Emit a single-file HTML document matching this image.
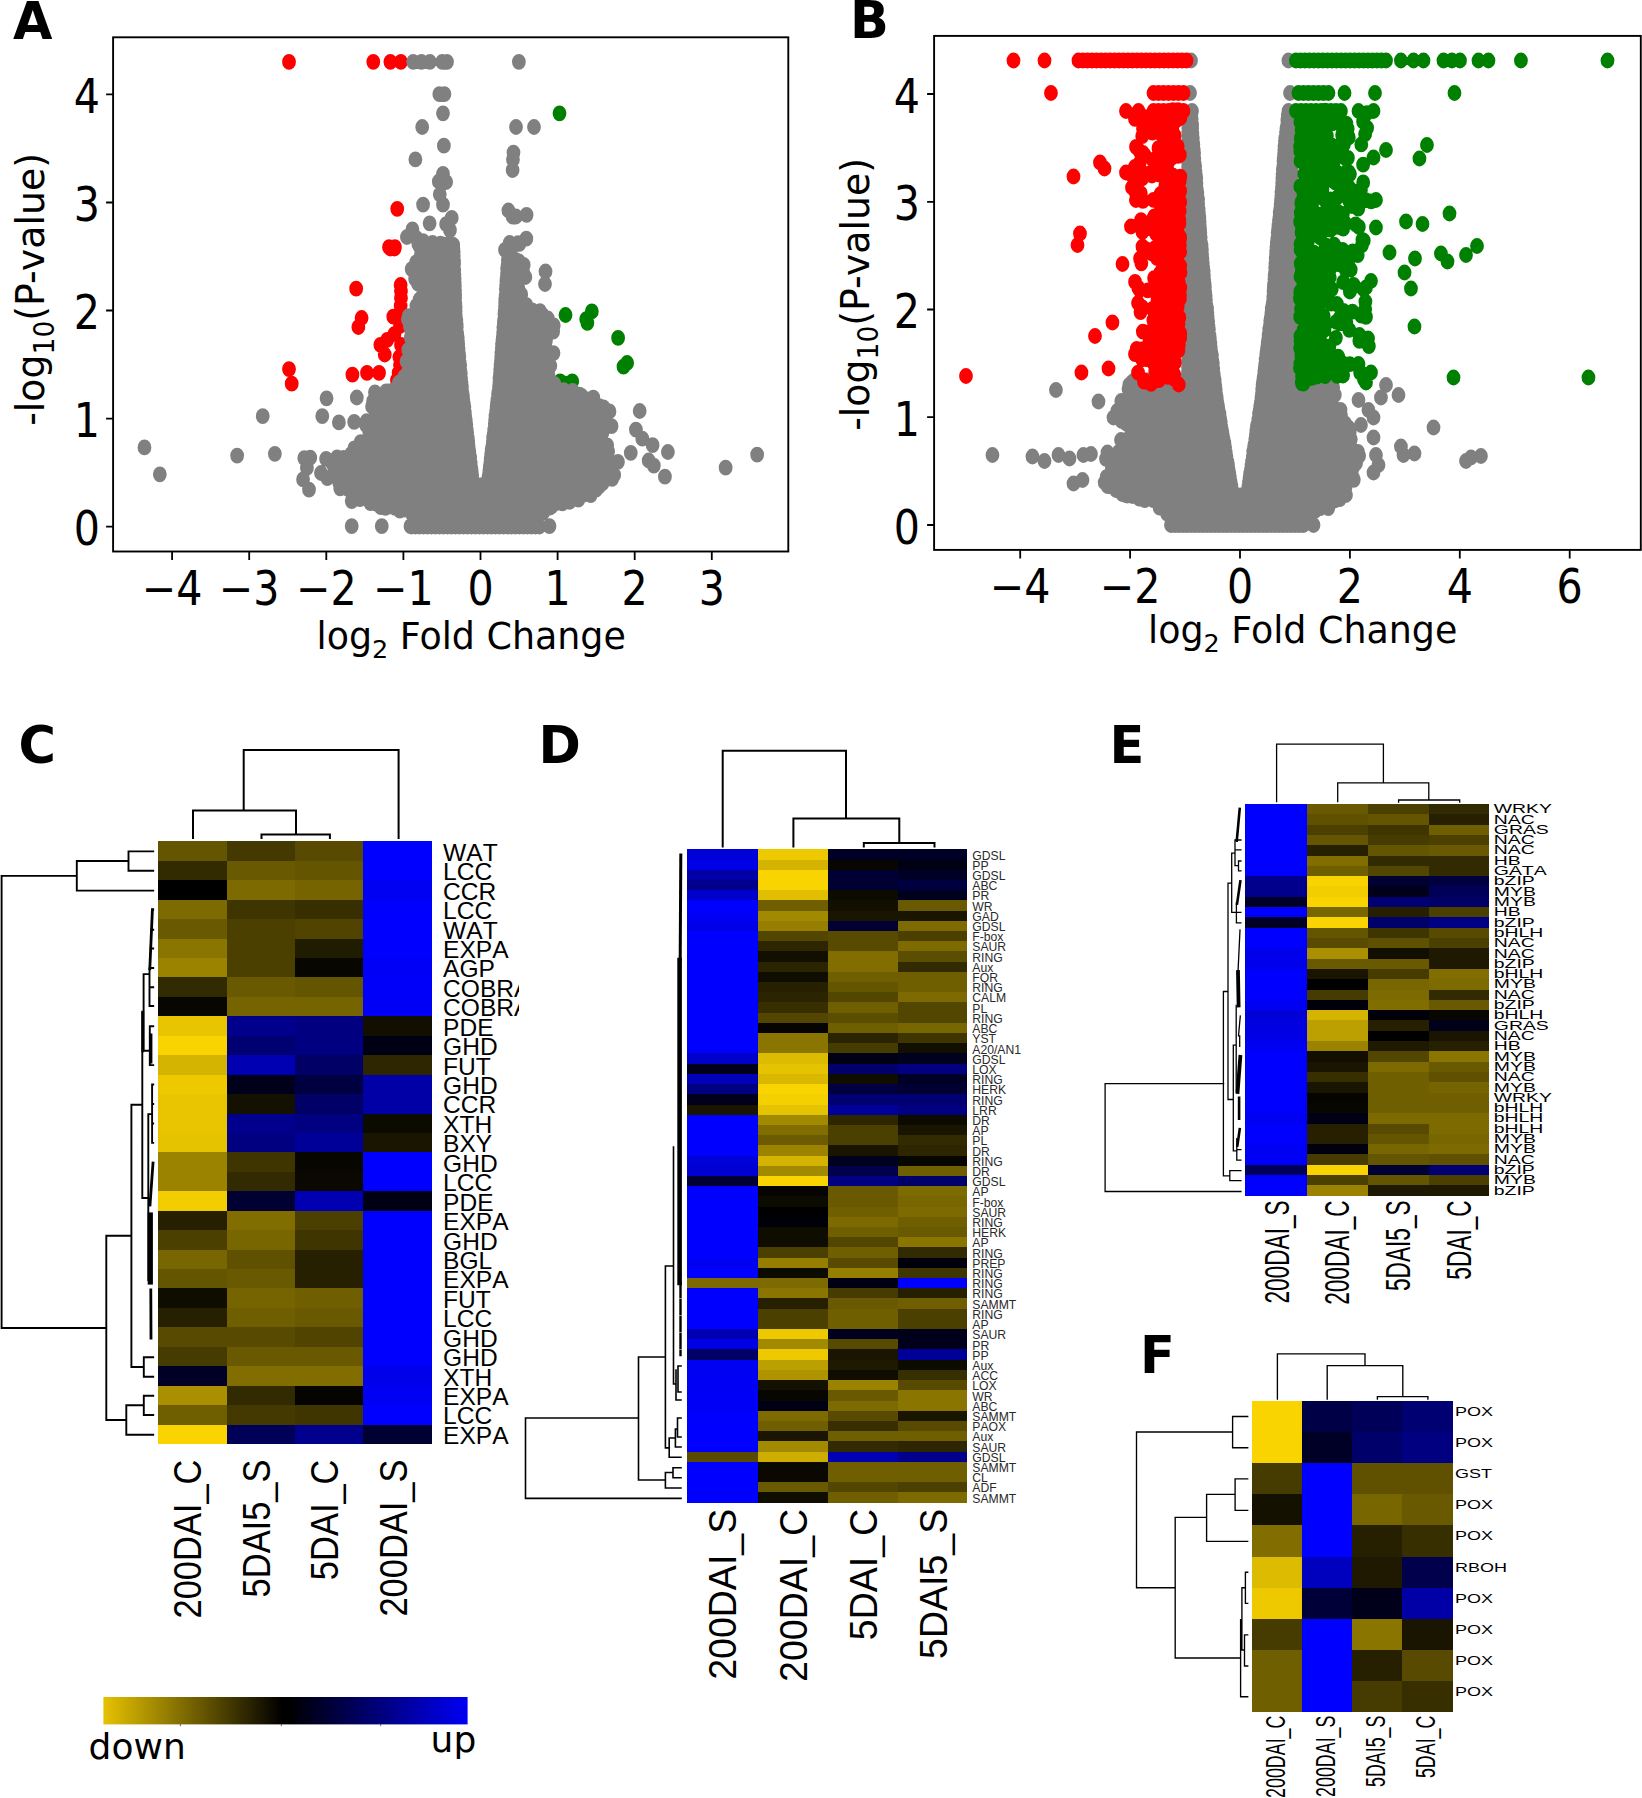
<!DOCTYPE html>
<html><head><meta charset="utf-8"><title>Figure</title>
<style>html,body{margin:0;padding:0;background:#fff}svg{display:block}</style></head><body>
<svg width="1642" height="1798" viewBox="0 0 1642 1798">
<rect width="1642" height="1798" fill="#fff"/>
<text x="13.1" y="38.7" font-family="'DejaVu Sans', 'Liberation Sans', sans-serif" font-weight="bold" font-size="51">A</text>
<text x="849.9" y="37.6" font-family="'DejaVu Sans', 'Liberation Sans', sans-serif" font-weight="bold" font-size="51">B</text>
<text x="18.5" y="762.7" font-family="'DejaVu Sans', 'Liberation Sans', sans-serif" font-weight="bold" font-size="51">C</text>
<text x="538.4" y="762.7" font-family="'DejaVu Sans', 'Liberation Sans', sans-serif" font-weight="bold" font-size="51">D</text>
<text x="1109.5" y="762.7" font-family="'DejaVu Sans', 'Liberation Sans', sans-serif" font-weight="bold" font-size="51">E</text>
<text x="1139.9" y="1372.9" font-family="'DejaVu Sans', 'Liberation Sans', sans-serif" font-weight="bold" font-size="51">F</text>
<clipPath id="clipA"><rect x="113.1" y="37.3" width="675.1999999999999" height="514.2"/></clipPath>
<g clip-path="url(#clipA)">
<path d="M330.9 61.9h0M427.4 61.8h0M447.0 61.8h0M459.0 61.8h0M454.8 208.8h0M445.4 247.2h0M452.2 247.2h0M447.0 248.5h0M451.7 248.5h0M407.8 288.7h0M458.7 285.0h0M459.1 291.0h0M458.7 305.8h0M450.3 316.7h0M457.3 318.0h0M414.0 318.0h0M410.3 327.0h0M451.7 333.8h0M443.3 339.9h0M435.5 344.8h0M440.5 354.5h0M457.3 357.0h0M456.4 372.8h0M454.5 380.0h0M403.5 374.7h0M420.2 372.8h0M434.0 372.8h0M330.9 369.1h0M334.0 383.7h0M459.1 298.0h0M458.0 326.0h0M459.1 345.0h0M458.0 365.0h0" transform="scale(0.8734 1)" stroke="#ff0000" stroke-width="15.8" stroke-linecap="round" fill="none"/>
<path d="M640.6 113.3h0M647.5 315.0h0M677.6 311.4h0M672.5 322.8h0M671.2 319.2h0M707.7 337.9h0M718.0 363.0h0M713.9 366.7h0M641.3 381.3h0M647.5 383.7h0M655.2 381.3h0" transform="scale(0.8734 1)" stroke="#008000" stroke-width="15.8" stroke-linecap="round" fill="none"/>
<path d="M481.8 244.1h0M487.5 243.9h0M491.3 244.2h0M495.2 244.0h0M500.9 244.6h0M504.3 243.6h0M509.0 244.6h0M515.0 243.1h0M518.9 244.9h0M479.0 244.1h0M486.9 247.6h0M491.8 247.3h0M496.8 248.1h0M502.2 248.2h0M506.2 248.2h0M510.8 248.1h0M514.4 249.2h0M519.1 248.9h0M481.2 247.4h0M488.4 247.8h0M493.9 252.2h0M498.6 253.1h0M500.8 251.8h0M507.3 252.3h0M511.9 252.2h0M514.2 252.7h0M519.4 251.9h0M482.0 254.3h0M491.3 250.8h0M489.7 257.2h0M494.1 256.7h0M498.9 256.0h0M503.7 255.9h0M507.6 255.8h0M511.3 256.0h0M515.1 257.5h0M519.5 256.2h0M484.7 258.0h0M488.2 258.6h0M487.7 260.3h0M493.4 260.5h0M496.9 259.9h0M500.9 261.0h0M505.8 261.0h0M510.6 260.7h0M516.4 260.8h0M519.9 261.5h0M476.4 262.4h0M486.2 261.8h0M486.4 264.4h0M490.8 265.8h0M494.3 264.8h0M497.5 264.1h0M503.8 264.5h0M507.5 264.5h0M512.1 265.2h0M515.3 264.4h0M519.9 264.1h0M475.4 266.4h0M486.7 263.8h0M479.9 268.7h0M485.3 268.3h0M489.0 268.9h0M494.3 268.5h0M498.1 270.0h0M503.9 269.5h0M507.6 269.4h0M510.7 268.3h0M514.8 270.0h0M520.1 270.1h0M471.3 269.1h0M482.6 267.5h0M476.7 273.9h0M481.9 273.9h0M485.8 274.0h0M490.7 273.1h0M494.5 274.2h0M499.3 273.2h0M503.5 274.1h0M507.4 273.6h0M511.4 273.6h0M516.3 272.6h0M520.3 274.4h0M477.0 273.7h0M476.1 278.3h0M479.8 278.1h0M484.1 277.8h0M489.5 277.1h0M494.4 277.6h0M498.7 278.4h0M502.3 276.6h0M506.8 278.0h0M511.0 276.9h0M517.0 277.9h0M520.5 278.4h0M475.3 278.8h0M483.5 282.6h0M487.1 282.0h0M491.7 281.1h0M496.9 282.5h0M502.4 282.2h0M507.4 281.4h0M510.4 281.7h0M515.4 281.2h0M520.6 282.1h0M478.6 283.7h0M479.9 279.9h0M489.7 285.1h0M493.9 286.1h0M497.6 286.6h0M501.5 285.3h0M507.0 285.0h0M512.5 285.5h0M515.5 285.1h0M520.8 285.9h0M494.1 290.6h0M497.0 290.2h0M501.6 289.2h0M506.9 290.6h0M510.9 289.7h0M516.0 290.6h0M521.0 290.4h0M488.8 291.8h0M494.3 291.1h0M491.0 294.3h0M496.3 295.2h0M499.9 294.5h0M505.3 295.0h0M509.6 294.3h0M513.1 293.8h0M517.5 295.0h0M521.1 294.8h0M483.3 296.3h0M492.4 293.7h0M491.5 299.3h0M494.6 297.8h0M499.2 298.7h0M504.4 298.6h0M507.1 299.2h0M511.5 299.2h0M516.2 298.3h0M521.1 297.9h0M480.4 299.5h0M492.0 298.6h0M488.9 302.0h0M492.0 302.9h0M497.0 303.3h0M502.6 302.8h0M507.9 302.9h0M511.4 302.6h0M517.5 303.6h0M521.3 303.5h0M485.8 302.9h0M483.1 307.2h0M486.3 307.9h0M491.7 306.8h0M496.6 307.1h0M500.2 307.4h0M503.5 307.1h0M508.6 307.9h0M514.0 306.5h0M517.3 306.3h0M521.6 307.6h0M476.7 305.8h0M484.3 305.5h0M478.9 310.2h0M481.9 310.7h0M487.4 310.8h0M491.0 311.4h0M494.8 311.7h0M499.1 311.2h0M503.8 310.6h0M508.8 311.1h0M512.8 311.0h0M517.5 310.5h0M521.6 311.5h0M475.1 316.1h0M478.9 315.9h0M485.0 316.2h0M488.6 315.0h0M494.7 314.8h0M499.6 316.2h0M502.3 314.9h0M508.4 314.9h0M511.7 316.1h0M517.2 316.0h0M521.8 315.2h0M467.9 316.1h0M473.5 318.8h0M477.0 320.1h0M481.5 320.0h0M485.3 318.7h0M489.7 318.7h0M495.3 319.6h0M499.9 318.9h0M503.6 319.0h0M509.6 320.6h0M514.4 318.8h0M516.9 320.5h0M522.5 320.1h0M467.0 319.3h0M469.5 320.4h0M470.8 323.2h0M474.3 324.3h0M478.6 323.2h0M482.5 323.8h0M486.5 324.6h0M492.7 324.2h0M497.3 324.1h0M500.6 324.0h0M505.3 324.8h0M510.4 323.3h0M515.0 324.3h0M519.1 324.4h0M522.8 324.6h0M471.1 327.8h0M475.8 327.1h0M479.7 327.9h0M483.7 327.7h0M490.0 328.2h0M493.9 328.9h0M499.7 327.7h0M504.4 328.1h0M509.0 327.8h0M514.8 328.3h0M519.0 328.5h0M523.0 327.0h0M469.3 326.2h0M471.4 332.0h0M475.8 331.7h0M482.4 332.3h0M486.2 333.1h0M491.0 333.2h0M495.8 332.8h0M499.3 332.4h0M505.5 331.3h0M510.6 331.5h0M514.2 331.5h0M519.0 332.4h0M523.4 333.1h0M470.8 331.3h0M474.0 336.5h0M477.7 336.8h0M482.4 335.4h0M486.8 335.5h0M491.2 336.9h0M496.3 337.2h0M501.7 335.5h0M506.9 337.3h0M509.4 337.2h0M514.8 336.4h0M520.6 335.9h0M524.1 337.3h0M470.4 337.7h0M471.2 336.9h0M473.8 340.0h0M477.5 340.7h0M482.2 340.5h0M488.1 340.5h0M491.7 340.8h0M496.7 341.2h0M501.6 341.6h0M507.1 341.1h0M510.1 339.8h0M516.2 341.2h0M520.2 340.3h0M524.3 341.0h0M474.4 339.4h0M473.3 345.8h0M479.5 345.6h0M482.1 343.9h0M487.3 344.7h0M492.7 344.0h0M497.2 343.9h0M500.8 345.2h0M506.5 345.1h0M510.7 344.8h0M515.0 344.5h0M520.8 345.5h0M524.6 344.0h0M473.2 348.8h0M478.0 349.6h0M482.9 349.3h0M489.0 348.7h0M492.7 349.5h0M498.2 348.9h0M501.6 348.2h0M507.5 348.2h0M510.3 349.1h0M515.9 349.4h0M520.2 349.6h0M525.0 348.4h0M467.5 349.9h0M472.2 347.6h0M473.1 353.7h0M477.9 352.4h0M483.4 353.3h0M488.7 354.1h0M493.4 353.1h0M497.9 352.8h0M501.5 353.0h0M507.7 354.0h0M510.9 352.9h0M515.9 352.9h0M520.7 353.0h0M525.5 353.3h0M473.0 356.8h0M477.9 358.2h0M481.3 356.4h0M486.2 357.5h0M490.8 358.3h0M495.4 358.0h0M498.5 357.5h0M504.6 356.6h0M507.4 357.9h0M513.7 356.6h0M517.5 356.7h0M522.2 357.7h0M525.9 356.8h0M472.1 361.3h0M477.9 361.9h0M481.4 361.7h0M486.4 362.0h0M491.3 361.4h0M495.7 361.9h0M500.2 362.2h0M504.7 362.4h0M509.5 361.9h0M513.0 362.0h0M518.2 361.4h0M521.8 360.9h0M526.3 362.6h0M465.5 361.3h0M473.8 359.8h0M471.4 365.0h0M476.8 366.4h0M480.3 364.9h0M485.5 366.0h0M491.1 364.9h0M493.9 365.2h0M498.7 365.3h0M504.5 366.0h0M507.9 365.2h0M512.6 365.1h0M518.3 365.4h0M522.4 366.4h0M526.9 365.3h0M471.4 367.6h0M471.3 369.4h0M475.0 370.9h0M481.4 369.8h0M485.4 370.0h0M489.5 371.0h0M495.0 369.5h0M498.2 369.9h0M503.7 370.6h0M509.2 370.2h0M512.5 369.3h0M517.6 369.5h0M523.5 370.0h0M527.2 371.0h0M471.9 368.0h0M471.5 374.9h0M476.2 373.4h0M479.7 374.6h0M484.0 374.2h0M489.6 375.1h0M494.7 374.9h0M498.8 374.8h0M503.8 375.0h0M507.8 374.9h0M512.8 374.3h0M518.3 373.5h0M523.7 373.8h0M527.6 373.4h0M466.2 373.6h0M468.2 373.8h0M466.7 379.3h0M472.3 378.7h0M475.1 378.2h0M481.4 377.9h0M485.8 378.3h0M489.3 379.4h0M495.8 377.8h0M500.1 378.0h0M504.2 378.5h0M508.8 378.1h0M513.7 378.7h0M518.1 377.8h0M523.9 378.1h0M527.8 378.5h0M462.8 376.8h0M464.3 379.1h0M463.3 382.0h0M467.3 383.3h0M472.5 381.8h0M476.3 381.9h0M480.8 382.4h0M485.3 383.4h0M490.8 382.6h0M496.0 383.1h0M501.1 382.4h0M504.7 382.4h0M508.7 382.4h0M514.9 383.6h0M519.8 382.9h0M524.1 381.6h0M528.4 382.3h0M456.8 382.6h0M458.9 387.0h0M462.1 387.3h0M468.5 386.9h0M472.0 386.8h0M476.2 387.2h0M482.9 386.8h0M487.0 387.5h0M490.5 387.7h0M496.2 386.2h0M499.7 386.3h0M505.5 387.2h0M509.7 387.7h0M514.5 386.7h0M518.7 387.7h0M523.4 387.6h0M528.9 386.9h0M454.6 388.8h0M450.6 390.2h0M455.7 390.6h0M460.6 390.5h0M464.5 391.7h0M468.2 391.1h0M472.7 390.1h0M477.5 392.0h0M483.9 391.3h0M487.2 391.3h0M492.8 390.8h0M497.1 391.6h0M500.5 390.4h0M506.1 390.3h0M510.6 391.1h0M514.8 391.0h0M519.7 391.1h0M524.5 391.3h0M529.2 391.3h0M442.1 391.4h0M444.4 391.5h0M450.8 392.0h0M442.5 396.2h0M447.9 395.9h0M451.5 395.1h0M456.5 396.0h0M461.0 395.3h0M465.4 396.0h0M469.7 394.3h0M475.3 396.0h0M479.9 395.4h0M484.5 394.8h0M488.8 394.3h0M492.3 395.1h0M497.8 395.0h0M501.4 395.6h0M507.1 394.7h0M511.2 395.0h0M515.6 394.3h0M521.8 396.1h0M525.8 395.9h0M530.0 395.8h0M433.3 395.5h0M443.1 393.7h0M436.7 400.3h0M440.1 398.9h0M445.5 399.0h0M449.7 400.2h0M456.1 399.2h0M459.8 399.6h0M463.8 398.5h0M470.4 399.0h0M474.2 400.3h0M480.0 399.3h0M482.9 399.0h0M489.3 400.2h0M492.3 400.1h0M497.4 399.3h0M501.7 400.2h0M508.2 398.8h0M512.1 398.8h0M517.4 398.5h0M520.3 399.9h0M525.5 400.2h0M530.4 399.8h0M427.2 401.2h0M429.2 398.3h0M436.9 398.2h0M433.8 403.1h0M439.6 404.2h0M443.5 403.9h0M449.3 403.8h0M452.4 403.2h0M458.6 403.9h0M461.7 403.9h0M465.8 404.6h0M471.2 403.7h0M476.0 402.7h0M480.8 403.2h0M484.6 404.2h0M488.8 403.2h0M495.0 403.1h0M498.5 403.7h0M502.9 404.4h0M509.3 402.7h0M512.7 404.1h0M517.1 404.5h0M522.0 403.0h0M526.7 403.9h0M531.1 403.9h0M435.5 404.3h0M432.6 408.7h0M436.5 408.4h0M441.3 408.0h0M446.1 407.7h0M452.1 408.4h0M456.9 407.3h0M460.9 407.2h0M465.8 407.8h0M469.3 408.0h0M475.6 407.9h0M480.6 407.2h0M483.7 406.8h0M489.2 407.7h0M493.8 407.3h0M499.4 406.9h0M504.3 407.9h0M508.2 408.4h0M512.3 407.1h0M517.1 406.9h0M521.9 408.0h0M527.1 407.3h0M531.7 407.0h0M426.0 406.4h0M433.4 408.9h0M430.2 411.8h0M435.5 411.4h0M441.4 411.1h0M444.9 412.5h0M450.7 411.3h0M454.1 412.5h0M457.7 411.5h0M464.2 411.3h0M467.7 411.6h0M472.4 411.2h0M476.1 413.0h0M482.3 412.5h0M485.7 411.5h0M491.0 411.5h0M495.4 412.9h0M499.8 411.7h0M505.8 412.2h0M508.3 411.8h0M514.3 411.1h0M518.2 412.4h0M523.9 412.2h0M528.6 411.9h0M532.2 412.7h0M429.8 410.7h0M430.5 415.5h0M434.4 415.6h0M439.7 415.8h0M444.3 417.2h0M449.5 416.9h0M453.0 416.0h0M457.4 416.6h0M462.7 415.7h0M466.6 415.6h0M471.8 416.0h0M478.0 416.6h0M481.1 415.9h0M485.5 417.1h0M490.6 416.7h0M496.1 417.0h0M499.2 415.8h0M504.7 415.4h0M510.5 415.9h0M514.9 416.2h0M517.9 416.0h0M522.9 415.3h0M527.4 416.4h0M532.5 415.8h0M430.7 415.2h0M430.2 420.7h0M433.6 419.8h0M438.6 420.8h0M443.6 420.2h0M449.4 419.9h0M452.8 420.1h0M457.3 419.5h0M461.6 420.7h0M467.6 421.0h0M473.2 420.0h0M477.2 421.2h0M480.9 420.8h0M486.7 421.3h0M491.8 419.9h0M496.0 419.6h0M500.2 420.2h0M504.1 420.2h0M509.4 420.4h0M514.1 419.7h0M519.0 420.4h0M523.2 420.7h0M528.1 419.6h0M533.3 420.2h0M419.8 421.2h0M426.8 420.0h0M429.2 423.7h0M434.1 423.7h0M439.0 424.8h0M443.7 424.3h0M448.0 423.6h0M452.9 425.4h0M458.2 424.1h0M463.2 424.0h0M467.4 424.8h0M473.3 424.3h0M477.2 425.5h0M482.4 424.9h0M486.8 424.4h0M491.1 424.2h0M496.8 425.4h0M500.5 425.4h0M504.4 423.9h0M510.3 424.2h0M514.7 425.6h0M518.9 424.0h0M523.9 425.0h0M528.6 423.6h0M533.9 424.4h0M419.2 425.2h0M429.1 425.9h0M431.4 428.5h0M434.7 429.6h0M439.4 429.2h0M445.0 429.2h0M450.3 429.4h0M453.2 429.0h0M458.7 428.9h0M463.2 428.4h0M468.8 428.9h0M472.4 428.3h0M477.3 428.2h0M482.5 428.1h0M486.2 427.9h0M491.0 429.2h0M495.8 428.7h0M502.0 428.8h0M505.3 429.5h0M511.7 427.9h0M515.0 428.8h0M521.0 428.6h0M525.6 428.3h0M530.3 428.5h0M534.4 429.3h0M429.3 429.6h0M431.4 433.7h0M436.6 432.3h0M440.3 433.3h0M444.7 432.4h0M448.9 433.2h0M455.8 433.9h0M458.7 433.4h0M464.0 433.3h0M468.7 433.9h0M474.8 432.1h0M478.9 432.2h0M482.1 432.6h0M488.4 434.0h0M491.7 432.7h0M496.2 433.1h0M502.0 432.7h0M506.3 433.6h0M512.2 432.6h0M515.9 433.2h0M521.5 434.0h0M525.4 433.4h0M530.5 433.6h0M534.9 432.4h0M422.8 432.0h0M429.6 431.1h0M429.2 436.5h0M433.9 436.7h0M437.7 437.2h0M442.6 436.7h0M446.5 436.3h0M453.1 436.8h0M455.9 436.6h0M461.4 438.2h0M465.4 437.9h0M470.7 437.0h0M476.1 437.0h0M479.0 437.3h0M485.0 437.4h0M488.8 438.1h0M494.8 438.2h0M498.4 437.9h0M503.7 436.6h0M506.7 436.5h0M511.6 436.3h0M516.8 437.7h0M521.3 437.2h0M525.3 436.6h0M532.1 436.2h0M535.6 437.8h0M429.7 438.5h0M424.8 442.4h0M427.9 442.3h0M433.3 441.8h0M437.6 442.2h0M441.8 441.6h0M446.9 441.2h0M451.9 441.7h0M457.6 441.1h0M461.8 441.1h0M465.7 442.2h0M470.5 440.6h0M475.2 441.9h0M479.5 441.9h0M485.0 441.8h0M488.8 440.6h0M493.4 441.1h0M498.7 440.4h0M503.5 441.2h0M507.8 441.5h0M513.9 440.8h0M518.4 441.0h0M522.8 440.6h0M528.0 441.3h0M532.6 440.8h0M536.1 441.8h0M412.9 442.1h0M422.1 440.8h0M420.5 444.9h0M424.4 445.4h0M429.1 445.0h0M433.7 446.4h0M439.0 445.9h0M442.9 445.7h0M446.7 446.3h0M452.7 445.5h0M457.3 445.4h0M461.4 445.1h0M466.6 445.7h0M471.1 444.7h0M476.0 445.5h0M480.6 445.8h0M486.1 444.9h0M489.7 446.6h0M495.1 445.2h0M499.7 446.6h0M503.7 446.3h0M507.7 446.6h0M513.3 445.1h0M518.8 445.9h0M523.7 446.3h0M528.1 445.6h0M533.2 444.7h0M536.5 446.0h0M418.9 447.1h0M410.9 449.4h0M416.6 448.9h0M421.1 450.4h0M425.6 449.3h0M430.9 450.5h0M435.5 449.9h0M440.5 450.4h0M443.4 449.5h0M448.0 448.9h0M453.2 450.5h0M459.0 449.0h0M462.1 449.6h0M468.3 450.0h0M473.1 448.9h0M477.9 449.2h0M481.8 450.6h0M486.6 449.2h0M491.2 449.7h0M494.3 449.5h0M499.7 450.1h0M504.2 450.0h0M509.8 449.2h0M513.2 450.2h0M518.6 449.1h0M522.5 450.7h0M528.3 449.5h0M532.0 450.8h0M537.2 450.3h0M405.7 448.4h0M410.6 451.1h0M402.2 453.9h0M407.1 454.9h0M411.4 454.4h0M415.8 454.2h0M420.6 454.7h0M425.3 454.7h0M430.9 453.9h0M436.1 453.8h0M440.3 454.2h0M444.3 453.1h0M448.9 453.6h0M453.7 454.9h0M458.0 454.4h0M463.5 453.5h0M467.6 453.3h0M473.4 453.5h0M477.0 453.7h0M482.6 454.7h0M486.7 454.1h0M490.3 454.8h0M494.9 453.7h0M500.2 454.4h0M505.6 453.7h0M510.8 454.9h0M513.4 454.3h0M519.1 453.7h0M523.8 453.6h0M528.9 454.2h0M534.3 455.0h0M537.5 453.8h0M404.0 452.3h0M393.1 458.0h0M398.2 457.6h0M403.7 457.6h0M407.0 457.5h0M411.7 458.7h0M415.7 457.5h0M421.7 458.4h0M426.6 457.7h0M431.4 458.7h0M436.0 457.4h0M440.0 457.2h0M445.6 459.1h0M450.3 457.2h0M453.8 458.3h0M458.9 457.4h0M464.1 457.8h0M468.2 457.4h0M473.0 457.5h0M476.6 458.2h0M481.8 458.8h0M486.3 458.0h0M490.6 457.6h0M496.2 458.3h0M500.9 458.9h0M504.7 458.9h0M509.5 459.1h0M515.1 458.0h0M520.0 458.9h0M525.5 458.0h0M528.0 457.5h0M534.5 458.7h0M538.3 457.5h0M385.9 457.4h0M389.2 463.1h0M392.5 462.2h0M397.3 461.9h0M402.0 463.2h0M407.2 462.4h0M412.7 463.2h0M418.0 462.5h0M421.7 463.2h0M426.2 462.0h0M431.6 461.9h0M435.5 462.3h0M440.4 462.1h0M445.0 462.3h0M448.8 463.1h0M453.5 462.5h0M459.3 462.2h0M463.3 461.6h0M468.3 462.0h0M473.3 461.9h0M478.6 462.4h0M481.6 462.2h0M488.5 461.4h0M492.3 463.3h0M496.5 462.6h0M501.2 462.0h0M506.4 462.6h0M510.4 462.4h0M515.6 462.9h0M519.2 461.6h0M524.4 461.9h0M530.3 462.3h0M535.1 462.2h0M538.9 462.8h0M380.8 463.7h0M382.5 463.7h0M386.0 465.7h0M390.9 465.7h0M395.3 466.7h0M400.6 466.9h0M403.2 467.5h0M409.5 466.8h0M412.5 467.1h0M418.1 467.0h0M424.1 467.4h0M426.7 467.2h0M432.2 467.1h0M436.7 466.5h0M441.5 465.8h0M445.9 467.1h0M450.0 465.8h0M456.4 466.9h0M460.4 465.8h0M464.1 466.2h0M470.6 466.7h0M475.2 466.0h0M478.7 466.7h0M484.4 465.8h0M489.1 466.5h0M491.8 466.5h0M497.3 466.9h0M503.2 466.6h0M507.3 466.4h0M512.2 465.8h0M516.8 465.9h0M521.1 466.0h0M525.2 465.9h0M529.9 466.8h0M534.9 466.4h0M539.5 467.3h0M387.2 465.9h0M382.9 470.3h0M386.7 471.3h0M392.2 470.3h0M395.8 471.4h0M401.3 471.2h0M406.2 471.0h0M411.2 471.8h0M416.8 470.7h0M420.6 470.3h0M426.0 470.0h0M429.8 471.5h0M433.9 471.2h0M439.9 470.9h0M444.2 470.1h0M450.4 471.3h0M454.8 470.0h0M459.5 470.2h0M463.0 470.9h0M468.7 470.0h0M473.8 471.0h0M478.9 471.6h0M483.2 470.5h0M488.6 471.2h0M491.9 471.5h0M497.6 470.3h0M501.3 469.8h0M506.8 470.3h0M511.0 470.3h0M515.4 470.8h0M520.5 470.4h0M525.3 470.8h0M531.4 470.1h0M536.2 471.5h0M540.0 470.9h0M383.7 471.9h0M386.7 474.1h0M393.0 474.7h0M397.5 474.5h0M401.5 474.7h0M406.9 475.9h0M411.2 475.1h0M415.6 474.5h0M421.8 474.2h0M426.6 475.3h0M429.4 475.8h0M434.3 475.1h0M439.1 476.0h0M444.3 475.7h0M448.6 475.3h0M453.4 474.1h0M459.3 476.0h0M464.4 475.7h0M469.4 475.0h0M472.6 475.1h0M477.6 475.1h0M482.8 475.0h0M487.2 475.4h0M492.5 475.0h0M496.6 475.0h0M502.4 475.9h0M507.3 474.3h0M511.4 474.7h0M517.2 475.9h0M522.6 475.9h0M527.3 475.7h0M532.1 474.0h0M535.9 475.2h0M540.6 475.2h0M386.6 476.8h0M391.3 478.4h0M398.0 480.1h0M400.9 478.3h0M407.6 479.6h0M411.7 479.4h0M417.0 479.8h0M420.1 478.3h0M426.7 480.2h0M431.6 479.0h0M435.2 478.9h0M439.3 479.7h0M444.7 479.4h0M450.1 478.9h0M455.2 479.1h0M459.0 480.0h0M463.7 478.5h0M468.7 479.2h0M474.7 478.9h0M478.2 479.5h0M483.1 479.2h0M487.9 480.0h0M492.5 478.7h0M497.6 478.9h0M503.3 479.5h0M508.3 479.3h0M511.5 479.7h0M516.6 478.6h0M521.8 480.2h0M526.5 478.9h0M532.6 480.2h0M536.2 478.5h0M541.0 479.8h0M390.7 479.6h0M398.1 483.4h0M403.1 482.4h0M407.2 483.2h0M411.0 484.2h0M416.0 482.8h0M422.5 484.3h0M427.4 483.1h0M432.2 482.7h0M436.5 484.3h0M440.1 482.7h0M446.1 484.2h0M451.0 484.3h0M455.2 483.1h0M459.2 482.9h0M465.9 482.5h0M469.0 483.1h0M473.5 483.0h0M478.6 482.6h0M484.2 483.5h0M489.1 483.9h0M493.8 484.3h0M497.6 482.8h0M502.4 483.0h0M508.7 484.2h0M513.0 482.7h0M517.4 483.5h0M522.1 484.0h0M528.5 483.3h0M532.4 484.1h0M536.9 482.8h0M541.5 484.4h0M388.5 483.0h0M390.5 482.1h0M583.5 243.0h0M585.9 244.6h0M589.8 244.3h0M593.0 243.2h0M589.3 244.5h0M582.9 248.1h0M585.2 247.8h0M585.3 248.4h0M581.9 257.4h0M585.2 257.5h0M586.6 258.5h0M581.5 260.1h0M586.5 260.3h0M590.9 260.1h0M594.3 261.5h0M591.6 260.8h0M581.2 265.0h0M585.0 264.0h0M589.7 264.5h0M594.3 265.3h0M599.6 264.9h0M596.9 264.1h0M580.6 268.4h0M585.4 268.7h0M589.7 269.8h0M592.5 270.0h0M598.8 271.0h0M593.7 268.4h0M580.5 273.4h0M583.9 272.8h0M587.5 274.1h0M592.8 274.4h0M580.1 278.2h0M584.4 277.0h0M588.1 277.2h0M590.5 278.4h0M601.5 277.0h0M593.7 279.3h0M579.8 280.9h0M583.6 281.0h0M587.8 282.5h0M589.8 281.2h0M579.5 285.3h0M583.2 285.1h0M586.8 286.5h0M589.9 286.7h0M589.9 285.5h0M579.2 289.2h0M581.7 290.8h0M585.2 290.5h0M589.8 290.6h0M593.6 288.9h0M590.7 292.0h0M578.9 295.3h0M583.9 294.0h0M588.1 294.6h0M592.2 294.9h0M596.8 294.4h0M593.5 294.5h0M578.5 299.1h0M581.6 298.0h0M586.0 298.1h0M589.1 297.7h0M592.2 298.3h0M593.5 298.2h0M578.4 302.7h0M583.9 302.0h0M587.4 303.2h0M592.8 302.9h0M597.1 303.7h0M602.5 304.8h0M596.1 303.9h0M578.2 306.3h0M582.2 306.5h0M586.7 307.5h0M589.9 307.5h0M594.7 307.4h0M598.4 306.9h0M601.7 306.9h0M601.4 306.1h0M577.8 311.1h0M581.2 311.1h0M586.6 311.7h0M590.6 311.5h0M595.7 311.4h0M598.6 311.6h0M603.2 310.3h0M608.4 310.2h0M618.2 311.1h0M616.0 312.6h0M609.5 310.5h0M577.6 314.6h0M581.5 314.8h0M587.5 315.4h0M591.1 315.2h0M596.9 314.9h0M601.3 315.8h0M605.2 315.1h0M609.9 315.3h0M614.3 315.6h0M621.5 315.2h0M617.1 315.2h0M577.0 320.4h0M582.5 320.2h0M585.6 319.9h0M590.8 319.2h0M595.2 320.5h0M599.5 319.9h0M603.4 319.9h0M607.4 320.1h0M612.5 320.6h0M616.5 320.0h0M620.2 319.4h0M627.3 318.5h0M624.3 318.4h0M576.9 322.9h0M581.4 324.4h0M586.7 323.6h0M590.8 324.2h0M595.8 324.3h0M600.1 323.3h0M605.1 323.9h0M609.4 324.8h0M613.1 324.4h0M618.2 324.3h0M624.3 323.3h0M628.1 323.9h0M634.0 325.4h0M627.7 325.0h0M576.3 327.3h0M581.2 327.9h0M585.7 329.0h0M590.5 328.9h0M594.7 328.5h0M598.8 327.6h0M605.0 328.4h0M610.0 327.8h0M613.4 327.7h0M618.8 327.0h0M623.1 328.3h0M627.3 327.6h0M627.3 326.5h0M576.1 332.8h0M580.9 331.7h0M584.9 332.6h0M588.4 332.8h0M594.8 331.6h0M599.0 332.6h0M602.7 333.0h0M606.9 332.1h0M611.7 332.1h0M617.4 332.3h0M621.4 333.2h0M625.1 331.6h0M633.3 331.6h0M626.1 333.5h0M575.8 336.8h0M579.5 336.1h0M585.5 335.8h0M590.7 337.1h0M594.0 336.1h0M598.8 336.8h0M603.1 336.8h0M608.0 337.1h0M613.8 336.6h0M617.6 335.5h0M623.0 337.4h0M622.2 334.5h0M575.3 340.0h0M579.0 340.9h0M584.4 340.2h0M588.2 340.2h0M592.9 340.3h0M596.8 340.1h0M601.0 340.1h0M604.8 340.2h0M610.5 340.1h0M613.8 341.3h0M619.0 340.6h0M623.1 341.4h0M625.1 340.6h0M574.8 344.6h0M579.3 344.7h0M583.8 344.9h0M588.9 345.6h0M592.1 343.8h0M596.7 343.9h0M602.4 345.0h0M605.7 344.2h0M611.5 345.5h0M615.6 345.2h0M620.2 344.7h0M623.9 344.9h0M574.6 348.1h0M578.4 349.9h0M583.7 349.0h0M587.7 349.7h0M592.7 350.0h0M596.3 350.0h0M600.7 348.3h0M606.2 349.3h0M610.1 349.1h0M616.6 348.9h0M620.8 349.2h0M624.9 348.3h0M624.1 348.8h0M574.1 352.9h0M578.8 353.5h0M582.2 352.6h0M588.3 352.6h0M591.6 353.7h0M596.8 354.1h0M601.9 352.4h0M606.7 352.7h0M611.7 353.6h0M616.2 352.3h0M619.2 353.8h0M624.1 352.6h0M633.7 353.1h0M624.5 354.5h0M573.9 357.7h0M578.6 358.3h0M581.9 357.5h0M587.4 358.0h0M591.7 357.8h0M596.2 357.4h0M602.7 356.9h0M605.8 358.2h0M611.3 356.5h0M614.9 356.9h0M619.8 358.1h0M625.4 358.4h0M626.6 357.4h0M573.6 361.6h0M577.7 361.7h0M581.7 360.7h0M588.5 361.3h0M591.7 360.9h0M597.0 362.4h0M600.7 361.6h0M606.1 362.1h0M611.0 361.1h0M614.8 362.0h0M619.2 362.3h0M623.8 361.0h0M626.7 362.6h0M573.1 364.9h0M578.4 365.1h0M581.5 364.9h0M585.9 366.6h0M591.3 365.0h0M595.2 366.5h0M601.2 366.6h0M604.6 365.0h0M609.8 365.2h0M614.1 365.2h0M619.9 365.1h0M623.5 365.9h0M630.1 365.8h0M624.9 364.0h0M572.7 369.4h0M576.8 369.0h0M582.7 370.2h0M586.3 370.1h0M592.1 369.3h0M595.5 370.4h0M600.1 370.4h0M606.0 369.1h0M609.2 369.6h0M614.9 370.6h0M619.4 370.8h0M622.9 369.8h0M626.5 371.0h0M572.5 373.9h0M577.1 375.1h0M582.4 374.4h0M587.0 375.2h0M591.5 374.5h0M596.3 373.5h0M599.7 374.3h0M603.7 374.8h0M608.1 374.5h0M613.2 373.8h0M618.6 373.6h0M622.9 374.9h0M627.9 375.0h0M625.3 373.0h0M571.9 378.1h0M575.4 377.4h0M580.1 378.1h0M585.4 379.4h0M590.9 377.5h0M595.8 377.9h0M599.9 378.8h0M605.5 379.3h0M609.1 378.0h0M613.8 378.0h0M619.2 378.3h0M623.8 377.7h0M624.6 377.0h0M571.8 382.4h0M575.5 383.1h0M581.2 382.9h0M586.8 381.7h0M589.6 381.7h0M595.2 383.2h0M600.4 382.7h0M605.6 382.3h0M608.6 382.9h0M613.2 382.1h0M617.9 381.9h0M622.8 382.7h0M634.6 383.9h0M627.5 383.3h0M571.4 386.9h0M576.0 387.5h0M580.9 387.7h0M584.7 387.3h0M590.2 386.7h0M593.4 386.8h0M598.7 387.0h0M604.0 386.8h0M607.6 386.1h0M613.6 387.2h0M619.1 387.4h0M622.2 386.7h0M627.4 387.4h0M627.6 386.7h0M570.6 392.0h0M574.1 390.8h0M578.9 391.4h0M583.7 390.3h0M588.9 391.2h0M594.3 390.9h0M597.9 390.7h0M603.9 390.4h0M606.5 391.8h0M612.2 390.3h0M616.1 391.8h0M622.1 390.1h0M626.6 390.4h0M630.7 391.2h0M634.4 391.9h0M639.7 390.3h0M645.4 390.2h0M655.7 390.9h0M570.2 394.3h0M574.9 395.1h0M578.9 396.0h0M583.4 395.5h0M587.8 396.0h0M594.5 395.4h0M597.8 395.6h0M603.8 395.8h0M606.5 395.2h0M611.5 395.3h0M618.0 395.9h0M621.1 395.3h0M625.9 394.5h0M631.6 395.7h0M635.4 395.0h0M640.9 395.7h0M645.1 394.4h0M648.9 394.5h0M655.3 395.2h0M659.6 394.9h0M663.6 394.6h0M665.6 395.6h0M569.5 399.9h0M574.3 400.2h0M579.7 399.2h0M583.6 399.1h0M587.7 399.1h0M592.8 399.1h0M596.7 400.1h0M602.4 399.8h0M607.1 399.2h0M611.2 398.9h0M615.1 398.6h0M620.8 400.2h0M624.3 399.2h0M628.4 398.7h0M634.2 400.2h0M637.6 398.9h0M643.7 398.9h0M648.6 399.1h0M652.3 398.8h0M656.5 399.2h0M661.0 399.9h0M665.1 399.7h0M671.4 399.1h0M679.3 397.7h0M669.2 399.2h0M569.0 403.2h0M572.5 403.4h0M577.9 404.5h0M582.7 404.4h0M588.5 403.7h0M591.5 404.2h0M596.1 403.7h0M600.8 402.8h0M606.2 402.9h0M612.2 403.8h0M616.7 404.5h0M621.1 403.9h0M625.1 404.2h0M630.3 402.9h0M634.6 403.4h0M639.3 404.0h0M644.4 403.7h0M649.3 404.3h0M652.4 402.9h0M657.0 402.9h0M663.7 403.2h0M667.2 403.5h0M672.2 403.2h0M677.4 403.3h0M677.7 402.0h0M568.6 406.9h0M572.6 408.3h0M578.1 408.1h0M582.5 407.8h0M586.7 407.7h0M591.6 408.2h0M596.1 407.1h0M601.0 407.9h0M606.7 406.8h0M612.4 408.5h0M615.8 407.1h0M621.5 408.8h0M624.8 408.3h0M631.1 408.7h0M634.4 407.0h0M639.1 407.3h0M645.6 408.6h0M649.3 407.1h0M653.8 407.3h0M659.3 408.2h0M664.3 407.7h0M668.4 407.7h0M672.9 407.7h0M678.4 408.2h0M682.4 407.9h0M691.0 407.3h0M686.1 406.1h0M685.5 409.2h0M568.1 411.6h0M572.2 411.6h0M576.5 412.2h0M582.8 411.8h0M586.0 411.2h0M590.4 412.5h0M595.7 412.4h0M601.7 411.2h0M605.0 411.6h0M611.1 412.5h0M614.8 411.9h0M619.7 411.9h0M625.4 411.5h0M630.2 412.8h0M634.5 412.9h0M640.0 411.3h0M644.8 411.4h0M649.1 411.2h0M652.7 411.9h0M658.7 412.4h0M662.0 412.8h0M668.3 412.0h0M671.1 411.6h0M676.4 411.8h0M682.7 412.2h0M687.1 411.1h0M697.8 411.4h0M689.9 410.2h0M687.3 411.6h0M567.3 415.8h0M571.0 416.5h0M576.5 416.2h0M581.4 415.7h0M585.5 415.8h0M590.8 415.4h0M595.0 416.2h0M599.8 417.0h0M605.4 416.1h0M610.6 415.2h0M614.4 416.8h0M620.2 416.2h0M624.6 416.7h0M629.7 416.8h0M635.3 417.0h0M639.9 416.5h0M644.1 416.3h0M649.1 416.3h0M654.5 416.9h0M657.5 416.7h0M663.6 416.4h0M669.1 415.3h0M672.9 416.0h0M678.8 415.5h0M682.7 415.5h0M688.0 416.2h0M694.7 414.2h0M689.2 417.7h0M566.9 420.0h0M570.4 420.8h0M576.6 419.5h0M581.7 420.5h0M584.4 420.4h0M589.7 419.6h0M595.7 421.3h0M598.6 420.3h0M603.6 420.7h0M607.9 420.1h0M613.3 420.3h0M618.0 420.6h0M623.9 421.3h0M628.5 421.1h0M631.6 419.9h0M636.8 420.7h0M641.8 420.1h0M647.4 420.0h0M649.9 419.6h0M655.0 420.9h0M661.1 419.5h0M664.4 419.9h0M670.3 421.2h0M673.8 419.6h0M680.1 421.3h0M684.2 420.3h0M689.0 420.9h0M694.0 421.0h0M689.7 419.0h0M566.5 424.0h0M570.3 425.5h0M576.6 425.5h0M581.1 425.3h0M585.8 424.7h0M588.8 425.1h0M595.3 425.3h0M598.2 423.7h0M604.5 424.6h0M609.6 425.6h0M613.3 425.0h0M618.5 425.0h0M622.6 424.9h0M626.6 425.4h0M632.8 425.2h0M637.0 424.0h0M641.7 425.0h0M646.6 423.8h0M650.1 424.4h0M655.4 424.1h0M660.0 424.4h0M665.8 425.4h0M670.5 423.6h0M675.7 424.8h0M680.1 424.8h0M684.0 424.3h0M688.0 424.9h0M700.2 426.2h0M691.1 426.4h0M565.8 429.8h0M570.3 427.8h0M575.4 429.1h0M580.7 429.0h0M584.3 427.8h0M590.1 429.0h0M595.2 429.0h0M599.6 429.3h0M604.7 428.7h0M609.2 428.6h0M612.0 428.5h0M617.5 429.8h0M622.3 428.3h0M627.8 428.0h0M631.6 428.6h0M635.9 429.0h0M641.4 429.4h0M645.9 429.8h0M650.3 428.9h0M655.2 427.8h0M660.1 429.6h0M664.8 428.8h0M670.1 428.3h0M674.9 427.9h0M679.2 428.4h0M685.0 429.3h0M689.5 429.0h0M688.0 429.8h0M565.3 434.0h0M570.5 432.3h0M574.8 433.2h0M579.6 432.3h0M585.2 433.0h0M588.4 434.0h0M593.4 432.1h0M598.8 432.5h0M602.6 432.6h0M608.2 432.6h0M613.1 433.8h0M618.6 433.8h0M623.2 432.5h0M627.8 432.2h0M632.0 432.2h0M635.7 433.9h0M640.5 433.4h0M646.2 432.0h0M651.5 432.1h0M656.5 433.6h0M660.4 432.9h0M664.1 433.4h0M668.9 433.1h0M675.7 433.4h0M678.6 433.4h0M684.7 432.7h0M689.6 433.2h0M688.7 434.6h0M564.6 437.7h0M569.0 436.6h0M572.9 438.1h0M579.4 438.2h0M583.8 436.3h0M587.6 436.3h0M593.4 437.4h0M598.9 436.8h0M602.0 436.6h0M606.6 436.3h0M612.2 437.0h0M616.6 438.1h0M621.3 437.9h0M626.6 436.4h0M630.2 437.4h0M636.9 436.3h0M641.2 436.7h0M646.0 437.9h0M650.8 436.7h0M654.3 438.1h0M660.8 438.0h0M664.7 436.3h0M669.1 438.0h0M673.2 436.8h0M677.9 438.0h0M683.3 436.4h0M688.1 436.6h0M687.3 437.3h0M564.3 441.3h0M569.4 440.9h0M574.2 440.9h0M578.0 442.0h0M581.8 441.5h0M587.8 441.8h0M593.5 441.8h0M596.6 440.8h0M601.9 441.0h0M606.8 440.6h0M611.9 441.2h0M615.1 440.6h0M621.9 442.1h0M626.5 441.2h0M631.5 440.7h0M635.7 442.3h0M639.2 440.4h0M643.8 440.6h0M650.1 441.6h0M654.1 440.6h0M659.2 440.7h0M662.8 441.6h0M668.7 442.0h0M673.9 440.7h0M677.4 440.7h0M682.6 440.5h0M688.2 441.8h0M563.6 446.3h0M568.8 445.0h0M572.5 444.7h0M578.2 445.5h0M583.4 445.2h0M586.9 446.3h0M592.8 446.1h0M597.4 446.4h0M600.7 445.8h0M604.9 446.0h0M611.7 445.6h0M614.6 445.7h0M619.1 445.5h0M623.9 445.4h0M630.3 446.1h0M635.1 445.5h0M638.9 444.7h0M644.4 445.7h0M648.3 444.9h0M653.1 444.7h0M657.1 444.8h0M662.5 444.9h0M668.1 445.8h0M672.9 445.7h0M676.1 445.2h0M682.3 445.8h0M686.6 445.9h0M695.2 445.3h0M562.9 449.3h0M566.5 449.9h0M572.1 450.7h0M576.3 449.2h0M580.6 448.9h0M587.1 450.5h0M590.3 448.8h0M596.0 449.3h0M600.8 450.6h0M605.8 449.4h0M610.2 449.4h0M615.3 449.3h0M620.3 450.2h0M625.0 449.5h0M629.9 450.0h0M633.0 450.1h0M637.8 449.0h0M641.9 450.0h0M647.1 449.0h0M653.0 449.1h0M657.7 449.3h0M661.5 450.7h0M667.3 450.5h0M672.4 450.0h0M677.0 450.0h0M680.9 449.4h0M685.1 449.9h0M696.3 451.3h0M683.9 449.3h0M562.4 454.7h0M567.1 454.0h0M572.0 454.1h0M576.8 454.1h0M581.2 453.5h0M585.0 453.9h0M591.4 454.9h0M594.8 454.1h0M600.0 453.9h0M603.9 454.6h0M608.4 453.5h0M613.5 453.4h0M618.0 453.2h0M623.5 453.3h0M628.5 454.2h0M633.1 454.0h0M637.8 453.6h0M642.2 454.4h0M646.3 454.5h0M651.9 454.9h0M656.6 454.1h0M661.7 453.6h0M665.5 453.9h0M671.0 454.4h0M674.5 454.9h0M681.0 454.0h0M685.7 454.2h0M687.9 454.4h0M561.8 458.8h0M566.3 458.7h0M571.4 458.5h0M576.0 458.5h0M580.7 457.4h0M585.6 458.6h0M589.8 459.1h0M594.6 457.5h0M599.3 457.9h0M603.2 459.0h0M608.0 458.6h0M612.6 458.2h0M619.2 457.4h0M623.6 457.2h0M628.6 459.0h0M632.0 458.5h0M636.8 457.5h0M641.2 458.1h0M647.1 457.4h0M651.0 458.1h0M655.8 458.8h0M660.6 457.8h0M666.1 458.4h0M669.2 458.3h0M675.2 457.3h0M679.4 458.2h0M683.3 457.5h0M693.8 457.9h0M685.0 458.1h0M561.4 463.0h0M565.4 463.4h0M570.9 462.1h0M575.0 462.8h0M580.3 462.8h0M584.6 463.1h0M589.5 463.1h0M594.6 462.2h0M599.8 462.4h0M604.5 462.5h0M610.2 462.9h0M613.0 463.4h0M617.7 461.5h0M624.3 462.0h0M627.3 461.8h0M633.1 463.1h0M636.9 461.7h0M641.6 461.5h0M647.1 462.4h0M653.4 462.7h0M657.9 462.6h0M662.9 462.7h0M666.1 462.1h0M671.5 461.6h0M677.3 462.4h0M680.4 462.4h0M686.6 461.9h0M690.2 461.1h0M687.5 461.3h0M560.8 466.8h0M566.0 467.6h0M569.8 467.6h0M574.8 466.6h0M578.9 465.8h0M584.7 465.8h0M588.1 465.8h0M594.0 466.0h0M598.1 467.1h0M603.2 465.9h0M608.5 467.6h0M613.1 466.5h0M617.7 467.0h0M623.1 467.2h0M626.5 467.2h0M630.9 465.9h0M636.6 466.0h0M641.4 466.2h0M647.0 466.5h0M651.5 467.5h0M655.4 467.1h0M660.2 466.4h0M664.1 466.9h0M670.7 467.0h0M674.1 466.7h0M678.9 466.4h0M684.6 465.6h0M688.7 466.6h0M700.1 465.6h0M693.1 467.0h0M690.2 466.3h0M560.3 470.9h0M563.9 470.8h0M568.9 470.4h0M575.2 470.8h0M579.4 470.1h0M583.9 470.0h0M587.6 470.1h0M591.9 471.6h0M598.7 470.5h0M601.2 471.3h0M607.4 469.9h0M612.4 469.9h0M615.8 471.4h0M621.7 470.3h0M625.8 471.4h0M630.7 470.9h0M634.5 469.9h0M639.2 470.8h0M644.8 470.7h0M649.6 470.9h0M654.3 470.6h0M659.5 470.9h0M664.2 471.8h0M668.8 471.3h0M673.2 470.9h0M676.9 470.0h0M682.5 470.3h0M687.1 470.9h0M691.8 470.7h0M700.9 471.6h0M691.4 470.6h0M559.6 475.3h0M564.8 475.5h0M569.7 475.5h0M574.7 474.9h0M578.2 475.3h0M582.6 475.7h0M587.5 475.1h0M592.4 474.7h0M596.0 474.6h0M601.7 475.9h0M605.6 475.8h0M612.2 475.6h0M615.3 474.0h0M621.4 474.1h0M624.7 475.9h0M630.3 475.6h0M635.3 474.4h0M639.3 474.2h0M643.7 475.0h0M649.4 474.6h0M653.7 474.3h0M657.5 474.1h0M662.9 475.2h0M667.9 474.8h0M673.1 475.4h0M676.9 475.7h0M680.7 474.6h0M686.3 475.2h0M691.9 475.4h0M703.2 474.9h0M697.5 475.5h0M559.1 478.7h0M563.6 479.1h0M568.0 479.4h0M572.3 478.7h0M576.9 478.3h0M582.5 479.7h0M586.9 480.0h0M592.0 479.5h0M596.0 480.0h0M600.8 479.9h0M605.2 480.1h0M610.9 478.6h0M615.7 478.5h0M619.6 479.0h0M624.1 478.9h0M628.4 479.0h0M632.9 479.8h0M638.2 479.6h0M643.1 480.1h0M648.8 479.6h0M653.4 480.0h0M658.2 479.0h0M662.1 478.3h0M666.3 478.9h0M671.6 478.2h0M676.5 478.3h0M680.5 479.2h0M686.1 479.5h0M689.2 479.5h0M700.8 478.9h0M689.6 478.4h0M558.8 483.1h0M562.6 483.5h0M568.2 484.3h0M571.5 483.1h0M577.7 483.4h0M582.2 483.7h0M585.5 482.5h0M590.4 483.0h0M595.1 483.0h0M599.6 482.5h0M605.2 483.9h0M609.0 482.6h0M615.0 482.6h0M618.3 483.4h0M623.3 484.0h0M628.5 483.4h0M632.9 482.5h0M638.5 483.2h0M643.2 482.6h0M647.0 483.5h0M651.0 482.5h0M657.5 484.3h0M662.3 483.5h0M666.3 483.6h0M670.4 482.7h0M675.5 483.3h0M680.2 482.5h0M684.0 482.6h0M689.7 483.4h0M688.9 483.0h0M399.1 485.1h0M403.9 486.9h0M410.6 486.1h0M415.5 486.1h0M419.6 485.2h0M423.8 486.2h0M428.5 486.3h0M433.1 486.3h0M437.6 486.0h0M442.8 486.1h0M446.7 485.5h0M453.0 485.3h0M457.2 487.0h0M462.2 486.5h0M467.4 486.9h0M471.2 485.8h0M476.8 485.1h0M480.9 485.5h0M485.9 486.5h0M491.3 486.0h0M495.7 485.2h0M500.4 486.9h0M505.0 486.0h0M509.5 485.8h0M513.5 485.4h0M519.7 486.0h0M522.7 486.2h0M529.2 486.3h0M532.5 486.9h0M537.3 486.0h0M542.7 485.3h0M547.0 485.4h0M551.5 485.1h0M557.3 486.3h0M561.2 486.9h0M566.3 485.9h0M572.2 486.3h0M575.9 486.5h0M581.3 485.6h0M584.5 486.5h0M590.8 486.2h0M594.1 486.5h0M599.0 486.6h0M604.8 486.3h0M608.3 485.7h0M614.5 485.2h0M617.7 485.8h0M624.3 486.3h0M627.6 485.2h0M633.8 486.7h0M638.2 485.4h0M643.1 485.0h0M646.5 485.6h0M653.1 485.1h0M656.0 486.5h0M662.1 485.5h0M665.3 486.7h0M672.1 486.8h0M675.9 485.2h0M681.1 486.3h0M686.0 486.5h0M399.3 486.5h0M403.7 491.0h0M409.9 489.9h0M412.7 490.4h0M418.9 491.1h0M423.5 490.6h0M428.8 489.5h0M433.4 490.1h0M437.1 489.7h0M442.3 490.7h0M447.5 489.8h0M451.1 490.8h0M457.5 490.9h0M462.4 489.3h0M466.0 490.1h0M470.9 490.8h0M475.4 489.2h0M480.8 489.3h0M484.6 490.4h0M490.7 490.3h0M494.3 490.3h0M500.1 489.8h0M504.2 489.5h0M509.6 489.9h0M514.6 490.5h0M518.7 490.4h0M523.5 490.7h0M528.1 490.4h0M534.2 490.8h0M538.5 491.0h0M544.3 490.8h0M547.7 489.7h0M553.1 489.5h0M556.8 489.4h0M562.7 490.0h0M568.1 490.8h0M572.0 489.9h0M576.3 489.3h0M580.6 490.9h0M585.9 489.2h0M592.2 490.0h0M596.5 490.1h0M601.8 489.4h0M605.4 490.5h0M609.2 491.0h0M614.7 490.6h0M618.9 489.4h0M623.7 490.8h0M630.5 491.0h0M634.3 489.4h0M639.7 490.2h0M644.5 490.5h0M648.8 489.5h0M652.6 489.4h0M658.0 489.8h0M664.0 489.3h0M668.4 489.4h0M671.7 491.0h0M676.7 490.4h0M398.1 488.8h0M403.0 490.6h0M682.5 489.6h0M408.5 493.8h0M412.9 493.4h0M417.8 493.5h0M421.7 494.4h0M427.3 493.8h0M432.2 494.0h0M437.2 493.5h0M442.3 494.3h0M445.5 494.0h0M451.3 493.6h0M456.7 493.8h0M460.3 493.5h0M465.1 495.3h0M469.3 493.8h0M474.8 494.7h0M478.7 493.8h0M484.5 493.9h0M487.9 494.8h0M494.6 495.0h0M499.3 493.8h0M502.8 494.6h0M508.2 494.7h0M512.9 493.9h0M516.9 493.6h0M521.2 494.6h0M526.0 495.2h0M532.8 493.7h0M537.5 494.6h0M540.1 494.2h0M545.7 494.0h0M549.7 493.9h0M554.4 494.3h0M560.2 493.9h0M566.0 495.2h0M569.7 495.0h0M574.1 494.9h0M579.9 494.1h0M584.5 494.1h0M588.0 494.2h0M592.6 494.8h0M597.7 494.4h0M603.7 494.6h0M608.7 494.9h0M612.9 494.9h0M617.7 495.2h0M622.2 494.7h0M626.8 494.5h0M632.5 494.0h0M635.5 494.4h0M640.5 494.8h0M646.0 493.4h0M649.8 494.6h0M655.0 494.8h0M659.9 493.6h0M665.2 495.3h0M668.5 494.6h0M407.6 496.4h0M676.4 495.1h0M418.6 497.7h0M421.5 498.1h0M427.6 499.4h0M431.0 498.6h0M437.2 499.0h0M441.2 499.4h0M446.7 497.8h0M451.5 498.2h0M455.5 499.1h0M459.4 498.2h0M465.6 499.2h0M470.4 497.8h0M474.4 499.1h0M479.8 499.1h0M483.0 497.8h0M487.5 498.1h0M493.1 498.2h0M496.8 497.8h0M502.8 499.2h0M506.2 498.6h0M512.9 498.3h0M516.6 499.2h0M520.1 499.3h0M526.6 499.1h0M530.3 498.6h0M536.4 497.7h0M539.1 498.9h0M545.9 497.9h0M548.8 498.5h0M554.9 498.7h0M559.3 497.7h0M563.0 498.8h0M568.9 497.8h0M572.2 498.2h0M577.6 498.3h0M581.8 497.7h0M587.6 499.5h0M592.3 499.4h0M595.9 498.8h0M601.1 499.3h0M606.4 498.8h0M611.8 499.5h0M614.7 498.5h0M619.3 498.7h0M624.4 499.0h0M629.4 497.6h0M635.3 497.9h0M638.6 498.6h0M642.9 499.1h0M649.1 497.8h0M653.6 497.9h0M658.1 497.8h0M412.2 499.2h0M662.2 499.6h0M657.4 497.4h0M429.7 503.5h0M434.5 503.4h0M439.4 503.0h0M443.6 502.6h0M449.5 502.0h0M453.6 502.3h0M458.0 502.5h0M462.6 503.0h0M467.0 502.3h0M472.2 502.2h0M478.3 503.2h0M483.2 502.1h0M486.4 502.4h0M491.9 503.5h0M497.4 503.5h0M500.3 501.9h0M505.8 502.7h0M509.8 502.5h0M514.8 503.5h0M519.8 502.4h0M524.5 503.5h0M529.1 502.7h0M534.1 502.3h0M540.7 503.2h0M544.8 502.5h0M550.2 503.7h0M554.1 502.3h0M557.6 502.9h0M563.3 503.5h0M569.3 503.4h0M572.3 503.8h0M577.9 501.9h0M581.8 503.7h0M587.9 503.3h0M592.3 501.8h0M597.7 502.4h0M602.1 502.9h0M606.2 502.9h0M612.0 503.5h0M615.6 503.5h0M619.8 502.5h0M624.9 501.9h0M629.9 501.8h0M635.9 503.4h0M639.6 501.9h0M643.9 503.3h0M424.1 503.1h0M428.6 503.0h0M652.1 501.8h0M441.3 507.8h0M447.1 506.3h0M452.4 507.8h0M455.6 507.8h0M462.2 506.7h0M466.5 507.4h0M470.7 506.8h0M474.9 507.6h0M480.6 507.9h0M483.7 507.1h0M489.9 506.4h0M493.0 507.8h0M499.5 507.4h0M503.2 506.9h0M509.0 506.2h0M513.5 507.4h0M517.6 507.9h0M522.7 507.8h0M526.4 506.8h0M531.4 507.0h0M537.1 508.0h0M542.2 507.7h0M547.1 507.5h0M551.2 506.2h0M555.2 507.0h0M559.2 507.8h0M564.5 506.5h0M568.6 507.1h0M573.9 507.9h0M579.3 506.9h0M582.9 506.1h0M588.8 507.2h0M593.1 507.0h0M597.6 507.8h0M601.5 506.5h0M607.9 506.6h0M611.5 506.9h0M616.2 507.5h0M620.4 507.1h0M626.6 506.7h0M631.3 506.7h0M436.0 507.2h0M441.5 505.1h0M630.1 507.5h0M469.2 510.4h0M473.7 511.4h0M480.3 511.7h0M484.4 511.9h0M489.7 510.7h0M493.4 512.1h0M499.5 511.5h0M503.5 510.9h0M507.0 510.9h0M512.1 511.5h0M517.9 511.5h0M523.2 510.2h0M526.4 510.4h0M531.5 512.0h0M536.5 511.8h0M540.6 510.9h0M546.8 510.8h0M551.4 511.4h0M556.0 510.3h0M560.1 512.2h0M564.9 510.8h0M571.1 511.4h0M575.2 511.2h0M579.7 511.0h0M583.7 510.8h0M588.4 511.6h0M592.8 510.4h0M598.5 512.2h0M603.9 511.5h0M608.6 510.6h0M612.8 510.2h0M617.6 510.3h0M457.8 510.6h0M463.1 509.5h0M471.2 513.1h0M621.7 512.7h0M616.7 511.8h0M500.1 516.3h0M504.5 515.0h0M508.9 516.3h0M513.9 516.3h0M518.2 516.0h0M522.7 515.2h0M527.1 516.3h0M531.7 514.5h0M536.1 516.1h0M541.3 515.4h0M546.5 515.9h0M549.5 515.8h0M555.6 514.4h0M560.4 515.3h0M564.8 514.4h0M568.3 515.0h0M572.7 515.7h0M578.6 515.7h0M583.5 514.6h0M586.7 515.2h0M592.5 515.9h0M597.6 516.1h0M601.2 515.9h0M606.5 515.4h0M613.9 516.2h0M608.1 516.4h0M498.3 518.9h0M504.1 519.8h0M507.6 520.4h0M512.3 520.3h0M518.7 518.8h0M522.7 519.7h0M527.9 519.5h0M531.3 519.1h0M537.0 519.2h0M541.8 518.7h0M546.4 518.6h0M550.6 520.5h0M554.3 519.8h0M559.2 518.7h0M564.8 519.6h0M569.4 518.7h0M572.5 519.1h0M578.7 518.6h0M581.5 519.4h0M587.0 520.3h0M592.7 519.1h0M597.1 519.3h0M601.8 519.9h0M604.8 519.5h0M493.8 520.4h0M498.5 520.9h0M609.6 518.7h0M471.1 526.5h0M475.7 526.5h0M480.3 526.5h0M484.9 526.5h0M489.5 526.5h0M494.0 526.5h0M498.6 526.5h0M503.2 526.5h0M507.8 526.5h0M512.4 526.5h0M516.9 526.5h0M521.5 526.5h0M526.1 526.5h0M530.7 526.5h0M535.3 526.5h0M539.8 526.5h0M544.4 526.5h0M549.0 526.5h0M553.6 526.5h0M558.2 526.5h0M562.7 526.5h0M567.3 526.5h0M571.9 526.5h0M576.5 526.5h0M581.1 526.5h0M585.6 526.5h0M590.2 526.5h0M594.8 526.5h0M599.4 526.5h0M603.9 526.5h0M608.5 526.5h0M613.1 526.5h0M617.7 526.5h0M473.1 61.8h0M482.5 61.8h0M492.2 61.8h0M506.3 61.8h0M511.8 61.8h0M594.1 61.8h0M503.0 94.2h0M508.8 94.2h0M507.2 113.3h0M483.4 127.0h0M590.8 127.0h0M611.4 127.0h0M508.2 145.7h0M475.6 159.4h0M587.9 152.6h0M587.3 159.4h0M586.9 170.0h0M507.2 173.9h0M502.4 181.5h0M510.8 182.0h0M503.5 194.3h0M507.2 204.6h0M484.4 204.6h0M582.1 210.5h0M586.9 216.5h0M590.8 216.5h0M602.9 214.8h0M491.9 223.3h0M517.2 217.9h0M510.8 224.2h0M515.2 230.1h0M472.2 229.3h0M465.9 237.0h0M476.6 237.8h0M484.4 241.2h0M495.2 242.9h0M518.5 244.6h0M602.6 238.7h0M594.7 243.8h0M578.2 249.8h0M165.4 447.4h0M183.0 474.3h0M271.5 455.6h0M314.7 453.8h0M300.8 416.2h0M373.9 398.3h0M369.0 416.2h0M388.0 422.4h0M408.5 397.5h0M405.5 421.8h0M429.3 392.3h0M348.4 458.2h0M355.2 457.6h0M351.4 467.9h0M347.0 479.4h0M353.8 489.6h0M367.5 473.0h0M373.4 458.9h0M374.8 478.1h0M389.5 488.3h0M402.7 501.1h0M402.7 526.2h0M437.1 526.2h0M470.0 526.2h0M732.4 411.0h0M728.1 429.7h0M735.4 438.7h0M747.2 445.1h0M764.7 452.0h0M761.3 476.7h0M742.7 460.5h0M748.6 465.6h0M722.2 452.8h0M707.5 461.8h0M830.8 467.7h0M866.9 454.6h0M624.6 271.5h0M624.0 284.0h0M629.1 526.2h0" transform="scale(0.8734 1)" stroke="#808080" stroke-width="15.8" stroke-linecap="round" fill="none"/>
</g>
<rect x="113.1" y="37.3" width="675.1999999999999" height="514.2" fill="none" stroke="#000" stroke-width="1.9"/>
<path d="M172.1 551.5v8.6M249.2 551.5v8.6M326.3 551.5v8.6M403.4 551.5v8.6M480.5 551.5v8.6M557.6 551.5v8.6M634.7 551.5v8.6M711.8 551.5v8.6M113.1 526.7h-7.0M113.1 418.6h-7.0M113.1 310.5h-7.0M113.1 202.5h-7.0M113.1 94.4h-7.0" stroke="#000" stroke-width="1.8" fill="none"/>
<g font-family="'DejaVu Sans', 'Liberation Sans', sans-serif" font-size="47.3">
<text transform="translate(172.1 604.9) scale(0.87 1)" text-anchor="middle">−4</text>
<text transform="translate(249.2 604.9) scale(0.87 1)" text-anchor="middle">−3</text>
<text transform="translate(326.3 604.9) scale(0.87 1)" text-anchor="middle">−2</text>
<text transform="translate(403.4 604.9) scale(0.87 1)" text-anchor="middle">−1</text>
<text transform="translate(480.5 604.9) scale(0.87 1)" text-anchor="middle">0</text>
<text transform="translate(557.6 604.9) scale(0.87 1)" text-anchor="middle">1</text>
<text transform="translate(634.7 604.9) scale(0.87 1)" text-anchor="middle">2</text>
<text transform="translate(711.8 604.9) scale(0.87 1)" text-anchor="middle">3</text>
<text transform="translate(99.9 545.2) scale(0.87 1)" text-anchor="end">0</text>
<text transform="translate(99.9 437.1) scale(0.87 1)" text-anchor="end">1</text>
<text transform="translate(99.9 329.0) scale(0.87 1)" text-anchor="end">2</text>
<text transform="translate(99.9 221.0) scale(0.87 1)" text-anchor="end">3</text>
<text transform="translate(99.9 112.9) scale(0.87 1)" text-anchor="end">4</text>
</g>
<text x="471.2" y="649" font-family="'DejaVu Sans', 'Liberation Sans', sans-serif" font-size="36.4" text-anchor="middle">log<tspan font-size="25.5" dy="9">2</tspan><tspan dy="-9"> Fold Change</tspan></text>
<text transform="translate(44.3 289.4) rotate(-90) scale(1 1.04)" font-family="'DejaVu Sans', 'Liberation Sans', sans-serif" font-size="37.9" text-anchor="middle">-log<tspan font-size="26.5" dy="9">10</tspan><tspan dy="-9">(P-value)</tspan></text>
<clipPath id="clipB"><rect x="934.1" y="35.9" width="706.6999999999999" height="514.0"/></clipPath>
<g clip-path="url(#clipB)">
<path d="M1360.3 112.5h0M1363.8 112.9h0M1360.4 117.0h0M1364.0 116.1h0M1360.5 120.7h0M1364.3 119.6h0M1360.3 124.1h0M1364.9 124.7h0M1360.6 128.2h0M1362.2 129.6h0M1365.0 128.1h0M1360.4 132.3h0M1363.1 132.3h0M1365.2 133.7h0M1360.4 136.6h0M1364.1 137.9h0M1365.7 138.1h0M1360.3 141.8h0M1362.5 142.3h0M1366.0 142.3h0M1360.5 145.2h0M1363.1 144.9h0M1366.3 144.7h0M1360.4 150.0h0M1362.5 150.2h0M1366.8 149.4h0M1360.4 154.0h0M1363.4 154.0h0M1367.2 153.1h0M1360.6 157.2h0M1364.6 158.9h0M1367.4 158.8h0M1360.3 162.6h0M1363.1 161.5h0M1367.9 163.3h0M1360.4 167.1h0M1365.4 167.5h0M1368.4 166.3h0M1360.2 171.4h0M1363.7 171.3h0M1368.7 171.5h0M1360.5 175.9h0M1363.9 174.7h0M1369.3 175.8h0M1360.3 180.0h0M1365.1 178.8h0M1369.6 178.6h0M1360.5 182.7h0M1364.0 184.4h0M1366.1 182.5h0M1369.8 183.5h0M1360.3 187.1h0M1363.9 188.3h0M1367.0 187.4h0M1370.2 188.4h0M1360.6 191.8h0M1364.6 191.1h0M1367.9 192.7h0M1370.9 192.4h0M1360.5 195.9h0M1363.1 196.7h0M1367.2 195.9h0M1371.0 196.7h0M1360.6 200.1h0M1364.0 200.7h0M1367.9 199.8h0M1371.7 199.5h0M1360.3 205.4h0M1365.2 204.7h0M1368.2 204.1h0M1371.8 203.9h0M1360.4 209.3h0M1364.0 209.2h0M1369.0 209.0h0M1372.4 209.1h0M1360.3 213.2h0M1363.9 212.8h0M1369.3 213.2h0M1372.7 213.7h0M1360.3 217.2h0M1363.4 217.1h0M1368.3 217.3h0M1373.2 217.6h0M1360.3 221.8h0M1364.3 221.5h0M1369.7 221.9h0M1373.5 221.9h0M1360.5 225.8h0M1365.9 226.3h0M1369.4 225.5h0M1373.7 226.1h0M1360.5 229.6h0M1365.4 230.0h0M1370.1 228.9h0M1374.1 229.8h0M1360.3 233.6h0M1365.3 234.3h0M1370.2 234.2h0M1374.3 233.1h0M1360.3 238.3h0M1363.3 238.4h0M1367.9 237.1h0M1371.2 237.5h0M1374.7 237.3h0M1360.4 241.6h0M1363.3 241.3h0M1367.7 242.0h0M1371.9 242.4h0M1375.2 243.0h0M1360.6 246.2h0M1363.6 246.2h0M1367.1 247.1h0M1371.6 245.5h0M1375.7 245.6h0M1360.3 250.3h0M1364.4 251.5h0M1368.9 250.4h0M1372.9 250.9h0M1376.1 249.9h0M1360.3 254.9h0M1365.4 255.7h0M1368.7 254.5h0M1373.4 253.8h0M1376.3 254.9h0M1360.3 258.3h0M1364.7 259.8h0M1368.3 258.9h0M1372.2 258.6h0M1376.7 258.8h0M1360.5 264.0h0M1364.7 262.7h0M1369.9 263.2h0M1372.9 262.8h0M1377.1 263.2h0M1360.4 267.4h0M1363.8 267.6h0M1368.9 267.0h0M1374.0 268.1h0M1377.5 267.5h0M1360.4 272.5h0M1365.4 271.1h0M1368.7 270.9h0M1374.8 271.2h0M1378.1 271.5h0M1360.3 276.0h0M1365.4 275.0h0M1370.0 275.4h0M1374.1 275.5h0M1378.4 275.9h0M1360.3 279.7h0M1365.5 280.2h0M1368.5 279.5h0M1374.2 280.8h0M1378.7 280.1h0M1360.6 284.8h0M1364.9 284.4h0M1370.3 284.5h0M1374.6 285.0h0M1379.3 284.0h0M1360.5 287.8h0M1363.7 289.1h0M1367.1 289.1h0M1372.4 288.3h0M1375.4 289.0h0M1379.5 287.7h0M1360.2 292.7h0M1364.2 292.3h0M1367.4 292.8h0M1372.9 291.7h0M1375.6 293.2h0M1380.0 292.9h0M1360.6 297.2h0M1365.4 297.8h0M1368.8 295.9h0M1373.2 296.2h0M1376.9 297.7h0M1380.4 296.1h0M1360.4 301.8h0M1363.6 301.2h0M1368.3 300.3h0M1373.0 300.1h0M1376.0 300.8h0M1380.7 300.1h0M1360.3 305.7h0M1365.4 304.5h0M1368.6 304.8h0M1373.2 305.2h0M1378.2 304.9h0M1381.2 305.6h0M1360.5 309.7h0M1364.6 310.2h0M1369.1 309.6h0M1372.7 309.5h0M1377.1 309.9h0M1382.0 308.7h0M1360.4 313.3h0M1365.2 313.0h0M1369.6 313.9h0M1372.6 313.9h0M1377.1 312.8h0M1382.4 313.1h0M1360.5 317.8h0M1364.4 318.4h0M1368.2 318.3h0M1372.8 317.1h0M1379.4 318.2h0M1382.7 317.0h0M1360.6 322.3h0M1365.6 321.3h0M1369.8 321.7h0M1373.5 321.7h0M1379.0 321.7h0M1383.3 321.3h0M1360.5 326.5h0M1365.7 326.1h0M1370.5 326.2h0M1374.6 326.3h0M1379.7 326.0h0M1383.6 325.3h0M1360.4 329.5h0M1365.1 330.4h0M1368.9 329.4h0M1372.2 331.2h0M1376.6 330.3h0M1380.3 329.6h0M1384.1 329.7h0M1360.3 334.4h0M1365.2 333.9h0M1367.9 334.2h0M1371.8 334.2h0M1376.0 334.6h0M1379.7 335.4h0M1384.8 335.5h0M1360.4 339.1h0M1364.4 339.7h0M1367.7 339.1h0M1372.3 339.1h0M1377.5 338.1h0M1380.5 337.8h0M1385.2 338.0h0M1360.3 343.9h0M1364.2 342.6h0M1368.7 342.6h0M1373.6 343.4h0M1376.6 342.5h0M1382.0 343.9h0M1385.8 342.9h0M1360.6 346.2h0M1363.6 347.8h0M1368.8 346.3h0M1373.4 348.2h0M1377.7 346.9h0M1381.1 346.3h0M1386.2 347.2h0M1360.5 350.5h0M1364.1 350.5h0M1368.9 350.5h0M1373.1 351.2h0M1377.6 350.5h0M1381.5 352.3h0M1386.8 351.4h0M1360.3 355.7h0M1363.8 355.2h0M1368.4 355.7h0M1374.9 355.8h0M1379.3 355.0h0M1381.9 355.7h0M1387.6 355.7h0M1360.3 360.1h0M1365.4 360.6h0M1369.1 359.7h0M1374.9 359.2h0M1377.9 359.4h0M1382.5 360.3h0M1387.9 359.4h0M1360.5 363.2h0M1364.4 363.2h0M1369.6 364.2h0M1373.9 363.1h0M1379.7 363.1h0M1383.3 363.6h0M1388.6 363.2h0M1360.3 367.8h0M1365.0 368.3h0M1369.4 368.5h0M1373.3 368.3h0M1376.7 368.8h0M1381.3 369.1h0M1385.6 368.6h0M1389.1 368.8h0M1360.3 371.7h0M1363.5 371.7h0M1368.1 372.8h0M1372.4 371.5h0M1377.7 372.5h0M1380.3 371.5h0M1384.7 372.1h0M1389.6 373.3h0M1360.3 376.1h0M1364.4 376.3h0M1368.5 375.6h0M1373.3 377.3h0M1378.0 375.8h0M1381.8 375.9h0M1386.5 376.5h0M1390.1 377.2h0M1360.5 380.4h0M1365.6 380.7h0M1368.9 380.7h0M1374.0 381.7h0M1377.8 381.7h0M1382.4 380.0h0M1387.3 380.6h0M1390.6 381.8h0M1475.3 112.2h0M1479.2 112.8h0M1474.5 115.6h0M1479.0 115.6h0M1473.9 120.1h0M1477.1 119.9h0M1479.1 119.9h0M1473.6 125.3h0M1477.0 124.8h0M1479.1 123.9h0M1472.9 128.8h0M1474.9 128.1h0M1478.9 129.2h0M1472.4 132.4h0M1476.3 132.6h0M1479.1 133.7h0M1471.6 137.8h0M1475.1 136.2h0M1479.2 137.4h0M1471.2 141.2h0M1474.7 140.5h0M1479.1 141.2h0M1470.7 146.0h0M1474.7 146.6h0M1479.0 146.4h0M1470.5 150.1h0M1474.9 150.4h0M1479.1 150.0h0M1470.2 154.0h0M1474.1 153.2h0M1478.9 153.7h0M1469.8 158.7h0M1474.9 157.8h0M1478.9 157.7h0M1469.6 161.5h0M1473.2 162.7h0M1477.0 163.2h0M1479.1 163.1h0M1469.3 166.8h0M1471.8 166.6h0M1476.7 166.1h0M1478.9 166.7h0M1468.8 169.8h0M1472.0 170.2h0M1476.1 171.6h0M1478.9 171.0h0M1468.5 174.2h0M1472.5 175.1h0M1476.1 174.7h0M1478.9 174.4h0M1468.3 178.7h0M1472.1 180.0h0M1474.7 179.5h0M1479.0 178.6h0M1468.1 183.5h0M1472.4 184.2h0M1475.9 183.2h0M1479.1 183.5h0M1467.8 187.2h0M1470.9 187.8h0M1476.4 187.0h0M1478.9 186.8h0M1467.2 192.0h0M1470.4 191.2h0M1475.4 192.1h0M1479.1 192.3h0M1467.1 196.0h0M1471.7 196.9h0M1474.7 196.7h0M1479.1 196.9h0M1466.7 200.6h0M1471.5 200.2h0M1474.1 199.6h0M1479.0 199.4h0M1466.3 204.6h0M1469.5 204.9h0M1475.3 205.0h0M1479.0 204.8h0M1465.8 209.5h0M1470.4 209.5h0M1473.7 207.8h0M1478.9 208.0h0M1465.2 212.7h0M1470.2 213.3h0M1473.5 212.6h0M1479.2 212.6h0M1464.9 217.2h0M1468.0 217.4h0M1471.9 217.9h0M1476.6 216.1h0M1479.0 217.4h0M1464.3 220.4h0M1467.8 220.9h0M1472.2 222.0h0M1475.1 220.8h0M1479.2 221.6h0M1463.8 225.6h0M1467.1 225.1h0M1472.2 225.4h0M1474.3 225.2h0M1479.0 225.7h0M1463.4 229.1h0M1466.2 229.6h0M1472.3 229.7h0M1474.9 230.5h0M1478.9 229.3h0M1462.9 232.8h0M1467.4 233.5h0M1469.8 233.3h0M1475.0 233.6h0M1479.2 232.9h0M1462.4 238.9h0M1466.3 237.9h0M1469.7 237.6h0M1476.0 238.4h0M1479.2 237.1h0M1461.9 242.8h0M1466.0 242.4h0M1471.4 242.5h0M1475.2 241.3h0M1478.9 242.7h0M1461.5 247.1h0M1466.6 247.2h0M1470.1 247.4h0M1475.3 247.2h0M1478.9 247.0h0M1461.2 251.5h0M1466.8 250.0h0M1470.0 250.1h0M1474.6 250.2h0M1479.1 249.8h0M1461.1 254.7h0M1464.4 254.6h0M1470.9 255.6h0M1473.9 253.8h0M1479.0 255.7h0M1460.6 258.3h0M1464.6 259.8h0M1470.9 258.1h0M1473.8 258.9h0M1479.0 259.5h0M1460.3 263.8h0M1464.1 263.2h0M1470.8 263.6h0M1473.5 262.4h0M1479.1 262.9h0M1460.0 267.4h0M1463.9 268.3h0M1467.0 267.5h0M1470.9 267.5h0M1475.9 266.7h0M1479.2 267.8h0M1459.9 272.1h0M1463.3 271.6h0M1467.7 272.2h0M1470.3 271.6h0M1474.2 271.4h0M1479.1 270.6h0M1459.4 275.7h0M1463.6 276.6h0M1466.9 275.9h0M1471.7 276.7h0M1476.2 276.8h0M1479.1 275.1h0M1459.2 279.2h0M1462.8 280.5h0M1467.1 279.8h0M1472.0 279.6h0M1475.3 280.7h0M1478.9 279.7h0M1458.6 284.3h0M1462.0 284.1h0M1465.8 283.4h0M1470.6 283.5h0M1476.1 283.7h0M1479.0 284.8h0M1458.4 287.9h0M1463.2 288.7h0M1466.4 288.7h0M1470.2 287.9h0M1475.9 288.3h0M1478.9 287.8h0M1458.2 291.7h0M1462.7 292.7h0M1465.3 291.7h0M1471.4 292.6h0M1475.8 291.7h0M1479.1 291.8h0M1457.8 297.0h0M1462.2 296.2h0M1467.3 296.0h0M1469.6 297.2h0M1473.9 295.9h0M1479.2 297.1h0M1457.5 301.4h0M1460.6 301.3h0M1466.8 300.2h0M1471.0 300.5h0M1474.3 300.0h0M1479.0 301.0h0M1456.9 305.1h0M1460.4 304.6h0M1465.1 306.1h0M1469.5 304.4h0M1474.3 304.4h0M1479.1 305.4h0M1456.1 308.7h0M1459.8 309.4h0M1465.7 309.3h0M1470.1 310.2h0M1473.7 308.9h0M1479.2 309.5h0M1455.7 313.7h0M1460.6 313.4h0M1465.6 314.3h0M1469.2 312.8h0M1473.9 313.3h0M1478.9 313.1h0M1454.9 318.1h0M1459.9 317.0h0M1463.6 317.5h0M1466.1 318.1h0M1471.9 318.0h0M1474.1 318.7h0M1479.1 318.1h0M1454.4 321.5h0M1458.2 321.7h0M1461.6 321.1h0M1467.2 321.8h0M1471.7 321.1h0M1474.6 321.4h0M1478.9 322.6h0M1453.9 326.2h0M1457.0 326.0h0M1461.5 325.3h0M1466.6 325.8h0M1469.8 326.2h0M1475.9 327.1h0M1479.2 325.4h0M1453.2 329.6h0M1457.5 329.6h0M1462.9 330.5h0M1466.0 329.9h0M1470.6 331.3h0M1474.7 329.8h0M1479.2 331.2h0M1452.5 334.9h0M1457.8 334.3h0M1462.1 334.7h0M1465.0 333.7h0M1471.3 334.5h0M1474.6 335.4h0M1479.1 334.6h0M1452.0 339.3h0M1455.8 338.7h0M1461.5 339.0h0M1464.7 338.2h0M1470.5 339.3h0M1473.7 339.8h0M1478.9 338.1h0M1451.5 342.9h0M1456.2 343.7h0M1459.8 343.4h0M1464.3 343.2h0M1469.3 342.7h0M1473.5 343.4h0M1478.9 343.5h0M1450.8 347.4h0M1455.8 347.2h0M1461.0 348.0h0M1464.4 346.9h0M1470.6 346.5h0M1474.3 347.0h0M1478.9 346.5h0M1450.2 351.9h0M1454.8 350.4h0M1459.4 351.0h0M1463.4 351.7h0M1466.6 352.1h0M1471.3 351.1h0M1475.6 351.4h0M1479.0 351.6h0M1449.8 354.9h0M1453.8 354.6h0M1458.7 356.1h0M1463.0 354.7h0M1466.6 355.6h0M1469.9 355.0h0M1476.0 356.3h0M1479.0 356.3h0M1449.1 359.6h0M1453.7 359.3h0M1457.1 358.8h0M1462.3 360.0h0M1466.8 359.8h0M1470.4 359.4h0M1475.4 359.5h0M1479.1 360.3h0M1448.5 364.4h0M1451.8 363.5h0M1458.0 363.3h0M1460.6 363.0h0M1466.6 363.2h0M1470.3 363.9h0M1475.5 364.0h0M1479.2 363.0h0M1448.1 368.7h0M1452.6 368.9h0M1457.1 368.6h0M1462.1 368.4h0M1464.7 369.0h0M1471.4 367.6h0M1473.7 367.9h0M1478.9 367.9h0M1447.6 371.8h0M1450.7 372.3h0M1456.0 372.9h0M1460.7 371.7h0M1466.6 373.2h0M1470.5 371.8h0M1474.4 372.3h0M1479.1 371.5h0M1446.8 377.1h0M1451.8 377.3h0M1456.4 377.1h0M1461.5 377.4h0M1466.0 376.4h0M1470.3 376.9h0M1475.4 377.0h0M1479.2 376.0h0M1446.3 380.3h0M1451.3 381.3h0M1454.9 380.9h0M1461.1 380.5h0M1464.1 381.0h0M1469.4 380.1h0M1474.0 379.8h0M1478.9 380.7h0M1299.5 379.9h0M1305.3 381.8h0M1310.7 380.6h0M1315.7 380.1h0M1318.7 379.9h0M1323.2 381.1h0M1329.6 380.9h0M1334.5 380.8h0M1339.5 381.1h0M1343.4 380.3h0M1347.9 380.8h0M1353.6 380.4h0M1357.1 381.6h0M1361.4 381.0h0M1366.5 381.3h0M1372.1 380.1h0M1377.2 380.7h0M1381.0 381.6h0M1386.8 380.5h0M1390.8 380.2h0M1295.6 382.6h0M1297.6 381.0h0M1300.1 385.0h0M1304.2 384.7h0M1309.7 384.3h0M1315.0 384.6h0M1318.9 384.3h0M1323.8 386.0h0M1328.5 384.3h0M1333.5 386.0h0M1337.7 384.8h0M1342.8 385.5h0M1348.2 384.3h0M1353.9 384.8h0M1358.3 385.0h0M1363.5 384.2h0M1366.9 384.7h0M1371.7 385.8h0M1377.1 384.8h0M1381.9 385.8h0M1386.9 385.0h0M1391.4 385.4h0M1293.0 384.9h0M1298.7 389.1h0M1304.0 389.5h0M1307.7 389.2h0M1313.6 388.4h0M1316.8 389.8h0M1323.3 388.5h0M1326.0 389.6h0M1331.1 389.6h0M1335.2 389.2h0M1340.2 389.0h0M1346.0 389.3h0M1351.0 390.0h0M1355.2 390.0h0M1358.8 389.3h0M1363.8 389.6h0M1367.9 390.1h0M1373.2 389.9h0M1379.1 390.2h0M1382.5 390.0h0M1388.6 388.6h0M1391.9 389.8h0M1292.1 389.0h0M1296.9 393.0h0M1302.2 393.4h0M1306.9 393.4h0M1311.0 392.6h0M1316.9 393.8h0M1320.4 393.5h0M1326.0 393.5h0M1331.5 394.1h0M1334.9 393.2h0M1340.4 392.8h0M1345.9 392.6h0M1349.6 393.1h0M1354.5 392.6h0M1358.6 394.5h0M1364.6 393.0h0M1368.6 392.6h0M1372.7 392.9h0M1379.4 393.1h0M1382.5 392.7h0M1387.0 394.5h0M1392.5 394.4h0M1294.9 392.6h0M1294.8 397.1h0M1300.9 397.7h0M1303.9 397.3h0M1310.5 398.4h0M1314.8 398.2h0M1319.9 397.8h0M1323.3 397.9h0M1327.7 396.8h0M1332.3 397.6h0M1336.6 396.9h0M1341.6 397.5h0M1347.8 397.7h0M1352.2 398.2h0M1356.3 397.4h0M1360.5 397.4h0M1365.7 398.4h0M1370.7 397.3h0M1373.8 396.7h0M1379.5 397.2h0M1382.8 397.3h0M1387.9 397.1h0M1393.1 397.9h0M1297.0 396.2h0M1295.5 402.3h0M1300.6 401.9h0M1305.6 402.2h0M1309.8 401.1h0M1313.4 401.9h0M1318.9 401.1h0M1324.0 401.6h0M1328.1 402.0h0M1333.6 401.5h0M1337.7 402.1h0M1342.6 401.5h0M1346.4 401.9h0M1351.9 402.2h0M1355.5 401.8h0M1361.2 401.3h0M1364.8 402.8h0M1369.3 401.9h0M1374.6 401.0h0M1379.3 401.2h0M1384.2 402.7h0M1388.2 401.6h0M1393.7 402.2h0M1283.8 401.0h0M1293.5 401.8h0M1294.9 405.4h0M1300.0 406.6h0M1304.3 406.2h0M1309.8 407.0h0M1314.2 405.2h0M1318.7 406.4h0M1323.0 406.5h0M1327.8 406.4h0M1333.2 406.5h0M1338.6 406.5h0M1342.9 406.5h0M1346.5 406.4h0M1352.2 405.2h0M1357.2 405.6h0M1361.4 406.2h0M1366.7 406.7h0M1370.8 407.0h0M1375.5 406.3h0M1381.5 405.8h0M1385.7 407.0h0M1389.0 406.7h0M1394.6 406.2h0M1294.1 406.6h0M1291.0 411.2h0M1296.0 411.0h0M1299.1 410.2h0M1305.8 411.2h0M1310.2 410.0h0M1315.0 410.4h0M1319.6 410.6h0M1324.8 410.8h0M1329.8 410.3h0M1333.5 410.6h0M1338.4 409.4h0M1344.1 410.0h0M1347.8 409.4h0M1351.9 411.2h0M1356.8 409.9h0M1362.8 409.8h0M1367.3 410.5h0M1372.5 410.3h0M1376.0 409.8h0M1380.9 409.3h0M1385.1 409.6h0M1390.3 410.9h0M1395.2 410.0h0M1279.3 410.8h0M1283.3 410.4h0M1288.3 411.5h0M1284.3 414.4h0M1290.5 414.6h0M1295.3 414.2h0M1300.1 413.6h0M1304.6 414.4h0M1307.2 414.0h0M1314.1 415.0h0M1318.2 415.1h0M1321.1 414.1h0M1326.8 415.3h0M1332.4 413.8h0M1337.2 414.6h0M1340.3 413.7h0M1345.2 414.6h0M1349.9 414.1h0M1355.7 414.5h0M1358.8 415.1h0M1363.3 414.4h0M1367.6 414.0h0M1374.3 414.8h0M1377.8 414.9h0M1382.8 414.6h0M1386.7 413.8h0M1390.6 413.8h0M1396.2 413.5h0M1278.5 413.8h0M1283.2 415.9h0M1286.2 417.9h0M1290.0 419.5h0M1295.7 418.3h0M1300.6 417.8h0M1305.6 419.6h0M1309.7 417.8h0M1313.8 419.4h0M1318.8 418.1h0M1322.6 417.9h0M1327.9 418.1h0M1332.3 419.5h0M1338.0 418.7h0M1342.3 418.0h0M1347.3 419.5h0M1350.9 419.5h0M1355.1 419.7h0M1359.8 419.6h0M1365.6 419.6h0M1369.9 417.9h0M1373.5 419.0h0M1379.6 419.1h0M1382.2 418.4h0M1387.5 418.1h0M1391.9 418.8h0M1397.0 418.3h0M1286.8 420.5h0M1289.7 423.7h0M1294.5 422.3h0M1300.7 423.4h0M1305.0 422.9h0M1309.9 422.8h0M1313.4 422.4h0M1317.9 422.0h0M1324.4 423.8h0M1327.7 422.7h0M1332.2 423.5h0M1337.4 422.3h0M1342.9 423.8h0M1345.7 422.8h0M1350.7 423.2h0M1355.7 422.5h0M1360.2 423.1h0M1365.3 422.9h0M1370.4 422.9h0M1375.7 422.8h0M1380.0 423.8h0M1384.2 423.1h0M1389.3 423.3h0M1392.6 422.8h0M1397.7 422.0h0M1284.2 421.0h0M1290.9 422.4h0M1298.4 427.5h0M1304.2 427.5h0M1307.4 428.1h0M1312.1 427.3h0M1317.9 426.7h0M1323.3 427.3h0M1327.6 426.4h0M1332.7 426.7h0M1337.0 427.6h0M1341.1 426.7h0M1345.8 428.1h0M1351.4 427.1h0M1355.9 427.4h0M1360.0 426.3h0M1364.4 427.3h0M1370.3 428.1h0M1375.1 427.8h0M1380.8 427.1h0M1384.2 427.1h0M1388.9 427.6h0M1394.1 426.4h0M1398.4 427.2h0M1298.2 425.6h0M1306.5 431.8h0M1311.7 430.6h0M1317.3 431.8h0M1321.8 431.1h0M1325.0 431.8h0M1329.8 431.7h0M1335.5 430.9h0M1338.5 431.5h0M1344.9 431.5h0M1350.0 430.8h0M1354.0 431.2h0M1358.3 430.9h0M1362.1 431.4h0M1367.5 432.1h0M1372.1 431.3h0M1376.8 431.6h0M1380.9 430.9h0M1386.1 431.1h0M1389.3 430.7h0M1394.6 431.7h0M1399.4 431.3h0M1301.2 432.3h0M1306.4 432.9h0M1306.3 435.6h0M1312.9 436.3h0M1316.0 436.1h0M1321.4 436.4h0M1325.6 435.9h0M1331.0 436.5h0M1334.9 435.3h0M1339.1 435.9h0M1343.6 436.2h0M1348.4 434.9h0M1354.9 435.5h0M1359.1 435.2h0M1362.6 435.3h0M1368.9 434.9h0M1373.4 436.3h0M1377.5 435.1h0M1382.3 436.3h0M1386.6 435.0h0M1391.3 436.4h0M1395.9 434.8h0M1400.1 435.8h0M1294.8 435.0h0M1301.9 433.8h0M1307.5 434.8h0M1307.6 439.8h0M1312.7 439.9h0M1317.1 439.9h0M1322.2 438.9h0M1325.3 440.5h0M1331.6 438.7h0M1336.4 439.9h0M1341.0 440.1h0M1344.6 439.0h0M1350.2 440.1h0M1354.2 439.3h0M1358.6 440.6h0M1363.6 439.1h0M1369.4 440.7h0M1372.3 439.1h0M1378.2 439.5h0M1382.3 440.1h0M1386.6 439.9h0M1391.1 439.2h0M1396.6 439.6h0M1400.9 439.0h0M1301.2 438.2h0M1308.9 439.2h0M1308.2 444.9h0M1312.6 443.3h0M1316.7 443.3h0M1321.0 443.6h0M1325.5 444.3h0M1331.1 443.5h0M1335.2 443.2h0M1339.6 443.8h0M1344.2 444.0h0M1349.4 444.5h0M1354.1 444.6h0M1360.4 444.8h0M1363.5 444.8h0M1368.8 444.7h0M1373.5 444.0h0M1377.8 444.4h0M1382.7 444.7h0M1388.3 443.8h0M1391.4 443.5h0M1397.0 443.7h0M1401.9 442.9h0M1300.4 448.5h0M1304.9 449.1h0M1310.0 448.0h0M1314.0 449.0h0M1318.8 448.3h0M1322.9 448.5h0M1328.0 449.0h0M1333.8 449.1h0M1338.4 447.2h0M1341.0 447.8h0M1347.4 448.2h0M1350.8 447.3h0M1355.5 447.4h0M1359.9 448.6h0M1364.7 447.5h0M1370.3 447.4h0M1375.5 448.4h0M1380.3 448.6h0M1384.6 447.7h0M1388.6 447.9h0M1393.2 448.9h0M1398.0 448.7h0M1402.7 447.3h0M1290.0 449.3h0M1293.3 447.6h0M1298.9 449.8h0M1281.0 451.9h0M1285.1 452.3h0M1289.4 452.1h0M1293.9 452.6h0M1300.5 453.1h0M1304.6 452.1h0M1309.2 452.4h0M1313.1 452.4h0M1318.5 451.7h0M1323.1 453.0h0M1328.3 452.0h0M1332.1 452.6h0M1337.5 451.9h0M1342.1 452.1h0M1347.2 453.1h0M1351.3 452.4h0M1356.5 452.7h0M1360.5 451.8h0M1366.7 451.6h0M1370.9 451.8h0M1375.2 452.2h0M1379.4 451.7h0M1385.7 451.4h0M1388.6 452.8h0M1393.8 451.7h0M1399.5 453.3h0M1403.4 452.7h0M1281.8 453.0h0M1277.1 456.4h0M1283.1 455.8h0M1286.4 457.5h0M1293.0 456.8h0M1295.7 456.9h0M1302.5 457.1h0M1306.6 456.4h0M1311.1 457.4h0M1315.4 455.7h0M1319.3 457.4h0M1325.3 457.4h0M1328.7 455.7h0M1334.6 456.4h0M1338.8 456.0h0M1344.1 457.1h0M1348.7 456.4h0M1352.9 456.3h0M1357.5 456.2h0M1362.2 457.4h0M1367.6 455.8h0M1372.0 457.2h0M1375.9 457.3h0M1382.0 455.7h0M1386.0 456.3h0M1390.3 456.6h0M1395.9 456.8h0M1400.6 456.0h0M1404.2 456.3h0M1269.1 456.8h0M1274.3 456.5h0M1279.5 455.8h0M1278.5 460.8h0M1282.6 460.8h0M1288.9 461.1h0M1292.0 461.1h0M1297.5 460.5h0M1302.3 460.5h0M1307.2 460.5h0M1312.0 460.3h0M1315.2 460.4h0M1319.8 461.5h0M1326.5 460.6h0M1329.5 461.5h0M1335.6 460.2h0M1339.0 460.7h0M1343.3 460.1h0M1348.6 460.0h0M1352.7 460.9h0M1357.8 461.6h0M1364.0 461.1h0M1367.1 461.2h0M1372.0 461.5h0M1376.9 461.1h0M1382.3 461.1h0M1387.0 460.4h0M1390.3 460.5h0M1396.9 459.8h0M1400.0 460.3h0M1405.2 461.5h0M1266.3 458.8h0M1274.0 460.5h0M1277.8 460.2h0M1278.7 464.0h0M1284.6 465.4h0M1287.4 464.3h0M1293.7 464.9h0M1298.3 465.4h0M1301.6 465.6h0M1306.5 464.2h0M1312.4 465.6h0M1316.1 464.7h0M1321.8 464.5h0M1325.8 465.9h0M1329.8 465.8h0M1336.3 465.9h0M1339.5 464.3h0M1344.7 464.3h0M1350.5 465.1h0M1355.0 464.9h0M1358.9 465.8h0M1362.8 464.4h0M1369.2 465.1h0M1373.7 465.9h0M1378.4 465.1h0M1383.0 465.0h0M1386.5 464.6h0M1392.9 465.0h0M1395.5 465.2h0M1402.4 465.2h0M1406.0 464.8h0M1280.0 466.5h0M1280.1 469.6h0M1284.6 468.5h0M1288.8 468.7h0M1292.9 470.0h0M1297.7 469.8h0M1303.8 468.9h0M1306.6 468.5h0M1312.8 469.5h0M1316.8 469.3h0M1321.1 469.4h0M1327.3 469.7h0M1331.5 469.3h0M1334.9 468.7h0M1340.5 468.3h0M1344.5 470.0h0M1350.6 469.2h0M1355.4 469.9h0M1359.9 469.0h0M1364.1 470.1h0M1370.1 468.4h0M1374.5 469.4h0M1378.2 469.5h0M1382.7 469.6h0M1388.1 469.3h0M1391.6 469.9h0M1398.4 469.6h0M1401.6 469.6h0M1406.6 469.2h0M1273.0 467.4h0M1277.5 467.8h0M1279.4 472.6h0M1283.4 474.3h0M1288.2 474.1h0M1293.8 472.6h0M1298.5 473.3h0M1302.4 473.4h0M1307.0 472.9h0M1313.4 474.0h0M1316.9 473.1h0M1323.4 473.0h0M1326.2 472.8h0M1332.7 473.0h0M1337.0 474.2h0M1341.6 472.7h0M1346.0 473.0h0M1350.8 473.6h0M1356.6 473.7h0M1360.3 473.9h0M1365.0 472.7h0M1370.1 472.9h0M1373.8 473.1h0M1379.2 472.4h0M1383.6 474.2h0M1388.7 473.1h0M1393.3 473.7h0M1398.2 473.1h0M1403.1 472.9h0M1407.5 473.2h0M1274.9 472.1h0M1279.0 471.4h0M1276.9 477.4h0M1283.0 478.1h0M1287.8 478.1h0M1292.8 476.9h0M1295.6 476.8h0M1301.7 476.9h0M1305.3 476.8h0M1311.3 476.9h0M1314.5 477.7h0M1320.2 476.6h0M1324.6 477.6h0M1329.2 477.6h0M1334.4 478.2h0M1339.2 477.2h0M1342.0 477.5h0M1346.7 477.8h0M1352.4 478.0h0M1357.9 478.0h0M1362.2 477.2h0M1366.9 477.8h0M1370.4 478.3h0M1375.7 477.6h0M1379.7 478.2h0M1385.0 478.0h0M1390.5 477.6h0M1394.6 477.5h0M1398.5 478.1h0M1404.7 476.6h0M1408.1 477.5h0M1267.1 476.9h0M1273.5 477.9h0M1275.0 481.5h0M1280.7 482.3h0M1285.1 481.1h0M1289.7 481.9h0M1295.8 482.0h0M1300.3 482.4h0M1304.1 481.7h0M1309.8 482.2h0M1313.6 481.1h0M1319.1 481.3h0M1322.9 481.2h0M1328.6 482.0h0M1333.9 481.9h0M1337.7 482.5h0M1341.6 481.9h0M1348.4 481.4h0M1351.2 481.0h0M1355.7 482.2h0M1361.3 482.4h0M1367.1 480.8h0M1370.6 481.3h0M1375.3 480.8h0M1380.1 481.4h0M1385.3 481.8h0M1391.3 480.9h0M1394.1 482.5h0M1399.2 481.8h0M1404.0 482.5h0M1409.0 481.9h0M1264.8 482.5h0M1274.5 480.0h0M1273.4 486.6h0M1278.1 485.9h0M1282.3 486.4h0M1287.6 485.7h0M1293.1 485.5h0M1296.2 486.2h0M1302.4 485.0h0M1306.2 486.7h0M1311.3 485.7h0M1315.1 485.5h0M1320.9 486.8h0M1325.8 486.9h0M1329.9 485.1h0M1334.4 485.7h0M1338.5 485.1h0M1345.1 486.7h0M1348.1 485.1h0M1354.7 485.3h0M1357.9 485.4h0M1362.4 485.0h0M1367.6 486.5h0M1371.4 485.9h0M1376.3 486.5h0M1382.8 486.7h0M1386.6 485.2h0M1391.7 485.1h0M1396.6 485.5h0M1401.6 485.5h0M1405.9 485.9h0M1409.9 485.9h0M1268.4 486.1h0M1272.2 486.4h0M1281.6 490.2h0M1286.4 490.7h0M1291.1 489.7h0M1295.6 489.7h0M1301.4 489.6h0M1305.2 490.9h0M1310.4 489.6h0M1315.4 490.8h0M1320.9 490.9h0M1325.2 489.8h0M1329.9 489.2h0M1335.1 490.8h0M1340.4 490.8h0M1344.5 490.7h0M1348.5 490.2h0M1352.9 491.0h0M1358.5 489.5h0M1364.4 490.4h0M1367.3 490.8h0M1373.1 490.4h0M1378.4 489.8h0M1381.8 490.3h0M1386.4 490.5h0M1391.8 489.5h0M1395.7 489.4h0M1401.5 491.0h0M1406.8 490.8h0M1410.8 490.7h0M1278.6 489.2h0M1281.9 488.3h0M1291.2 494.9h0M1296.6 494.2h0M1301.3 493.4h0M1305.9 494.7h0M1310.4 494.2h0M1314.5 495.0h0M1318.3 493.7h0M1324.1 495.1h0M1327.6 494.4h0M1332.9 493.9h0M1338.3 493.9h0M1342.7 494.1h0M1345.9 495.2h0M1350.6 493.5h0M1354.9 494.0h0M1359.6 493.6h0M1366.3 493.8h0M1370.4 493.8h0M1373.5 493.3h0M1378.3 495.2h0M1383.8 493.8h0M1387.5 494.6h0M1392.7 493.7h0M1397.6 494.7h0M1402.0 494.4h0M1406.3 494.4h0M1411.4 495.2h0M1289.9 495.3h0M1446.2 381.3h0M1450.6 380.7h0M1455.7 380.3h0M1459.4 380.4h0M1463.6 381.7h0M1468.3 381.4h0M1472.2 381.8h0M1477.7 381.4h0M1481.4 381.1h0M1487.5 380.5h0M1490.4 380.7h0M1496.4 381.4h0M1499.3 380.6h0M1505.8 380.5h0M1508.4 381.7h0M1514.6 380.8h0M1518.8 381.4h0M1524.9 382.6h0M1445.6 384.9h0M1451.3 386.1h0M1455.4 385.1h0M1460.2 385.9h0M1463.9 384.4h0M1468.7 384.4h0M1472.6 385.3h0M1477.6 385.4h0M1482.9 386.0h0M1486.3 386.0h0M1490.8 384.8h0M1496.4 386.1h0M1500.4 385.7h0M1505.7 384.8h0M1509.8 386.0h0M1513.0 384.4h0M1519.5 385.3h0M1517.7 384.5h0M1445.2 389.6h0M1449.6 388.3h0M1455.3 388.5h0M1458.2 389.9h0M1464.3 389.7h0M1467.6 389.8h0M1472.8 389.5h0M1477.6 389.4h0M1481.6 388.8h0M1486.7 388.5h0M1489.7 389.6h0M1494.1 390.1h0M1499.0 389.3h0M1503.7 389.3h0M1509.0 388.7h0M1513.4 390.3h0M1517.1 388.8h0M1526.4 387.4h0M1444.8 394.2h0M1449.5 392.9h0M1454.9 392.8h0M1459.1 393.9h0M1464.1 393.0h0M1467.6 393.8h0M1472.7 393.7h0M1478.5 392.6h0M1483.2 394.5h0M1487.2 393.7h0M1491.8 394.3h0M1496.4 392.7h0M1501.8 393.4h0M1506.7 392.9h0M1512.3 393.6h0M1515.8 394.0h0M1528.3 394.9h0M1521.4 391.7h0M1444.3 397.9h0M1449.7 397.7h0M1454.2 398.4h0M1459.0 397.6h0M1462.7 396.8h0M1468.4 396.9h0M1472.3 397.9h0M1476.0 397.4h0M1481.0 396.7h0M1485.9 397.5h0M1491.4 398.1h0M1496.6 398.5h0M1499.7 397.9h0M1505.4 398.3h0M1508.8 397.4h0M1514.6 397.4h0M1520.8 396.0h0M1443.6 402.9h0M1447.6 402.6h0M1453.6 401.1h0M1456.2 402.3h0M1462.9 401.0h0M1467.2 402.2h0M1470.9 401.2h0M1475.6 401.9h0M1479.5 402.7h0M1485.4 401.3h0M1489.7 402.1h0M1495.1 402.9h0M1499.6 401.0h0M1503.1 401.2h0M1508.5 401.1h0M1513.3 402.2h0M1442.8 406.4h0M1447.5 406.2h0M1451.0 405.5h0M1457.3 406.0h0M1461.5 406.8h0M1466.1 406.6h0M1471.8 406.8h0M1475.3 406.3h0M1480.6 406.3h0M1484.5 405.5h0M1489.6 406.7h0M1495.6 405.9h0M1499.9 406.0h0M1504.5 405.7h0M1508.8 407.0h0M1514.8 405.4h0M1525.9 405.9h0M1515.1 407.7h0M1442.1 411.0h0M1446.1 409.5h0M1450.9 410.4h0M1456.8 410.5h0M1461.9 409.7h0M1465.3 410.5h0M1470.5 410.7h0M1475.0 409.5h0M1480.4 410.9h0M1483.5 411.0h0M1488.1 410.7h0M1494.2 409.9h0M1497.7 409.8h0M1503.7 410.4h0M1508.8 409.7h0M1513.1 409.9h0M1516.5 409.7h0M1521.4 409.6h0M1534.8 409.8h0M1523.0 409.3h0M1441.5 413.9h0M1446.9 415.1h0M1451.3 413.7h0M1456.2 414.8h0M1459.9 414.7h0M1464.3 415.4h0M1470.1 415.4h0M1472.8 414.6h0M1478.8 413.9h0M1483.8 415.0h0M1486.7 414.1h0M1492.6 415.3h0M1498.0 414.1h0M1502.3 414.7h0M1505.8 414.0h0M1509.9 413.6h0M1515.3 413.8h0M1519.4 414.2h0M1523.9 413.9h0M1528.8 415.5h0M1532.1 415.8h0M1440.8 419.5h0M1445.8 419.5h0M1449.7 418.9h0M1454.5 419.6h0M1459.2 419.7h0M1463.9 418.4h0M1469.9 418.9h0M1473.5 418.0h0M1479.8 418.1h0M1483.7 419.4h0M1488.5 418.7h0M1492.6 419.6h0M1498.4 419.1h0M1502.7 419.1h0M1507.5 418.1h0M1512.2 419.2h0M1518.2 418.8h0M1522.5 419.6h0M1527.3 419.7h0M1531.2 419.5h0M1530.9 416.8h0M1440.1 423.7h0M1444.2 423.1h0M1449.1 423.7h0M1454.4 422.7h0M1458.9 422.4h0M1464.3 422.2h0M1469.0 423.0h0M1471.9 423.9h0M1476.8 423.3h0M1481.6 422.2h0M1487.5 423.7h0M1492.5 423.3h0M1496.6 422.2h0M1502.1 422.6h0M1506.0 422.0h0M1510.0 423.0h0M1515.1 422.8h0M1519.6 422.0h0M1524.9 422.6h0M1528.4 422.7h0M1534.3 423.4h0M1540.0 423.3h0M1536.8 422.4h0M1439.1 426.2h0M1443.0 426.5h0M1447.9 426.5h0M1452.5 428.0h0M1458.4 427.1h0M1463.1 426.7h0M1468.6 427.6h0M1472.3 426.2h0M1476.1 426.2h0M1482.6 426.2h0M1486.7 427.2h0M1491.3 426.7h0M1497.4 428.0h0M1501.8 427.2h0M1507.0 427.5h0M1510.1 426.4h0M1514.7 426.3h0M1520.0 427.3h0M1524.4 426.3h0M1529.5 427.0h0M1535.5 427.9h0M1541.6 426.2h0M1535.5 426.1h0M1438.4 430.9h0M1443.7 430.8h0M1448.2 430.7h0M1451.1 431.2h0M1457.7 431.6h0M1460.9 431.3h0M1465.7 431.6h0M1470.2 430.7h0M1476.4 430.4h0M1479.1 431.0h0M1484.1 431.4h0M1489.1 430.6h0M1494.5 431.7h0M1497.7 430.7h0M1502.1 431.3h0M1507.9 431.8h0M1511.6 432.1h0M1517.8 431.3h0M1520.6 430.7h0M1526.6 430.5h0M1531.0 431.8h0M1534.2 430.6h0M1545.3 432.7h0M1533.8 431.5h0M1437.9 435.1h0M1443.3 435.1h0M1446.8 435.9h0M1452.7 434.6h0M1456.6 435.8h0M1460.2 434.7h0M1465.4 435.2h0M1470.9 436.5h0M1475.5 435.4h0M1480.9 436.4h0M1484.4 435.5h0M1489.2 434.7h0M1494.2 435.9h0M1498.5 435.7h0M1504.2 435.8h0M1508.3 436.3h0M1513.1 435.4h0M1518.3 436.4h0M1521.0 436.5h0M1525.9 436.3h0M1531.7 436.1h0M1535.7 435.1h0M1544.6 434.0h0M1543.0 435.7h0M1437.3 439.6h0M1440.8 440.5h0M1445.2 439.8h0M1451.5 439.0h0M1454.8 440.0h0M1459.0 440.5h0M1465.1 439.8h0M1469.7 439.0h0M1474.5 439.8h0M1478.0 440.4h0M1482.8 438.8h0M1487.9 438.8h0M1492.2 439.2h0M1496.5 439.6h0M1501.7 440.0h0M1505.5 439.2h0M1511.1 438.9h0M1515.3 440.2h0M1520.0 438.8h0M1523.3 440.0h0M1529.5 440.0h0M1534.6 440.1h0M1537.9 440.6h0M1546.6 439.3h0M1543.9 439.9h0M1539.2 439.6h0M1436.4 444.5h0M1441.7 444.3h0M1444.9 444.1h0M1451.0 443.3h0M1455.1 444.0h0M1459.6 443.1h0M1464.4 443.8h0M1470.4 444.9h0M1475.3 444.7h0M1480.4 443.9h0M1484.4 443.0h0M1489.4 444.6h0M1493.3 444.1h0M1497.5 444.8h0M1503.1 443.8h0M1507.4 444.7h0M1513.8 443.7h0M1517.6 443.5h0M1522.8 444.2h0M1527.9 443.0h0M1531.9 444.9h0M1535.6 444.2h0M1541.2 443.2h0M1542.1 445.4h0M1435.8 447.2h0M1440.5 448.4h0M1444.0 448.8h0M1450.4 448.3h0M1454.0 449.0h0M1458.7 449.1h0M1464.2 448.9h0M1468.9 448.3h0M1474.6 448.0h0M1477.9 449.1h0M1484.2 447.4h0M1488.7 448.6h0M1492.0 447.6h0M1496.4 448.8h0M1501.2 448.8h0M1507.6 449.1h0M1510.8 448.7h0M1515.5 447.3h0M1522.0 447.4h0M1526.5 449.1h0M1530.6 448.0h0M1536.3 448.4h0M1541.3 448.5h0M1544.8 447.2h0M1546.5 447.2h0M1434.9 451.6h0M1438.6 452.3h0M1444.8 452.7h0M1449.8 453.1h0M1454.3 451.8h0M1459.1 452.8h0M1462.3 451.4h0M1468.9 451.7h0M1473.5 453.2h0M1477.2 452.4h0M1481.2 451.5h0M1487.7 452.6h0M1491.1 451.7h0M1495.4 452.9h0M1500.6 451.4h0M1506.6 452.0h0M1509.8 452.5h0M1515.0 452.4h0M1519.9 452.4h0M1524.2 452.3h0M1530.5 451.7h0M1534.0 452.2h0M1538.8 452.0h0M1544.0 453.2h0M1547.6 452.2h0M1554.8 451.8h0M1550.1 451.3h0M1434.4 456.8h0M1440.0 456.4h0M1444.7 456.6h0M1448.9 456.8h0M1453.9 456.8h0M1458.5 456.9h0M1462.4 457.3h0M1468.0 456.5h0M1472.8 456.2h0M1476.7 457.4h0M1481.5 456.2h0M1487.1 456.5h0M1490.8 456.1h0M1497.2 455.8h0M1501.3 455.7h0M1505.2 457.5h0M1510.8 456.5h0M1514.8 455.8h0M1520.6 457.4h0M1526.4 456.3h0M1530.2 456.0h0M1535.7 455.8h0M1539.3 455.9h0M1545.1 457.3h0M1549.2 456.2h0M1556.1 455.8h0M1433.6 461.5h0M1438.9 460.4h0M1442.0 461.0h0M1446.4 460.9h0M1451.6 461.1h0M1455.8 461.1h0M1460.8 460.9h0M1466.5 460.1h0M1470.3 461.2h0M1475.8 461.5h0M1478.9 460.5h0M1484.3 461.5h0M1489.3 460.4h0M1493.2 460.6h0M1498.2 459.8h0M1503.6 461.5h0M1507.7 460.6h0M1513.5 461.6h0M1518.3 461.2h0M1521.2 460.4h0M1526.2 461.3h0M1531.9 461.4h0M1535.1 460.2h0M1541.7 460.4h0M1545.4 460.6h0M1550.4 459.7h0M1549.9 461.5h0M1432.9 465.5h0M1438.1 465.1h0M1442.6 465.3h0M1447.4 465.7h0M1452.0 465.7h0M1456.6 464.1h0M1460.1 465.7h0M1464.6 465.7h0M1470.7 464.2h0M1475.8 465.4h0M1478.9 464.6h0M1484.7 465.2h0M1489.1 465.6h0M1493.2 465.6h0M1499.4 465.6h0M1502.9 464.4h0M1507.7 464.7h0M1512.8 464.1h0M1516.6 464.1h0M1520.9 464.5h0M1526.6 465.5h0M1530.9 465.7h0M1535.8 465.8h0M1540.2 464.6h0M1544.4 465.5h0M1550.1 465.8h0M1552.6 463.2h0M1432.2 470.1h0M1435.7 470.0h0M1442.4 468.3h0M1445.8 469.7h0M1451.7 469.2h0M1456.2 469.0h0M1460.5 468.3h0M1465.0 468.5h0M1469.8 468.7h0M1472.8 469.0h0M1478.0 469.1h0M1482.1 469.0h0M1487.3 468.8h0M1492.8 469.6h0M1497.2 469.0h0M1501.4 469.3h0M1507.1 468.6h0M1510.3 469.5h0M1515.3 469.6h0M1520.6 468.3h0M1524.8 470.0h0M1530.6 469.4h0M1535.6 470.1h0M1539.8 469.9h0M1543.8 469.9h0M1548.0 470.0h0M1431.4 473.7h0M1435.0 473.8h0M1439.6 474.1h0M1445.9 474.1h0M1450.3 472.9h0M1454.7 473.3h0M1459.9 473.5h0M1463.5 473.8h0M1469.0 473.6h0M1472.6 473.7h0M1477.7 472.5h0M1481.7 472.6h0M1486.9 472.5h0M1492.1 473.5h0M1495.3 473.7h0M1501.4 472.4h0M1505.9 473.3h0M1510.9 474.2h0M1514.9 473.9h0M1518.5 473.8h0M1524.3 473.8h0M1528.4 472.8h0M1532.9 472.7h0M1538.1 473.7h0M1542.7 473.9h0M1546.5 473.5h0M1546.7 472.6h0M1430.7 477.9h0M1435.0 476.9h0M1441.1 477.7h0M1445.7 477.4h0M1448.6 476.7h0M1455.2 476.6h0M1458.0 477.7h0M1463.5 476.6h0M1468.1 477.7h0M1472.4 477.3h0M1477.3 477.5h0M1483.5 477.7h0M1487.9 478.2h0M1491.0 476.7h0M1497.5 477.5h0M1501.4 478.3h0M1505.7 477.5h0M1511.7 477.9h0M1514.8 477.0h0M1521.3 477.8h0M1525.0 478.3h0M1530.0 478.3h0M1534.2 477.8h0M1539.1 476.5h0M1544.5 477.6h0M1549.3 478.1h0M1430.0 482.6h0M1434.2 480.8h0M1438.7 482.4h0M1443.3 482.2h0M1450.2 482.3h0M1453.8 481.1h0M1459.4 481.1h0M1462.3 481.7h0M1469.2 482.7h0M1473.1 480.8h0M1477.8 481.6h0M1483.0 481.5h0M1487.3 482.4h0M1493.0 481.2h0M1497.2 480.8h0M1501.9 480.8h0M1507.0 481.5h0M1512.5 481.7h0M1515.5 482.2h0M1520.8 481.8h0M1526.4 481.5h0M1530.8 480.8h0M1535.1 480.9h0M1540.3 481.7h0M1550.0 479.8h0M1429.3 486.9h0M1434.3 485.9h0M1438.0 486.3h0M1443.9 486.5h0M1447.7 486.7h0M1451.8 486.5h0M1458.2 485.0h0M1461.0 486.3h0M1466.9 485.2h0M1470.0 486.8h0M1476.9 486.7h0M1479.5 486.4h0M1485.0 485.7h0M1489.3 486.3h0M1494.2 485.3h0M1498.1 485.0h0M1503.6 486.4h0M1508.6 486.9h0M1514.0 486.7h0M1517.9 486.0h0M1522.9 486.2h0M1526.4 486.0h0M1531.7 485.9h0M1536.4 485.9h0M1540.4 487.9h0M1428.6 490.8h0M1433.9 489.8h0M1437.5 489.5h0M1441.7 489.6h0M1448.6 491.1h0M1452.7 491.1h0M1456.2 490.2h0M1463.1 489.7h0M1465.7 491.0h0M1471.9 491.0h0M1475.5 490.8h0M1481.4 490.9h0M1485.6 489.2h0M1491.1 489.8h0M1494.8 489.4h0M1499.5 490.3h0M1505.8 489.3h0M1509.3 490.8h0M1514.2 490.3h0M1518.9 490.8h0M1524.6 489.3h0M1528.8 490.5h0M1533.4 489.4h0M1537.5 488.6h0M1536.1 491.7h0M1427.8 494.8h0M1433.2 495.3h0M1436.5 494.7h0M1442.8 494.8h0M1445.6 495.0h0M1451.9 494.5h0M1455.0 493.5h0M1459.6 494.4h0M1465.7 493.5h0M1471.0 494.1h0M1474.1 494.5h0M1479.1 493.8h0M1483.7 494.9h0M1488.2 493.8h0M1493.0 494.7h0M1498.9 494.2h0M1502.4 493.4h0M1508.9 494.5h0M1511.7 494.6h0M1518.1 493.7h0M1523.1 493.7h0M1526.7 494.2h0M1532.6 494.3h0M1532.0 494.2h0M1292.1 494.4h0M1296.5 496.0h0M1303.0 494.3h0M1308.0 494.7h0M1312.2 494.9h0M1316.3 494.9h0M1320.1 495.0h0M1325.4 495.8h0M1331.0 494.6h0M1336.2 495.2h0M1340.5 495.5h0M1345.5 494.4h0M1350.6 495.5h0M1355.1 495.5h0M1358.7 496.0h0M1364.6 495.8h0M1368.4 494.6h0M1374.5 496.0h0M1378.9 494.3h0M1382.7 495.1h0M1386.8 494.7h0M1392.9 495.9h0M1397.9 495.8h0M1401.6 495.7h0M1406.4 494.5h0M1412.2 494.5h0M1415.5 495.4h0M1420.4 495.3h0M1425.2 495.0h0M1431.8 494.8h0M1435.0 495.8h0M1441.4 494.9h0M1445.8 494.5h0M1448.9 494.4h0M1455.0 495.6h0M1458.7 494.3h0M1463.9 494.5h0M1468.8 495.5h0M1473.6 495.5h0M1479.0 495.8h0M1483.6 495.9h0M1487.9 495.1h0M1492.3 494.4h0M1497.4 495.7h0M1503.4 494.9h0M1506.9 494.7h0M1512.2 494.9h0M1518.0 495.4h0M1521.3 495.1h0M1526.3 495.9h0M1530.4 495.6h0M1284.9 494.0h0M1290.7 495.5h0M1540.6 495.2h0M1530.3 494.0h0M1310.7 500.2h0M1314.0 498.4h0M1320.4 500.2h0M1324.1 500.1h0M1329.3 500.0h0M1332.7 498.2h0M1339.3 499.1h0M1342.4 499.7h0M1346.9 498.6h0M1353.3 499.7h0M1357.6 499.4h0M1362.5 498.7h0M1366.7 499.4h0M1371.2 499.8h0M1377.5 499.5h0M1380.5 498.8h0M1386.2 499.1h0M1390.5 498.2h0M1395.2 498.9h0M1399.4 500.2h0M1405.6 500.1h0M1409.2 499.6h0M1415.0 498.7h0M1419.5 499.6h0M1424.2 499.3h0M1428.2 498.7h0M1433.1 499.2h0M1438.0 498.6h0M1442.0 500.2h0M1447.4 500.0h0M1453.4 498.5h0M1456.5 498.7h0M1460.8 498.6h0M1467.0 499.6h0M1470.7 499.3h0M1476.5 499.6h0M1481.4 499.7h0M1484.8 498.5h0M1491.0 499.1h0M1495.7 499.7h0M1500.6 499.6h0M1504.5 500.0h0M1509.8 499.2h0M1514.9 498.9h0M1518.6 499.4h0M1524.8 498.6h0M1527.9 498.4h0M1304.4 498.6h0M1309.7 497.8h0M1534.0 499.2h0M1528.3 500.4h0M1327.0 503.5h0M1333.3 503.1h0M1336.8 503.8h0M1341.7 504.0h0M1347.3 502.9h0M1351.1 503.3h0M1355.7 503.7h0M1359.8 503.0h0M1364.6 503.3h0M1369.4 503.0h0M1375.6 503.6h0M1378.8 502.6h0M1384.3 503.6h0M1388.8 502.5h0M1393.6 504.0h0M1398.2 503.7h0M1402.4 503.2h0M1406.9 503.9h0M1412.7 503.5h0M1416.9 503.0h0M1422.6 502.5h0M1426.4 503.0h0M1431.6 504.3h0M1435.8 503.8h0M1439.6 504.4h0M1444.9 504.1h0M1448.6 503.1h0M1454.9 502.7h0M1458.0 503.1h0M1464.2 504.1h0M1467.8 503.6h0M1474.0 503.9h0M1478.2 503.4h0M1482.0 503.0h0M1487.4 503.0h0M1492.4 502.9h0M1497.0 502.8h0M1501.8 504.2h0M1507.0 503.2h0M1511.7 502.7h0M1515.2 503.0h0M1519.9 502.5h0M1522.0 504.8h0M1337.0 508.1h0M1342.0 507.2h0M1347.1 508.0h0M1350.4 508.0h0M1357.2 506.7h0M1361.9 507.5h0M1366.6 507.4h0M1370.2 507.9h0M1374.6 507.1h0M1380.1 507.3h0M1383.4 507.2h0M1390.1 508.1h0M1393.1 507.6h0M1398.9 506.9h0M1404.1 508.5h0M1408.4 508.2h0M1412.6 507.1h0M1417.9 508.3h0M1422.8 506.9h0M1428.1 508.4h0M1432.1 507.0h0M1435.6 506.8h0M1441.8 507.7h0M1447.0 506.9h0M1450.2 507.2h0M1456.1 508.1h0M1460.5 507.6h0M1464.2 507.4h0M1468.5 508.0h0M1474.4 507.7h0M1479.7 506.9h0M1483.9 506.8h0M1487.7 507.9h0M1493.0 508.3h0M1497.1 507.3h0M1502.2 507.2h0M1507.6 507.3h0M1511.7 508.2h0M1327.7 507.6h0M1331.5 506.3h0M1337.6 506.9h0M1520.8 508.1h0M1510.4 507.4h0M1346.6 511.2h0M1352.1 511.6h0M1357.1 511.8h0M1360.4 512.5h0M1364.7 511.5h0M1370.1 511.0h0M1375.5 511.4h0M1380.9 512.6h0M1383.5 511.2h0M1389.7 512.2h0M1393.4 511.5h0M1399.8 512.7h0M1403.1 512.2h0M1409.2 512.1h0M1412.7 512.7h0M1417.8 512.2h0M1423.2 510.9h0M1426.1 510.9h0M1431.2 512.7h0M1437.0 511.5h0M1441.4 511.7h0M1445.9 511.5h0M1451.6 512.3h0M1454.3 512.0h0M1461.1 511.6h0M1463.9 510.9h0M1469.6 511.5h0M1474.3 512.2h0M1478.8 512.0h0M1483.9 511.9h0M1488.4 511.2h0M1492.6 512.1h0M1498.8 511.0h0M1336.3 513.6h0M1346.7 510.1h0M1505.3 511.2h0M1497.8 510.3h0M1352.5 515.4h0M1356.4 515.9h0M1362.9 516.5h0M1366.9 515.2h0M1371.4 515.5h0M1376.0 516.8h0M1380.1 516.1h0M1385.4 515.9h0M1389.1 516.8h0M1395.7 515.4h0M1400.3 515.9h0M1404.9 515.6h0M1407.7 517.0h0M1413.1 515.1h0M1417.4 515.7h0M1423.5 516.9h0M1426.9 515.2h0M1431.2 517.0h0M1436.6 515.3h0M1440.9 516.0h0M1446.3 516.1h0M1451.3 515.9h0M1456.1 516.4h0M1460.2 515.2h0M1464.2 515.6h0M1470.2 516.7h0M1474.4 516.4h0M1477.8 515.0h0M1482.3 515.9h0M1352.7 515.2h0M1495.0 517.3h0M1488.7 514.5h0M1485.1 517.5h0M1340.7 525.0h0M1345.3 525.0h0M1349.9 525.0h0M1354.4 525.0h0M1359.0 525.0h0M1363.6 525.0h0M1368.2 525.0h0M1372.8 525.0h0M1377.3 525.0h0M1381.9 525.0h0M1386.5 525.0h0M1391.1 525.0h0M1395.7 525.0h0M1400.2 525.0h0M1404.8 525.0h0M1409.4 525.0h0M1414.0 525.0h0M1418.6 525.0h0M1423.1 525.0h0M1427.7 525.0h0M1432.3 525.0h0M1436.9 525.0h0M1441.5 525.0h0M1446.0 525.0h0M1450.6 525.0h0M1455.2 525.0h0M1459.8 525.0h0M1464.4 525.0h0M1468.9 525.0h0M1473.5 525.0h0M1478.1 525.0h0M1482.7 525.0h0M1487.3 525.0h0M1363.6 60.5h0M1475.2 60.5h0M1362.5 93.0h0M1477.0 93.0h0M1364.8 111.0h0M1475.2 111.0h0M1641.3 427.5h0M1601.2 395.0h0M1586.9 385.0h0M1581.1 397.5h0M1555.4 400.0h0M1566.8 410.0h0M1572.6 417.5h0M1543.9 427.5h0M1558.2 425.0h0M1572.6 437.5h0M1604.0 446.5h0M1606.9 455.0h0M1619.5 453.5h0M1575.4 455.0h0M1578.3 465.0h0M1572.6 472.5h0M1678.5 461.0h0M1684.2 457.5h0M1695.6 456.0h0M1503.9 525.0h0M1492.4 525.0h0M1523.9 395.0h0M1535.3 415.0h0M1541.1 495.0h0M1209.0 390.0h0M1257.7 401.5h0M1136.3 455.0h0M1182.1 456.5h0M1195.9 461.0h0M1211.9 455.0h0M1224.5 458.5h0M1240.5 455.0h0M1249.1 454.0h0M1268.0 452.5h0M1283.5 440.0h0M1229.1 483.5h0M1239.4 480.0h0M1268.0 486.0h0M1277.7 490.0h0M1274.9 417.5h0M1283.5 412.5h0M1294.9 492.5h0M1289.2 480.0h0" transform="scale(0.8734 1)" stroke="#808080" stroke-width="15.8" stroke-linecap="round" fill="none"/>
<path d="M1160.4 60.5h0M1195.9 60.5h0M1234.8 60.5h0M1240.0 60.5h0M1245.1 60.5h0M1250.3 60.5h0M1255.4 60.5h0M1260.6 60.5h0M1265.7 60.5h0M1270.9 60.5h0M1276.0 60.5h0M1281.2 60.5h0M1286.3 60.5h0M1291.5 60.5h0M1296.6 60.5h0M1301.8 60.5h0M1306.9 60.5h0M1312.1 60.5h0M1317.2 60.5h0M1322.4 60.5h0M1327.5 60.5h0M1332.7 60.5h0M1337.8 60.5h0M1343.0 60.5h0M1348.2 60.5h0M1353.3 60.5h0M1358.5 60.5h0M1203.3 93.0h0M1320.7 93.0h0M1326.4 93.0h0M1332.1 93.0h0M1337.8 93.0h0M1343.6 93.0h0M1349.3 93.0h0M1355.0 93.0h0M1289.2 111.0h0M1303.5 111.0h0M1320.7 111.0h0M1326.4 111.0h0M1332.1 111.0h0M1337.8 111.0h0M1343.6 111.0h0M1349.3 111.0h0M1355.0 111.0h0M1229.1 176.5h0M1259.4 162.5h0M1264.6 168.5h0M1289.2 172.5h0M1296.1 187.5h0M1300.6 200.0h0M1236.5 233.5h0M1233.7 245.0h0M1294.9 226.5h0M1285.2 264.0h0M1273.7 322.5h0M1253.7 336.0h0M1269.2 368.5h0M1238.2 372.5h0M1106.0 376.0h0M1308.5 331.6h0M1346.9 319.8h0M1329.9 209.2h0M1329.7 274.5h0M1345.8 225.9h0M1342.6 233.7h0M1318.7 253.4h0M1349.7 282.4h0M1324.5 258.0h0M1347.1 262.9h0M1338.6 245.3h0M1326.8 285.3h0M1321.4 278.2h0M1351.4 287.5h0M1346.1 349.4h0M1349.2 324.6h0M1329.3 291.7h0M1344.9 346.8h0M1333.4 204.5h0M1339.1 366.7h0M1338.0 204.4h0M1328.6 133.5h0M1314.0 250.3h0M1351.2 238.3h0M1324.4 131.6h0M1350.8 180.4h0M1301.3 147.5h0M1331.6 131.6h0M1334.8 222.0h0M1307.6 359.3h0M1327.6 174.7h0M1316.1 331.8h0M1350.9 154.9h0M1335.2 252.3h0M1346.1 351.5h0M1327.9 289.5h0M1350.8 180.2h0M1344.8 312.1h0M1328.7 201.6h0M1326.4 148.2h0M1338.2 161.1h0M1340.5 287.7h0M1309.8 381.6h0M1344.8 135.4h0M1351.4 176.7h0M1321.3 348.2h0M1349.2 350.5h0M1335.2 186.5h0M1337.2 151.1h0M1306.2 193.4h0M1324.4 254.7h0M1321.7 333.8h0M1320.5 320.0h0M1323.7 115.7h0M1350.9 245.1h0M1333.2 216.3h0M1349.7 286.0h0M1333.4 204.2h0M1332.2 354.7h0M1347.7 266.9h0M1312.8 359.2h0M1327.9 367.7h0M1346.4 277.4h0M1336.1 178.8h0M1337.8 260.7h0M1348.0 231.2h0M1339.8 340.7h0M1342.7 110.2h0M1349.5 118.6h0M1341.3 221.1h0M1305.0 290.0h0M1319.9 159.9h0M1334.3 185.8h0M1306.4 220.1h0M1329.3 350.7h0M1300.7 146.9h0M1335.6 210.5h0M1317.1 349.8h0M1351.6 114.7h0M1335.8 146.1h0M1344.7 206.0h0M1328.0 273.4h0M1337.7 280.8h0M1307.6 307.2h0M1335.4 321.1h0M1342.1 223.3h0M1322.2 248.1h0M1350.9 298.8h0M1333.6 361.9h0M1304.7 150.9h0M1344.7 312.6h0M1342.2 370.3h0M1331.3 152.5h0M1348.3 318.4h0M1326.2 304.4h0M1328.7 226.6h0M1323.7 233.7h0M1342.0 146.6h0M1321.6 216.3h0M1345.4 289.4h0M1336.2 171.3h0M1337.2 171.2h0M1332.4 173.9h0M1327.0 380.2h0M1328.9 193.9h0M1338.9 210.3h0M1299.5 354.1h0M1332.4 373.4h0M1350.7 211.1h0M1349.7 345.0h0M1345.2 250.3h0M1344.7 379.1h0M1317.9 332.6h0M1328.9 338.2h0M1350.3 317.4h0M1343.6 362.4h0M1346.6 120.7h0M1348.4 306.8h0M1304.8 163.0h0M1342.7 236.7h0M1304.3 171.8h0M1349.0 111.1h0M1307.7 178.4h0M1302.7 178.6h0M1338.0 217.1h0M1334.9 357.8h0M1345.9 308.1h0M1348.7 332.3h0M1303.0 116.7h0M1351.3 337.5h0M1333.4 154.8h0M1341.9 156.7h0M1321.5 225.9h0M1351.2 252.0h0M1340.2 179.6h0M1331.7 279.2h0M1350.3 223.4h0M1337.5 292.4h0M1348.3 146.2h0M1335.4 338.2h0M1350.4 113.0h0M1341.8 340.9h0M1351.6 272.4h0M1344.4 374.3h0M1341.7 138.2h0M1319.0 175.5h0M1350.3 220.0h0M1324.8 224.0h0M1323.2 158.5h0M1346.6 302.7h0M1338.6 345.0h0M1344.0 225.1h0M1349.6 384.5h0M1331.2 208.6h0M1350.4 238.0h0M1305.8 312.1h0M1299.6 281.9h0M1350.0 201.0h0M1320.6 218.0h0M1349.0 267.8h0M1351.0 295.2h0M1319.5 132.7h0M1339.2 318.5h0M1296.4 175.5h0M1320.6 199.8h0M1308.7 349.2h0M1317.9 383.9h0M1339.3 262.8h0M1349.9 239.8h0M1309.7 380.2h0M1344.1 139.7h0M1330.9 312.0h0M1341.8 338.6h0M1339.2 245.9h0M1349.2 332.6h0M1349.5 294.9h0M1339.1 270.4h0M1350.6 272.6h0M1351.3 202.2h0M1299.5 118.9h0M1345.3 362.4h0M1332.5 252.4h0M1329.0 153.0h0M1342.7 292.6h0M1346.5 113.5h0M1342.7 149.0h0M1348.1 282.4h0M1322.2 168.5h0M1335.2 208.6h0M1308.6 200.9h0M1351.3 265.9h0M1327.4 348.0h0M1338.3 214.4h0M1340.6 120.7h0M1317.1 225.4h0M1310.3 154.9h0M1329.5 330.2h0M1340.0 236.2h0M1303.0 372.6h0M1346.8 283.7h0M1351.4 333.4h0M1337.7 302.4h0M1351.2 190.9h0M1324.0 323.1h0M1341.0 343.1h0M1315.2 173.6h0M1307.8 136.2h0M1308.7 128.8h0M1320.7 342.0h0M1346.1 276.8h0M1349.3 239.9h0M1332.6 335.1h0M1337.7 356.7h0M1330.6 121.2h0M1336.7 190.3h0M1348.8 110.2h0M1342.8 138.3h0M1330.6 269.9h0M1299.6 191.3h0M1347.4 180.0h0M1305.3 258.6h0M1333.5 370.6h0M1342.2 128.5h0M1349.4 235.4h0M1346.7 224.7h0M1328.6 222.6h0M1303.0 303.0h0M1332.8 197.5h0M1345.0 273.0h0M1319.5 309.0h0M1329.9 303.1h0M1306.8 263.3h0M1351.2 237.2h0M1350.0 268.1h0M1340.4 221.7h0M1330.9 322.8h0M1340.2 223.8h0M1311.1 117.2h0M1330.0 238.3h0M1347.0 263.7h0M1342.5 133.4h0M1341.3 372.5h0M1346.6 277.5h0M1345.6 291.9h0M1340.6 209.5h0M1340.4 269.1h0M1333.2 287.0h0M1308.5 152.8h0M1347.3 215.0h0M1327.6 161.5h0M1351.6 117.6h0M1331.4 161.6h0M1333.6 208.9h0M1318.2 349.9h0M1336.9 185.2h0M1331.9 323.6h0M1339.5 183.2h0M1325.3 300.7h0M1332.7 339.2h0M1302.2 194.7h0M1349.7 195.6h0M1349.1 284.5h0M1318.7 120.2h0M1348.3 244.1h0M1348.9 155.9h0M1349.2 254.3h0M1327.9 236.2h0M1337.9 302.4h0M1329.3 206.3h0M1308.1 246.7h0M1314.1 290.3h0M1337.5 230.7h0M1342.3 157.4h0M1342.6 175.4h0M1343.7 176.4h0M1318.0 228.1h0M1304.2 289.2h0M1312.0 249.2h0M1322.7 370.8h0M1344.1 192.2h0M1315.8 343.0h0M1299.3 167.0h0M1324.8 351.5h0M1329.8 237.0h0M1337.4 216.0h0M1345.7 332.3h0M1301.5 348.8h0M1337.6 159.3h0M1342.5 338.1h0M1347.0 318.8h0M1342.6 293.4h0M1337.9 324.5h0M1303.2 287.6h0M1334.9 172.8h0M1349.1 195.3h0M1321.1 363.5h0M1339.5 159.1h0M1343.0 343.1h0M1345.3 298.3h0M1346.6 340.2h0M1347.5 154.9h0M1308.0 232.0h0M1337.0 192.9h0M1346.4 209.2h0M1339.4 265.6h0M1344.1 355.0h0M1324.6 294.2h0M1335.9 315.3h0M1337.0 376.9h0M1349.6 288.9h0" transform="scale(0.8734 1)" stroke="#ff0000" stroke-width="15.8" stroke-linecap="round" fill="none"/>
<path d="M1483.8 60.5h0M1489.0 60.5h0M1494.1 60.5h0M1499.3 60.5h0M1504.4 60.5h0M1509.6 60.5h0M1514.7 60.5h0M1519.9 60.5h0M1525.0 60.5h0M1530.2 60.5h0M1535.3 60.5h0M1540.5 60.5h0M1545.7 60.5h0M1550.8 60.5h0M1556.0 60.5h0M1561.1 60.5h0M1566.3 60.5h0M1571.4 60.5h0M1576.6 60.5h0M1581.7 60.5h0M1586.9 60.5h0M1604.0 60.5h0M1618.4 60.5h0M1629.8 60.5h0M1652.7 60.5h0M1662.4 60.5h0M1671.6 60.5h0M1692.8 60.5h0M1704.2 60.5h0M1741.4 60.5h0M1840.5 60.5h0M1486.7 93.0h0M1492.4 93.0h0M1498.1 93.0h0M1503.9 93.0h0M1509.6 93.0h0M1515.3 93.0h0M1521.0 93.0h0M1539.4 93.0h0M1574.3 93.0h0M1665.3 93.0h0M1483.8 111.0h0M1489.6 111.0h0M1495.3 111.0h0M1501.0 111.0h0M1506.7 111.0h0M1512.4 111.0h0M1518.2 111.0h0M1523.9 111.0h0M1529.6 111.0h0M1535.3 111.0h0M1555.4 111.0h0M1572.6 111.0h0M1633.8 145.0h0M1625.2 158.5h0M1586.9 150.0h0M1572.6 157.5h0M1558.2 190.0h0M1575.4 200.0h0M1575.4 227.5h0M1609.8 221.5h0M1628.7 224.0h0M1659.6 213.5h0M1590.9 252.5h0M1620.1 258.5h0M1649.8 253.5h0M1657.3 261.5h0M1678.5 255.0h0M1691.1 246.0h0M1608.1 272.5h0M1615.5 288.5h0M1569.7 281.0h0M1564.0 287.5h0M1619.5 326.5h0M1556.5 335.0h0M1555.4 364.0h0M1569.7 372.5h0M1564.0 382.5h0M1664.2 377.5h0M1818.7 377.5h0M1519.7 208.7h0M1495.2 342.1h0M1524.1 303.6h0M1506.0 139.4h0M1495.3 362.9h0M1552.0 191.7h0M1537.2 249.8h0M1489.1 244.3h0M1525.4 166.0h0M1494.8 147.8h0M1561.4 240.7h0M1489.3 139.0h0M1493.3 267.2h0M1495.2 330.9h0M1533.5 264.3h0M1512.2 133.6h0M1492.0 365.8h0M1497.1 371.9h0M1509.2 133.8h0M1498.0 133.3h0M1492.0 282.3h0M1516.2 199.3h0M1489.4 245.1h0M1504.5 323.7h0M1537.5 213.9h0M1537.7 375.5h0M1507.7 376.7h0M1490.4 274.7h0M1504.3 252.7h0M1525.5 123.3h0M1500.4 149.8h0M1493.4 135.9h0M1502.3 202.7h0M1531.9 121.4h0M1510.7 214.7h0M1535.6 323.1h0M1545.7 289.4h0M1523.2 199.5h0M1502.8 338.7h0M1504.4 177.1h0M1490.9 251.8h0M1527.0 112.7h0M1495.6 331.0h0M1488.9 336.1h0M1499.8 157.3h0M1555.1 208.6h0M1563.0 309.5h0M1515.6 316.0h0M1494.1 116.8h0M1523.1 216.9h0M1534.2 317.6h0M1494.3 173.8h0M1512.9 166.5h0M1512.3 160.5h0M1537.6 369.3h0M1539.3 193.2h0M1521.0 179.7h0M1491.8 228.9h0M1488.8 151.2h0M1564.0 316.9h0M1494.2 174.9h0M1504.3 115.8h0M1498.2 180.9h0M1505.5 369.2h0M1492.3 383.6h0M1515.3 180.5h0M1496.3 244.4h0M1505.7 341.4h0M1492.6 124.8h0M1490.5 201.7h0M1491.1 154.6h0M1488.6 316.9h0M1501.4 111.3h0M1526.8 163.2h0M1514.0 344.5h0M1494.7 286.5h0M1548.5 311.6h0M1540.3 365.0h0M1497.2 135.9h0M1505.2 324.0h0M1492.0 336.6h0M1533.3 264.3h0M1489.9 218.5h0M1533.1 319.8h0M1561.6 379.1h0M1501.7 207.6h0M1491.1 143.4h0M1498.7 195.7h0M1490.8 376.3h0M1516.1 264.2h0M1505.0 343.3h0M1501.9 377.9h0M1502.2 205.6h0M1530.0 321.9h0M1565.3 127.8h0M1516.5 329.9h0M1531.0 304.3h0M1567.3 346.1h0M1538.8 144.3h0M1519.2 135.9h0M1497.6 139.1h0M1492.1 273.2h0M1524.8 145.4h0M1544.4 187.0h0M1501.2 348.4h0M1493.4 203.1h0M1558.5 315.6h0M1569.9 201.4h0M1534.3 260.7h0M1496.9 187.0h0M1555.8 226.9h0M1492.3 230.3h0M1533.8 323.2h0M1499.3 145.6h0M1491.3 380.5h0M1507.4 217.0h0M1512.7 302.0h0M1563.0 134.2h0M1509.5 116.8h0M1488.4 368.2h0M1532.5 254.0h0M1494.8 347.8h0M1531.8 196.9h0M1488.9 291.5h0M1559.9 239.8h0M1529.5 337.8h0M1547.9 206.0h0M1511.1 129.8h0M1504.9 291.1h0M1523.9 267.3h0M1561.8 116.9h0M1500.3 332.2h0M1492.1 213.3h0M1541.5 322.3h0M1560.7 164.7h0M1495.2 253.8h0M1522.4 158.5h0M1544.8 329.8h0M1489.2 341.2h0M1493.0 276.9h0M1498.4 263.0h0M1493.0 114.8h0M1507.1 155.5h0M1541.5 259.8h0M1496.3 165.4h0M1532.3 146.3h0M1537.6 180.6h0M1535.1 123.4h0M1565.0 113.2h0M1511.3 150.0h0M1490.9 154.5h0M1516.4 299.1h0M1511.0 357.5h0M1498.2 346.8h0M1563.9 200.2h0M1537.9 282.1h0M1493.0 379.0h0M1532.9 227.0h0M1520.4 168.2h0M1519.9 167.2h0M1559.4 245.1h0M1521.2 279.1h0M1490.3 130.5h0M1547.9 255.5h0M1518.0 249.8h0M1494.8 213.1h0M1503.1 353.5h0M1488.8 186.4h0M1489.1 249.4h0M1525.3 365.8h0M1517.3 110.7h0M1506.9 361.8h0M1531.4 211.5h0M1499.7 190.5h0M1506.5 129.4h0M1497.3 309.1h0M1546.5 269.7h0M1545.6 174.1h0M1544.3 137.4h0M1531.0 375.9h0M1506.4 345.6h0M1511.9 152.3h0M1539.6 316.3h0M1496.2 323.3h0M1543.3 157.8h0M1490.1 220.5h0M1516.7 374.8h0M1507.0 223.0h0M1560.8 182.4h0M1518.6 257.2h0M1510.0 226.9h0M1491.7 271.0h0M1522.4 371.7h0M1491.7 296.0h0M1496.4 328.4h0M1511.0 281.0h0M1504.6 279.7h0M1497.5 376.7h0M1489.0 161.0h0M1509.6 291.6h0M1508.1 310.9h0M1490.5 270.8h0M1509.2 345.5h0M1490.3 232.7h0M1522.5 229.5h0M1495.3 260.0h0M1494.6 262.8h0M1497.9 195.2h0M1530.0 171.9h0M1553.9 200.4h0M1521.2 358.4h0M1494.4 348.8h0M1490.7 227.2h0M1521.2 146.0h0M1497.9 272.3h0M1500.3 134.2h0M1497.3 142.0h0M1504.4 333.9h0M1503.5 149.9h0M1488.6 348.0h0M1497.8 313.7h0M1556.4 340.9h0M1494.6 322.6h0M1489.7 138.1h0M1510.5 141.8h0M1547.0 255.0h0M1493.1 290.9h0M1492.2 119.6h0M1520.3 283.2h0M1518.5 229.0h0M1504.4 341.6h0M1509.0 373.7h0M1539.4 222.4h0M1489.6 309.0h0M1505.4 147.0h0M1492.5 242.8h0M1488.6 146.5h0M1489.0 340.8h0M1522.4 165.8h0M1499.0 276.3h0M1496.4 235.4h0M1521.0 363.8h0M1527.5 244.7h0M1493.4 342.7h0M1494.7 359.1h0M1517.2 376.1h0M1497.3 114.8h0M1498.3 377.4h0M1511.4 237.3h0M1513.9 353.2h0M1488.4 298.7h0M1499.0 373.6h0M1541.0 172.5h0M1492.7 127.9h0M1541.0 270.3h0M1561.5 289.5h0M1543.8 265.9h0M1516.2 165.6h0M1492.0 264.3h0M1537.9 228.6h0M1508.5 173.2h0M1489.4 366.3h0M1516.0 218.1h0M1563.3 301.6h0M1540.7 158.4h0M1505.0 153.4h0M1500.1 126.2h0M1490.7 383.3h0M1521.6 276.3h0M1490.7 208.2h0M1507.2 228.0h0M1496.2 337.6h0M1504.7 351.1h0M1536.7 362.8h0M1490.8 206.0h0M1500.5 290.3h0M1532.1 356.6h0M1509.0 131.2h0M1506.1 188.7h0M1520.7 220.1h0M1538.3 310.9h0M1491.6 268.1h0M1489.3 212.8h0M1511.8 335.0h0M1511.2 223.6h0M1489.2 263.6h0M1514.6 132.8h0M1492.4 330.0h0M1524.4 178.5h0M1536.7 135.2h0M1510.0 347.8h0M1497.0 341.3h0M1494.7 222.8h0M1494.6 300.0h0M1537.1 127.6h0M1554.5 255.2h0M1493.6 124.4h0M1506.2 170.1h0M1489.3 346.3h0M1500.6 349.1h0M1500.4 177.3h0M1496.8 136.3h0M1489.0 276.4h0M1495.2 183.6h0M1537.7 140.1h0M1513.6 195.2h0M1492.2 148.7h0M1497.4 113.5h0M1489.9 340.3h0M1545.5 291.5h0M1500.9 302.4h0M1493.0 349.6h0M1517.5 245.1h0M1499.4 324.3h0M1519.1 286.8h0M1505.3 197.8h0M1529.1 119.7h0M1514.1 189.7h0M1518.5 271.6h0M1511.3 166.0h0M1502.5 128.8h0M1501.8 282.1h0M1489.9 365.3h0M1501.9 181.4h0M1507.5 303.1h0M1548.7 251.3h0M1508.8 298.1h0M1505.6 264.8h0M1513.4 363.6h0M1501.6 162.4h0M1552.1 224.4h0M1518.2 266.9h0M1491.7 272.5h0M1550.5 286.1h0M1549.9 284.8h0M1545.5 364.1h0M1490.4 151.4h0M1524.2 150.5h0M1524.0 229.5h0M1522.5 277.3h0M1498.0 229.3h0M1537.2 375.5h0M1505.3 234.0h0M1491.0 365.1h0M1494.3 192.0h0M1491.0 299.1h0M1511.5 268.7h0M1488.9 363.6h0M1528.5 182.4h0M1522.0 346.4h0M1489.7 220.0h0M1499.9 189.7h0M1508.1 223.1h0M1490.5 382.5h0M1496.0 332.8h0M1490.0 355.7h0M1544.9 201.1h0M1489.0 244.2h0M1557.3 372.6h0M1495.1 334.4h0M1494.4 352.0h0M1558.6 144.4h0M1535.6 316.9h0M1495.6 295.6h0M1516.3 278.8h0M1504.7 284.4h0M1492.5 344.9h0M1566.3 338.5h0M1497.4 338.3h0M1496.2 210.9h0M1507.8 269.4h0M1559.0 373.4h0M1500.1 129.3h0M1497.4 361.5h0M1510.6 113.1h0M1560.7 121.7h0M1489.9 203.0h0M1504.5 159.8h0M1494.1 321.3h0M1509.5 309.4h0M1527.6 263.2h0M1502.0 290.2h0M1533.7 152.4h0M1493.4 174.1h0M1543.0 128.8h0M1497.5 241.5h0M1530.6 304.0h0M1498.4 170.8h0M1499.4 378.2h0M1501.1 119.4h0M1488.7 293.2h0M1541.5 123.6h0M1501.0 316.5h0M1493.6 310.1h0M1526.8 121.7h0M1518.1 324.0h0M1503.6 320.9h0M1488.6 221.9h0M1500.7 204.4h0M1495.1 209.3h0M1494.3 160.3h0M1494.8 311.0h0M1498.3 254.6h0M1499.8 200.6h0M1489.6 137.6h0M1521.0 119.1h0M1528.9 116.7h0M1529.1 182.4h0M1513.7 187.7h0M1528.2 359.5h0M1544.2 172.2h0M1502.4 148.4h0M1492.3 351.7h0M1488.9 122.1h0M1492.2 192.5h0M1513.5 264.7h0M1524.8 289.1h0M1504.1 145.1h0M1504.7 119.4h0M1504.3 328.1h0" transform="scale(0.8734 1)" stroke="#008000" stroke-width="15.8" stroke-linecap="round" fill="none"/>
</g>
<rect x="934.1" y="35.9" width="706.6999999999999" height="514.0" fill="none" stroke="#000" stroke-width="1.9"/>
<path d="M1020.2 549.9v8.6M1130.1 549.9v8.6M1240.0 549.9v8.6M1349.9 549.9v8.6M1459.8 549.9v8.6M1569.7 549.9v8.6M934.1 525.0h-7.0M934.1 417.2h-7.0M934.1 309.5h-7.0M934.1 201.8h-7.0M934.1 94.0h-7.0" stroke="#000" stroke-width="1.8" fill="none"/>
<g font-family="'DejaVu Sans', 'Liberation Sans', sans-serif" font-size="47.3">
<text transform="translate(1020.2 603.3) scale(0.87 1)" text-anchor="middle">−4</text>
<text transform="translate(1130.1 603.3) scale(0.87 1)" text-anchor="middle">−2</text>
<text transform="translate(1240.0 603.3) scale(0.87 1)" text-anchor="middle">0</text>
<text transform="translate(1349.9 603.3) scale(0.87 1)" text-anchor="middle">2</text>
<text transform="translate(1459.8 603.3) scale(0.87 1)" text-anchor="middle">4</text>
<text transform="translate(1569.7 603.3) scale(0.87 1)" text-anchor="middle">6</text>
<text transform="translate(919.9 543.5) scale(0.87 1)" text-anchor="end">0</text>
<text transform="translate(919.9 435.8) scale(0.87 1)" text-anchor="end">1</text>
<text transform="translate(919.9 328.0) scale(0.87 1)" text-anchor="end">2</text>
<text transform="translate(919.9 220.2) scale(0.87 1)" text-anchor="end">3</text>
<text transform="translate(919.9 112.5) scale(0.87 1)" text-anchor="end">4</text>
</g>
<text x="1302.7" y="642.5" font-family="'DejaVu Sans', 'Liberation Sans', sans-serif" font-size="36.4" text-anchor="middle">log<tspan font-size="25.5" dy="9">2</tspan><tspan dy="-9"> Fold Change</tspan></text>
<text transform="translate(868.7 294.4) rotate(-90) scale(1 1.04)" font-family="'DejaVu Sans', 'Liberation Sans', sans-serif" font-size="37.9" text-anchor="middle">-log<tspan font-size="26.5" dy="9">10</tspan><tspan dy="-9">(P-value)</tspan></text>
<g shape-rendering="crispEdges">
<rect x="158.20" y="841.40" width="68.73" height="19.74" fill="#645500"/>
<rect x="226.62" y="841.40" width="68.72" height="19.74" fill="#443900"/>
<rect x="295.05" y="841.40" width="68.73" height="19.74" fill="#584a00"/>
<rect x="363.47" y="841.40" width="68.73" height="19.74" fill="#0000ff"/>
<rect x="158.20" y="860.84" width="68.73" height="19.74" fill="#322a00"/>
<rect x="226.62" y="860.84" width="68.72" height="19.74" fill="#695900"/>
<rect x="295.05" y="860.84" width="68.73" height="19.74" fill="#645500"/>
<rect x="363.47" y="860.84" width="68.73" height="19.74" fill="#0000ff"/>
<rect x="158.20" y="880.28" width="68.73" height="19.74" fill="#000000"/>
<rect x="226.62" y="880.28" width="68.72" height="19.74" fill="#7d6a00"/>
<rect x="295.05" y="880.28" width="68.73" height="19.74" fill="#766400"/>
<rect x="363.47" y="880.28" width="68.73" height="19.74" fill="#0000f2"/>
<rect x="158.20" y="899.72" width="68.73" height="19.74" fill="#7d6a00"/>
<rect x="226.62" y="899.72" width="68.72" height="19.74" fill="#3e3500"/>
<rect x="295.05" y="899.72" width="68.73" height="19.74" fill="#372f00"/>
<rect x="363.47" y="899.72" width="68.73" height="19.74" fill="#0000ff"/>
<rect x="158.20" y="919.15" width="68.73" height="19.74" fill="#695900"/>
<rect x="226.62" y="919.15" width="68.72" height="19.74" fill="#4b4000"/>
<rect x="295.05" y="919.15" width="68.73" height="19.74" fill="#504400"/>
<rect x="363.47" y="919.15" width="68.73" height="19.74" fill="#0000ff"/>
<rect x="158.20" y="938.59" width="68.73" height="19.74" fill="#8a7500"/>
<rect x="226.62" y="938.59" width="68.72" height="19.74" fill="#4b4000"/>
<rect x="295.05" y="938.59" width="68.73" height="19.74" fill="#201c00"/>
<rect x="363.47" y="938.59" width="68.73" height="19.74" fill="#0000ff"/>
<rect x="158.20" y="958.03" width="68.73" height="19.74" fill="#9b8300"/>
<rect x="226.62" y="958.03" width="68.72" height="19.74" fill="#4b4000"/>
<rect x="295.05" y="958.03" width="68.73" height="19.74" fill="#080600"/>
<rect x="363.47" y="958.03" width="68.73" height="19.74" fill="#0000f7"/>
<rect x="158.20" y="977.47" width="68.73" height="19.74" fill="#322a00"/>
<rect x="226.62" y="977.47" width="68.72" height="19.74" fill="#695900"/>
<rect x="295.05" y="977.47" width="68.73" height="19.74" fill="#645500"/>
<rect x="363.47" y="977.47" width="68.73" height="19.74" fill="#0000fa"/>
<rect x="158.20" y="996.91" width="68.73" height="19.74" fill="#080600"/>
<rect x="226.62" y="996.91" width="68.72" height="19.74" fill="#766400"/>
<rect x="295.05" y="996.91" width="68.73" height="19.74" fill="#766400"/>
<rect x="363.47" y="996.91" width="68.73" height="19.74" fill="#0000f7"/>
<rect x="158.20" y="1016.35" width="68.73" height="19.74" fill="#e8c500"/>
<rect x="226.62" y="1016.35" width="68.72" height="19.74" fill="#00008c"/>
<rect x="295.05" y="1016.35" width="68.73" height="19.74" fill="#000080"/>
<rect x="363.47" y="1016.35" width="68.73" height="19.74" fill="#120f00"/>
<rect x="158.20" y="1035.79" width="68.73" height="19.74" fill="#fad400"/>
<rect x="226.62" y="1035.79" width="68.72" height="19.74" fill="#000073"/>
<rect x="295.05" y="1035.79" width="68.73" height="19.74" fill="#000080"/>
<rect x="363.47" y="1035.79" width="68.73" height="19.74" fill="#000014"/>
<rect x="158.20" y="1055.23" width="68.73" height="19.74" fill="#d4b400"/>
<rect x="226.62" y="1055.23" width="68.72" height="19.74" fill="#0000b2"/>
<rect x="295.05" y="1055.23" width="68.73" height="19.74" fill="#000066"/>
<rect x="363.47" y="1055.23" width="68.73" height="19.74" fill="#2d2600"/>
<rect x="158.20" y="1074.66" width="68.73" height="19.74" fill="#eec900"/>
<rect x="226.62" y="1074.66" width="68.72" height="19.74" fill="#00001a"/>
<rect x="295.05" y="1074.66" width="68.73" height="19.74" fill="#000040"/>
<rect x="363.47" y="1074.66" width="68.73" height="19.74" fill="#0000a6"/>
<rect x="158.20" y="1094.10" width="68.73" height="19.74" fill="#e8c500"/>
<rect x="226.62" y="1094.10" width="68.72" height="19.74" fill="#141100"/>
<rect x="295.05" y="1094.10" width="68.73" height="19.74" fill="#000066"/>
<rect x="363.47" y="1094.10" width="68.73" height="19.74" fill="#0000a6"/>
<rect x="158.20" y="1113.54" width="68.73" height="19.74" fill="#e8c500"/>
<rect x="226.62" y="1113.54" width="68.72" height="19.74" fill="#00008c"/>
<rect x="295.05" y="1113.54" width="68.73" height="19.74" fill="#000080"/>
<rect x="363.47" y="1113.54" width="68.73" height="19.74" fill="#0c0b00"/>
<rect x="158.20" y="1132.98" width="68.73" height="19.74" fill="#e6c300"/>
<rect x="226.62" y="1132.98" width="68.72" height="19.74" fill="#000080"/>
<rect x="295.05" y="1132.98" width="68.73" height="19.74" fill="#000099"/>
<rect x="363.47" y="1132.98" width="68.73" height="19.74" fill="#191500"/>
<rect x="158.20" y="1152.42" width="68.73" height="19.74" fill="#9b8300"/>
<rect x="226.62" y="1152.42" width="68.72" height="19.74" fill="#3e3500"/>
<rect x="295.05" y="1152.42" width="68.73" height="19.74" fill="#080600"/>
<rect x="363.47" y="1152.42" width="68.73" height="19.74" fill="#0000ff"/>
<rect x="158.20" y="1171.86" width="68.73" height="19.74" fill="#9b8300"/>
<rect x="226.62" y="1171.86" width="68.72" height="19.74" fill="#322a00"/>
<rect x="295.05" y="1171.86" width="68.73" height="19.74" fill="#0a0800"/>
<rect x="363.47" y="1171.86" width="68.73" height="19.74" fill="#0000ff"/>
<rect x="158.20" y="1191.30" width="68.73" height="19.74" fill="#f2ce00"/>
<rect x="226.62" y="1191.30" width="68.72" height="19.74" fill="#000033"/>
<rect x="295.05" y="1191.30" width="68.73" height="19.74" fill="#0000b2"/>
<rect x="363.47" y="1191.30" width="68.73" height="19.74" fill="#000014"/>
<rect x="158.20" y="1210.74" width="68.73" height="19.74" fill="#262000"/>
<rect x="226.62" y="1210.74" width="68.72" height="19.74" fill="#826e00"/>
<rect x="295.05" y="1210.74" width="68.73" height="19.74" fill="#4b4000"/>
<rect x="363.47" y="1210.74" width="68.73" height="19.74" fill="#0000ff"/>
<rect x="158.20" y="1230.17" width="68.73" height="19.74" fill="#4b4000"/>
<rect x="226.62" y="1230.17" width="68.72" height="19.74" fill="#786600"/>
<rect x="295.05" y="1230.17" width="68.73" height="19.74" fill="#3e3500"/>
<rect x="363.47" y="1230.17" width="68.73" height="19.74" fill="#0000ff"/>
<rect x="158.20" y="1249.61" width="68.73" height="19.74" fill="#786600"/>
<rect x="226.62" y="1249.61" width="68.72" height="19.74" fill="#5f5100"/>
<rect x="295.05" y="1249.61" width="68.73" height="19.74" fill="#262000"/>
<rect x="363.47" y="1249.61" width="68.73" height="19.74" fill="#0000ff"/>
<rect x="158.20" y="1269.05" width="68.73" height="19.74" fill="#645500"/>
<rect x="226.62" y="1269.05" width="68.72" height="19.74" fill="#695900"/>
<rect x="295.05" y="1269.05" width="68.73" height="19.74" fill="#262000"/>
<rect x="363.47" y="1269.05" width="68.73" height="19.74" fill="#0000ff"/>
<rect x="158.20" y="1288.49" width="68.73" height="19.74" fill="#0f0d00"/>
<rect x="226.62" y="1288.49" width="68.72" height="19.74" fill="#766400"/>
<rect x="295.05" y="1288.49" width="68.73" height="19.74" fill="#705f00"/>
<rect x="363.47" y="1288.49" width="68.73" height="19.74" fill="#0000ff"/>
<rect x="158.20" y="1307.93" width="68.73" height="19.74" fill="#262000"/>
<rect x="226.62" y="1307.93" width="68.72" height="19.74" fill="#705f00"/>
<rect x="295.05" y="1307.93" width="68.73" height="19.74" fill="#695900"/>
<rect x="363.47" y="1307.93" width="68.73" height="19.74" fill="#0000ff"/>
<rect x="158.20" y="1327.37" width="68.73" height="19.74" fill="#584a00"/>
<rect x="226.62" y="1327.37" width="68.72" height="19.74" fill="#584a00"/>
<rect x="295.05" y="1327.37" width="68.73" height="19.74" fill="#504400"/>
<rect x="363.47" y="1327.37" width="68.73" height="19.74" fill="#0000ff"/>
<rect x="158.20" y="1346.81" width="68.73" height="19.74" fill="#463b00"/>
<rect x="226.62" y="1346.81" width="68.72" height="19.74" fill="#695900"/>
<rect x="295.05" y="1346.81" width="68.73" height="19.74" fill="#695900"/>
<rect x="363.47" y="1346.81" width="68.73" height="19.74" fill="#0000ff"/>
<rect x="158.20" y="1366.25" width="68.73" height="19.74" fill="#000026"/>
<rect x="226.62" y="1366.25" width="68.72" height="19.74" fill="#826e00"/>
<rect x="295.05" y="1366.25" width="68.73" height="19.74" fill="#826e00"/>
<rect x="363.47" y="1366.25" width="68.73" height="19.74" fill="#0000eb"/>
<rect x="158.20" y="1385.68" width="68.73" height="19.74" fill="#aa9000"/>
<rect x="226.62" y="1385.68" width="68.72" height="19.74" fill="#322a00"/>
<rect x="295.05" y="1385.68" width="68.73" height="19.74" fill="#050400"/>
<rect x="363.47" y="1385.68" width="68.73" height="19.74" fill="#0000f2"/>
<rect x="158.20" y="1405.12" width="68.73" height="19.74" fill="#705f00"/>
<rect x="226.62" y="1405.12" width="68.72" height="19.74" fill="#443900"/>
<rect x="295.05" y="1405.12" width="68.73" height="19.74" fill="#3e3500"/>
<rect x="363.47" y="1405.12" width="68.73" height="19.74" fill="#0000ff"/>
<rect x="158.20" y="1424.56" width="68.73" height="19.74" fill="#fad400"/>
<rect x="226.62" y="1424.56" width="68.72" height="19.74" fill="#000059"/>
<rect x="295.05" y="1424.56" width="68.73" height="19.74" fill="#00008c"/>
<rect x="363.47" y="1424.56" width="68.73" height="19.74" fill="#000033"/>
</g>
<g font-family="'Liberation Sans', Arial, Helvetica, sans-serif" font-size="23.4" style="font-kerning:none">
<clipPath id="clipC"><rect x="430" y="830" width="89" height="630"/></clipPath><g clip-path="url(#clipC)">
<text transform="translate(443.1 860.7) scale(1.05 1)">WAT</text>
<text transform="translate(443.1 880.2) scale(1.05 1)">LCC</text>
<text transform="translate(443.1 899.6) scale(1.05 1)">CCR</text>
<text transform="translate(443.1 919.0) scale(1.05 1)">LCC</text>
<text transform="translate(443.1 938.5) scale(1.05 1)">WAT</text>
<text transform="translate(443.1 957.9) scale(1.05 1)">EXPA</text>
<text transform="translate(443.1 977.4) scale(1.05 1)">AGP</text>
<text transform="translate(443.1 996.8) scale(1.05 1)">COBRA</text>
<text transform="translate(443.1 1016.2) scale(1.05 1)">COBRA</text>
<text transform="translate(443.1 1035.7) scale(1.05 1)">PDE</text>
<text transform="translate(443.1 1055.1) scale(1.05 1)">GHD</text>
<text transform="translate(443.1 1074.5) scale(1.05 1)">FUT</text>
<text transform="translate(443.1 1094.0) scale(1.05 1)">GHD</text>
<text transform="translate(443.1 1113.4) scale(1.05 1)">CCR</text>
<text transform="translate(443.1 1132.9) scale(1.05 1)">XTH</text>
<text transform="translate(443.1 1152.3) scale(1.05 1)">BXY</text>
<text transform="translate(443.1 1171.7) scale(1.05 1)">GHD</text>
<text transform="translate(443.1 1191.2) scale(1.05 1)">LCC</text>
<text transform="translate(443.1 1210.6) scale(1.05 1)">PDE</text>
<text transform="translate(443.1 1230.1) scale(1.05 1)">EXPA</text>
<text transform="translate(443.1 1249.5) scale(1.05 1)">GHD</text>
<text transform="translate(443.1 1268.9) scale(1.05 1)">BGL</text>
<text transform="translate(443.1 1288.4) scale(1.05 1)">EXPA</text>
<text transform="translate(443.1 1307.8) scale(1.05 1)">FUT</text>
<text transform="translate(443.1 1327.2) scale(1.05 1)">LCC</text>
<text transform="translate(443.1 1346.7) scale(1.05 1)">GHD</text>
<text transform="translate(443.1 1366.1) scale(1.05 1)">GHD</text>
<text transform="translate(443.1 1385.6) scale(1.05 1)">XTH</text>
<text transform="translate(443.1 1405.0) scale(1.05 1)">EXPA</text>
<text transform="translate(443.1 1424.4) scale(1.05 1)">LCC</text>
<text transform="translate(443.1 1443.9) scale(1.05 1)">EXPA</text>
</g></g>
<text transform="translate(201.4 1459.5) rotate(-90) scale(0.9 1)" text-anchor="end" font-family="'Liberation Sans', Arial, Helvetica, sans-serif" font-size="38.3" style="font-kerning:none">200DAI_C</text>
<text transform="translate(269.8 1459.5) rotate(-90) scale(0.9 1)" text-anchor="end" font-family="'Liberation Sans', Arial, Helvetica, sans-serif" font-size="38.3" style="font-kerning:none">5DAI5_S</text>
<text transform="translate(338.3 1459.5) rotate(-90) scale(0.9 1)" text-anchor="end" font-family="'Liberation Sans', Arial, Helvetica, sans-serif" font-size="38.3" style="font-kerning:none">5DAI_C</text>
<text transform="translate(406.7 1459.5) rotate(-90) scale(0.9 1)" text-anchor="end" font-family="'Liberation Sans', Arial, Helvetica, sans-serif" font-size="38.3" style="font-kerning:none">200DAI_S</text>
<path d="M243.7 750.0L398.6 750.0M398.6 750.0L398.6 838.0M243.7 750.0L243.7 810.4M193.0 810.4L296.0 810.4M193.0 810.4L193.0 838.0M296.0 810.4L296.0 834.6M261.5 834.6L329.9 834.6M261.5 834.6L261.5 838.0M329.9 834.6L329.9 838.0" stroke="#000" stroke-width="2.0" fill="none" stroke-linecap="square" />
<path d="M1.6 875.9L1.6 1328.0M1.6 875.9L76.8 875.9M76.8 861.0L76.8 890.6M76.8 861.0L128.5 861.0M128.5 851.4L128.5 870.7M128.5 851.4L153.2 851.4M128.5 870.7L153.2 870.7M76.8 890.6L153.2 890.6M1.6 1328.0L106.3 1328.0M106.3 1235.8L106.3 1420.0M106.3 1235.8L131.4 1235.8M131.4 1104.8L131.4 1367.0M131.4 1104.8L142.3 1104.8M142.3 1012.2L142.3 1198.0M142.3 1198.0L148.3 1198.0M148.3 1114.1L148.3 1280.0M131.4 1367.0L143.8 1367.0M143.8 1357.2L143.8 1376.7M143.8 1357.2L153.2 1357.2M143.8 1376.7L153.2 1376.7M106.3 1420.0L126.3 1420.0M126.3 1405.3L126.3 1434.7M126.3 1434.7L153.2 1434.7M126.3 1405.3L143.8 1405.3M143.8 1395.8L143.8 1415.0M143.8 1395.8L153.2 1395.8M143.8 1415.0L153.2 1415.0M149.5 968.7L149.5 1006.0M149.5 1006.0L153.2 1006.0M149.5 987.3L153.2 987.3M143.6 974.1L149.5 974.1M143.6 974.1L143.6 1050.8M143.6 1050.8L149.8 1050.8M149.8 1026.2L149.8 1065.1M149.8 1065.1L153.2 1065.1M149.8 1026.2L153.2 1026.2M152.1 1084.5L152.1 1142.9M152.1 1084.5L153.2 1084.5M152.1 1104.0L153.2 1104.0M152.1 1123.5L153.2 1123.5M152.1 1142.9L153.2 1142.9M148.5 1114.1L152.1 1114.1M152.4 909.6L153.2 909.6M151.5 929.8L153.2 929.8M150.6 948.5L153.2 948.5M149.9 968.0L153.2 968.0" stroke="#000" stroke-width="1.9" fill="none" stroke-linecap="square" />
<path d="M152.4 909.6L149.8 968.7M142.8 1012.2L142.8 1050.8M151.0 1035.0L151.0 1062.0M153.0 1163.0L150.0 1205.0M150.8 1290.0L151.0 1338.0" stroke="#000" stroke-width="2.8" fill="none" stroke-linecap="square" />
<path d="M150.3 1215.0L150.3 1282.0" stroke="#000" stroke-width="5.2" fill="none" stroke-linecap="square" />
<defs><linearGradient id="cb" x1="0" x2="1" y1="0" y2="0"><stop offset="0" stop-color="#e6c200"/><stop offset="0.49" stop-color="#000"/><stop offset="0.51" stop-color="#000"/><stop offset="1" stop-color="#0000f5"/></linearGradient></defs>
<rect x="103.4" y="1697" width="364.2" height="27.4" fill="url(#cb)"/>
<path d="M180.4 1724v2.2M281.3 1724v2.2M380.7 1724v2.2" stroke="#444" stroke-width="0.8" fill="none"/>
<text x="88.6" y="1758.5" font-family="'DejaVu Sans', 'Liberation Sans', sans-serif" font-size="36">down</text>
<text x="430.6" y="1751.6" font-family="'DejaVu Sans', 'Liberation Sans', sans-serif" font-size="36">up</text>
<g shape-rendering="crispEdges">
<rect x="686.90" y="849.30" width="71.40" height="10.51" fill="#0000d9"/>
<rect x="758.00" y="849.30" width="70.50" height="10.51" fill="#eec900"/>
<rect x="828.20" y="849.30" width="70.50" height="10.51" fill="#000026"/>
<rect x="898.40" y="849.30" width="68.40" height="10.51" fill="#000026"/>
<rect x="686.90" y="859.51" width="71.40" height="10.51" fill="#0000e6"/>
<rect x="758.00" y="859.51" width="70.50" height="10.51" fill="#d4b400"/>
<rect x="828.20" y="859.51" width="70.50" height="10.51" fill="#080600"/>
<rect x="898.40" y="859.51" width="68.40" height="10.51" fill="#000014"/>
<rect x="686.90" y="869.72" width="71.40" height="10.51" fill="#0000a6"/>
<rect x="758.00" y="869.72" width="70.50" height="10.51" fill="#fad400"/>
<rect x="828.20" y="869.72" width="70.50" height="10.51" fill="#000033"/>
<rect x="898.40" y="869.72" width="68.40" height="10.51" fill="#000026"/>
<rect x="686.90" y="879.92" width="71.40" height="10.51" fill="#00008c"/>
<rect x="758.00" y="879.92" width="70.50" height="10.51" fill="#fad400"/>
<rect x="828.20" y="879.92" width="70.50" height="10.51" fill="#000033"/>
<rect x="898.40" y="879.92" width="68.40" height="10.51" fill="#000040"/>
<rect x="686.90" y="890.13" width="71.40" height="10.51" fill="#0000cc"/>
<rect x="758.00" y="890.13" width="70.50" height="10.51" fill="#e1bf00"/>
<rect x="828.20" y="890.13" width="70.50" height="10.51" fill="#0c0b00"/>
<rect x="898.40" y="890.13" width="68.40" height="10.51" fill="#00001f"/>
<rect x="686.90" y="900.34" width="71.40" height="10.51" fill="#0000ff"/>
<rect x="758.00" y="900.34" width="70.50" height="10.51" fill="#705f00"/>
<rect x="828.20" y="900.34" width="70.50" height="10.51" fill="#120f00"/>
<rect x="898.40" y="900.34" width="68.40" height="10.51" fill="#695900"/>
<rect x="686.90" y="910.55" width="71.40" height="10.51" fill="#0000f7"/>
<rect x="758.00" y="910.55" width="70.50" height="10.51" fill="#a28a00"/>
<rect x="828.20" y="910.55" width="70.50" height="10.51" fill="#191500"/>
<rect x="898.40" y="910.55" width="68.40" height="10.51" fill="#191500"/>
<rect x="686.90" y="920.75" width="71.40" height="10.51" fill="#0000e6"/>
<rect x="758.00" y="920.75" width="70.50" height="10.51" fill="#967f00"/>
<rect x="828.20" y="920.75" width="70.50" height="10.51" fill="#000033"/>
<rect x="898.40" y="920.75" width="68.40" height="10.51" fill="#7d6a00"/>
<rect x="686.90" y="930.96" width="71.40" height="10.51" fill="#0000ff"/>
<rect x="758.00" y="930.96" width="70.50" height="10.51" fill="#524600"/>
<rect x="828.20" y="930.96" width="70.50" height="10.51" fill="#584a00"/>
<rect x="898.40" y="930.96" width="68.40" height="10.51" fill="#4b4000"/>
<rect x="686.90" y="941.17" width="71.40" height="10.51" fill="#0000ff"/>
<rect x="758.00" y="941.17" width="70.50" height="10.51" fill="#2d2600"/>
<rect x="828.20" y="941.17" width="70.50" height="10.51" fill="#584a00"/>
<rect x="898.40" y="941.17" width="68.40" height="10.51" fill="#7d6a00"/>
<rect x="686.90" y="951.38" width="71.40" height="10.51" fill="#0000ff"/>
<rect x="758.00" y="951.38" width="70.50" height="10.51" fill="#120f00"/>
<rect x="828.20" y="951.38" width="70.50" height="10.51" fill="#826e00"/>
<rect x="898.40" y="951.38" width="68.40" height="10.51" fill="#5c4e00"/>
<rect x="686.90" y="961.59" width="71.40" height="10.51" fill="#0000ff"/>
<rect x="758.00" y="961.59" width="70.50" height="10.51" fill="#2a2400"/>
<rect x="828.20" y="961.59" width="70.50" height="10.51" fill="#826e00"/>
<rect x="898.40" y="961.59" width="68.40" height="10.51" fill="#322a00"/>
<rect x="686.90" y="971.79" width="71.40" height="10.51" fill="#0000ff"/>
<rect x="758.00" y="971.79" width="70.50" height="10.51" fill="#0f0d00"/>
<rect x="828.20" y="971.79" width="70.50" height="10.51" fill="#705f00"/>
<rect x="898.40" y="971.79" width="68.40" height="10.51" fill="#705f00"/>
<rect x="686.90" y="982.00" width="71.40" height="10.51" fill="#0000ff"/>
<rect x="758.00" y="982.00" width="70.50" height="10.51" fill="#262000"/>
<rect x="828.20" y="982.00" width="70.50" height="10.51" fill="#645500"/>
<rect x="898.40" y="982.00" width="68.40" height="10.51" fill="#705f00"/>
<rect x="686.90" y="992.21" width="71.40" height="10.51" fill="#0000ff"/>
<rect x="758.00" y="992.21" width="70.50" height="10.51" fill="#2a2400"/>
<rect x="828.20" y="992.21" width="70.50" height="10.51" fill="#524600"/>
<rect x="898.40" y="992.21" width="68.40" height="10.51" fill="#7d6a00"/>
<rect x="686.90" y="1002.42" width="71.40" height="10.51" fill="#0000ff"/>
<rect x="758.00" y="1002.42" width="70.50" height="10.51" fill="#372f00"/>
<rect x="828.20" y="1002.42" width="70.50" height="10.51" fill="#705f00"/>
<rect x="898.40" y="1002.42" width="68.40" height="10.51" fill="#524600"/>
<rect x="686.90" y="1012.62" width="71.40" height="10.51" fill="#0000ff"/>
<rect x="758.00" y="1012.62" width="70.50" height="10.51" fill="#524600"/>
<rect x="828.20" y="1012.62" width="70.50" height="10.51" fill="#5c4e00"/>
<rect x="898.40" y="1012.62" width="68.40" height="10.51" fill="#524600"/>
<rect x="686.90" y="1022.83" width="71.40" height="10.51" fill="#0000ff"/>
<rect x="758.00" y="1022.83" width="70.50" height="10.51" fill="#050400"/>
<rect x="828.20" y="1022.83" width="70.50" height="10.51" fill="#705f00"/>
<rect x="898.40" y="1022.83" width="68.40" height="10.51" fill="#786600"/>
<rect x="686.90" y="1033.04" width="71.40" height="10.51" fill="#0000ff"/>
<rect x="758.00" y="1033.04" width="70.50" height="10.51" fill="#8a7500"/>
<rect x="828.20" y="1033.04" width="70.50" height="10.51" fill="#2a2400"/>
<rect x="898.40" y="1033.04" width="68.40" height="10.51" fill="#3e3500"/>
<rect x="686.90" y="1043.25" width="71.40" height="10.51" fill="#0000ff"/>
<rect x="758.00" y="1043.25" width="70.50" height="10.51" fill="#8a7500"/>
<rect x="828.20" y="1043.25" width="70.50" height="10.51" fill="#463b00"/>
<rect x="898.40" y="1043.25" width="68.40" height="10.51" fill="#120f00"/>
<rect x="686.90" y="1053.46" width="71.40" height="10.51" fill="#0000cc"/>
<rect x="758.00" y="1053.46" width="70.50" height="10.51" fill="#dcbb00"/>
<rect x="828.20" y="1053.46" width="70.50" height="10.51" fill="#000014"/>
<rect x="898.40" y="1053.46" width="68.40" height="10.51" fill="#00001f"/>
<rect x="686.90" y="1063.66" width="71.40" height="10.51" fill="#00001a"/>
<rect x="758.00" y="1063.66" width="70.50" height="10.51" fill="#e6c300"/>
<rect x="828.20" y="1063.66" width="70.50" height="10.51" fill="#00006b"/>
<rect x="898.40" y="1063.66" width="68.40" height="10.51" fill="#000080"/>
<rect x="686.90" y="1073.87" width="71.40" height="10.51" fill="#0000b8"/>
<rect x="758.00" y="1073.87" width="70.50" height="10.51" fill="#dab800"/>
<rect x="828.20" y="1073.87" width="70.50" height="10.51" fill="#0f0d00"/>
<rect x="898.40" y="1073.87" width="68.40" height="10.51" fill="#000026"/>
<rect x="686.90" y="1084.08" width="71.40" height="10.51" fill="#000085"/>
<rect x="758.00" y="1084.08" width="70.50" height="10.51" fill="#fad400"/>
<rect x="828.20" y="1084.08" width="70.50" height="10.51" fill="#000040"/>
<rect x="898.40" y="1084.08" width="68.40" height="10.51" fill="#000033"/>
<rect x="686.90" y="1094.29" width="71.40" height="10.51" fill="#00001a"/>
<rect x="758.00" y="1094.29" width="70.50" height="10.51" fill="#f5d000"/>
<rect x="828.20" y="1094.29" width="70.50" height="10.51" fill="#000073"/>
<rect x="898.40" y="1094.29" width="68.40" height="10.51" fill="#000073"/>
<rect x="686.90" y="1104.50" width="71.40" height="10.51" fill="#191500"/>
<rect x="758.00" y="1104.50" width="70.50" height="10.51" fill="#e6c300"/>
<rect x="828.20" y="1104.50" width="70.50" height="10.51" fill="#000099"/>
<rect x="898.40" y="1104.50" width="68.40" height="10.51" fill="#000080"/>
<rect x="686.90" y="1114.70" width="71.40" height="10.51" fill="#0000ff"/>
<rect x="758.00" y="1114.70" width="70.50" height="10.51" fill="#a28a00"/>
<rect x="828.20" y="1114.70" width="70.50" height="10.51" fill="#2d2600"/>
<rect x="898.40" y="1114.70" width="68.40" height="10.51" fill="#0c0b00"/>
<rect x="686.90" y="1124.91" width="71.40" height="10.51" fill="#0000ff"/>
<rect x="758.00" y="1124.91" width="70.50" height="10.51" fill="#826e00"/>
<rect x="828.20" y="1124.91" width="70.50" height="10.51" fill="#4b4000"/>
<rect x="898.40" y="1124.91" width="68.40" height="10.51" fill="#191500"/>
<rect x="686.90" y="1135.12" width="71.40" height="10.51" fill="#0000ff"/>
<rect x="758.00" y="1135.12" width="70.50" height="10.51" fill="#6c5b00"/>
<rect x="828.20" y="1135.12" width="70.50" height="10.51" fill="#4b4000"/>
<rect x="898.40" y="1135.12" width="68.40" height="10.51" fill="#322a00"/>
<rect x="686.90" y="1145.33" width="71.40" height="10.51" fill="#0000ff"/>
<rect x="758.00" y="1145.33" width="70.50" height="10.51" fill="#9b8300"/>
<rect x="828.20" y="1145.33" width="70.50" height="10.51" fill="#191500"/>
<rect x="898.40" y="1145.33" width="68.40" height="10.51" fill="#2d2600"/>
<rect x="686.90" y="1155.53" width="71.40" height="10.51" fill="#0000d9"/>
<rect x="758.00" y="1155.53" width="70.50" height="10.51" fill="#d4b400"/>
<rect x="828.20" y="1155.53" width="70.50" height="10.51" fill="#00001f"/>
<rect x="898.40" y="1155.53" width="68.40" height="10.51" fill="#080600"/>
<rect x="686.90" y="1165.74" width="71.40" height="10.51" fill="#0000d1"/>
<rect x="758.00" y="1165.74" width="70.50" height="10.51" fill="#a28a00"/>
<rect x="828.20" y="1165.74" width="70.50" height="10.51" fill="#00004c"/>
<rect x="898.40" y="1165.74" width="68.40" height="10.51" fill="#705f00"/>
<rect x="686.90" y="1175.95" width="71.40" height="10.51" fill="#000033"/>
<rect x="758.00" y="1175.95" width="70.50" height="10.51" fill="#fad400"/>
<rect x="828.20" y="1175.95" width="70.50" height="10.51" fill="#000080"/>
<rect x="898.40" y="1175.95" width="68.40" height="10.51" fill="#00006b"/>
<rect x="686.90" y="1186.16" width="71.40" height="10.51" fill="#0000ff"/>
<rect x="758.00" y="1186.16" width="70.50" height="10.51" fill="#050400"/>
<rect x="828.20" y="1186.16" width="70.50" height="10.51" fill="#695900"/>
<rect x="898.40" y="1186.16" width="68.40" height="10.51" fill="#7d6a00"/>
<rect x="686.90" y="1196.37" width="71.40" height="10.51" fill="#0000ff"/>
<rect x="758.00" y="1196.37" width="70.50" height="10.51" fill="#0c0b00"/>
<rect x="828.20" y="1196.37" width="70.50" height="10.51" fill="#695900"/>
<rect x="898.40" y="1196.37" width="68.40" height="10.51" fill="#786600"/>
<rect x="686.90" y="1206.57" width="71.40" height="10.51" fill="#0000ff"/>
<rect x="758.00" y="1206.57" width="70.50" height="10.51" fill="#000000"/>
<rect x="828.20" y="1206.57" width="70.50" height="10.51" fill="#705f00"/>
<rect x="898.40" y="1206.57" width="68.40" height="10.51" fill="#7d6a00"/>
<rect x="686.90" y="1216.78" width="71.40" height="10.51" fill="#0000ff"/>
<rect x="758.00" y="1216.78" width="70.50" height="10.51" fill="#000008"/>
<rect x="828.20" y="1216.78" width="70.50" height="10.51" fill="#7d6a00"/>
<rect x="898.40" y="1216.78" width="68.40" height="10.51" fill="#705f00"/>
<rect x="686.90" y="1226.99" width="71.40" height="10.51" fill="#0000ff"/>
<rect x="758.00" y="1226.99" width="70.50" height="10.51" fill="#0f0d00"/>
<rect x="828.20" y="1226.99" width="70.50" height="10.51" fill="#705f00"/>
<rect x="898.40" y="1226.99" width="68.40" height="10.51" fill="#695900"/>
<rect x="686.90" y="1237.20" width="71.40" height="10.51" fill="#0000ff"/>
<rect x="758.00" y="1237.20" width="70.50" height="10.51" fill="#0f0d00"/>
<rect x="828.20" y="1237.20" width="70.50" height="10.51" fill="#524600"/>
<rect x="898.40" y="1237.20" width="68.40" height="10.51" fill="#8a7500"/>
<rect x="686.90" y="1247.40" width="71.40" height="10.51" fill="#0000ff"/>
<rect x="758.00" y="1247.40" width="70.50" height="10.51" fill="#4b4000"/>
<rect x="828.20" y="1247.40" width="70.50" height="10.51" fill="#705f00"/>
<rect x="898.40" y="1247.40" width="68.40" height="10.51" fill="#322a00"/>
<rect x="686.90" y="1257.61" width="71.40" height="10.51" fill="#0000f2"/>
<rect x="758.00" y="1257.61" width="70.50" height="10.51" fill="#967f00"/>
<rect x="828.20" y="1257.61" width="70.50" height="10.51" fill="#584a00"/>
<rect x="898.40" y="1257.61" width="68.40" height="10.51" fill="#00000d"/>
<rect x="686.90" y="1267.82" width="71.40" height="10.51" fill="#0000ff"/>
<rect x="758.00" y="1267.82" width="70.50" height="10.51" fill="#0c0b00"/>
<rect x="828.20" y="1267.82" width="70.50" height="10.51" fill="#967f00"/>
<rect x="898.40" y="1267.82" width="68.40" height="10.51" fill="#3e3500"/>
<rect x="686.90" y="1278.03" width="71.40" height="10.51" fill="#7d6a00"/>
<rect x="758.00" y="1278.03" width="70.50" height="10.51" fill="#7d6a00"/>
<rect x="828.20" y="1278.03" width="70.50" height="10.51" fill="#000014"/>
<rect x="898.40" y="1278.03" width="68.40" height="10.51" fill="#0000ff"/>
<rect x="686.90" y="1288.24" width="71.40" height="10.51" fill="#0000ff"/>
<rect x="758.00" y="1288.24" width="70.50" height="10.51" fill="#8a7500"/>
<rect x="828.20" y="1288.24" width="70.50" height="10.51" fill="#463b00"/>
<rect x="898.40" y="1288.24" width="68.40" height="10.51" fill="#262000"/>
<rect x="686.90" y="1298.44" width="71.40" height="10.51" fill="#0000ff"/>
<rect x="758.00" y="1298.44" width="70.50" height="10.51" fill="#262000"/>
<rect x="828.20" y="1298.44" width="70.50" height="10.51" fill="#695900"/>
<rect x="898.40" y="1298.44" width="68.40" height="10.51" fill="#705f00"/>
<rect x="686.90" y="1308.65" width="71.40" height="10.51" fill="#0000ff"/>
<rect x="758.00" y="1308.65" width="70.50" height="10.51" fill="#4b4000"/>
<rect x="828.20" y="1308.65" width="70.50" height="10.51" fill="#705f00"/>
<rect x="898.40" y="1308.65" width="68.40" height="10.51" fill="#4b4000"/>
<rect x="686.90" y="1318.86" width="71.40" height="10.51" fill="#0000ff"/>
<rect x="758.00" y="1318.86" width="70.50" height="10.51" fill="#4b4000"/>
<rect x="828.20" y="1318.86" width="70.50" height="10.51" fill="#705f00"/>
<rect x="898.40" y="1318.86" width="68.40" height="10.51" fill="#4b4000"/>
<rect x="686.90" y="1329.07" width="71.40" height="10.51" fill="#0000b2"/>
<rect x="758.00" y="1329.07" width="70.50" height="10.51" fill="#eec900"/>
<rect x="828.20" y="1329.07" width="70.50" height="10.51" fill="#00001f"/>
<rect x="898.40" y="1329.07" width="68.40" height="10.51" fill="#00001a"/>
<rect x="686.90" y="1339.27" width="71.40" height="10.51" fill="#0000e6"/>
<rect x="758.00" y="1339.27" width="70.50" height="10.51" fill="#a28a00"/>
<rect x="828.20" y="1339.27" width="70.50" height="10.51" fill="#584a00"/>
<rect x="898.40" y="1339.27" width="68.40" height="10.51" fill="#00001a"/>
<rect x="686.90" y="1349.48" width="71.40" height="10.51" fill="#000066"/>
<rect x="758.00" y="1349.48" width="70.50" height="10.51" fill="#eec900"/>
<rect x="828.20" y="1349.48" width="70.50" height="10.51" fill="#191500"/>
<rect x="898.40" y="1349.48" width="68.40" height="10.51" fill="#000099"/>
<rect x="686.90" y="1359.69" width="71.40" height="10.51" fill="#0000f2"/>
<rect x="758.00" y="1359.69" width="70.50" height="10.51" fill="#bc9f00"/>
<rect x="828.20" y="1359.69" width="70.50" height="10.51" fill="#1e1900"/>
<rect x="898.40" y="1359.69" width="68.40" height="10.51" fill="#0c0b00"/>
<rect x="686.90" y="1369.90" width="71.40" height="10.51" fill="#0000f2"/>
<rect x="758.00" y="1369.90" width="70.50" height="10.51" fill="#af9400"/>
<rect x="828.20" y="1369.90" width="70.50" height="10.51" fill="#0f0d00"/>
<rect x="898.40" y="1369.90" width="68.40" height="10.51" fill="#372f00"/>
<rect x="686.90" y="1380.11" width="71.40" height="10.51" fill="#0000f2"/>
<rect x="758.00" y="1380.11" width="70.50" height="10.51" fill="#141100"/>
<rect x="828.20" y="1380.11" width="70.50" height="10.51" fill="#9b8300"/>
<rect x="898.40" y="1380.11" width="68.40" height="10.51" fill="#584a00"/>
<rect x="686.90" y="1390.31" width="71.40" height="10.51" fill="#0000f7"/>
<rect x="758.00" y="1390.31" width="70.50" height="10.51" fill="#080600"/>
<rect x="828.20" y="1390.31" width="70.50" height="10.51" fill="#695900"/>
<rect x="898.40" y="1390.31" width="68.40" height="10.51" fill="#8a7500"/>
<rect x="686.90" y="1400.52" width="71.40" height="10.51" fill="#0000f7"/>
<rect x="758.00" y="1400.52" width="70.50" height="10.51" fill="#000014"/>
<rect x="828.20" y="1400.52" width="70.50" height="10.51" fill="#7d6a00"/>
<rect x="898.40" y="1400.52" width="68.40" height="10.51" fill="#8a7500"/>
<rect x="686.90" y="1410.73" width="71.40" height="10.51" fill="#0000ff"/>
<rect x="758.00" y="1410.73" width="70.50" height="10.51" fill="#7d6a00"/>
<rect x="828.20" y="1410.73" width="70.50" height="10.51" fill="#584a00"/>
<rect x="898.40" y="1410.73" width="68.40" height="10.51" fill="#191500"/>
<rect x="686.90" y="1420.94" width="71.40" height="10.51" fill="#0000ff"/>
<rect x="758.00" y="1420.94" width="70.50" height="10.51" fill="#705f00"/>
<rect x="828.20" y="1420.94" width="70.50" height="10.51" fill="#372f00"/>
<rect x="898.40" y="1420.94" width="68.40" height="10.51" fill="#584a00"/>
<rect x="686.90" y="1431.15" width="71.40" height="10.51" fill="#0000ff"/>
<rect x="758.00" y="1431.15" width="70.50" height="10.51" fill="#191500"/>
<rect x="828.20" y="1431.15" width="70.50" height="10.51" fill="#705f00"/>
<rect x="898.40" y="1431.15" width="68.40" height="10.51" fill="#705f00"/>
<rect x="686.90" y="1441.35" width="71.40" height="10.51" fill="#0000ff"/>
<rect x="758.00" y="1441.35" width="70.50" height="10.51" fill="#a28a00"/>
<rect x="828.20" y="1441.35" width="70.50" height="10.51" fill="#322a00"/>
<rect x="898.40" y="1441.35" width="68.40" height="10.51" fill="#2d2600"/>
<rect x="686.90" y="1451.56" width="71.40" height="10.51" fill="#584a00"/>
<rect x="758.00" y="1451.56" width="70.50" height="10.51" fill="#cdae00"/>
<rect x="828.20" y="1451.56" width="70.50" height="10.51" fill="#0000b2"/>
<rect x="898.40" y="1451.56" width="68.40" height="10.51" fill="#00008c"/>
<rect x="686.90" y="1461.77" width="71.40" height="10.51" fill="#0000ff"/>
<rect x="758.00" y="1461.77" width="70.50" height="10.51" fill="#0a0800"/>
<rect x="828.20" y="1461.77" width="70.50" height="10.51" fill="#705f00"/>
<rect x="898.40" y="1461.77" width="68.40" height="10.51" fill="#705f00"/>
<rect x="686.90" y="1471.98" width="71.40" height="10.51" fill="#0000ff"/>
<rect x="758.00" y="1471.98" width="70.50" height="10.51" fill="#0a0800"/>
<rect x="828.20" y="1471.98" width="70.50" height="10.51" fill="#705f00"/>
<rect x="898.40" y="1471.98" width="68.40" height="10.51" fill="#705f00"/>
<rect x="686.90" y="1482.18" width="71.40" height="10.51" fill="#0000ff"/>
<rect x="758.00" y="1482.18" width="70.50" height="10.51" fill="#695900"/>
<rect x="828.20" y="1482.18" width="70.50" height="10.51" fill="#524600"/>
<rect x="898.40" y="1482.18" width="68.40" height="10.51" fill="#4b4000"/>
<rect x="686.90" y="1492.39" width="71.40" height="10.51" fill="#0000ff"/>
<rect x="758.00" y="1492.39" width="70.50" height="10.51" fill="#0f0d00"/>
<rect x="828.20" y="1492.39" width="70.50" height="10.51" fill="#705f00"/>
<rect x="898.40" y="1492.39" width="68.40" height="10.51" fill="#7d6a00"/>
</g>
<g font-family="'Liberation Sans', Arial, Helvetica, sans-serif" font-size="12.2" fill="#333" style="font-kerning:none">
<text x="972.3" y="859.5" fill="#2a2a2a">GDSL</text>
<text x="972.3" y="869.7" fill="#2a2a2a">PP</text>
<text x="972.3" y="879.9" fill="#2a2a2a">GDSL</text>
<text x="972.3" y="890.1" fill="#2a2a2a">ABC</text>
<text x="972.3" y="900.3" fill="#2a2a2a">PR</text>
<text x="972.3" y="910.5" fill="#2a2a2a">WR</text>
<text x="972.3" y="920.8" fill="#2a2a2a">GAD</text>
<text x="972.3" y="931.0" fill="#2a2a2a">GDSL</text>
<text x="972.3" y="941.2" fill="#2a2a2a">F-box</text>
<text x="972.3" y="951.4" fill="#2a2a2a">SAUR</text>
<text x="972.3" y="961.6" fill="#2a2a2a">RING</text>
<text x="972.3" y="971.8" fill="#2a2a2a">Aux</text>
<text x="972.3" y="982.0" fill="#2a2a2a">FQR</text>
<text x="972.3" y="992.2" fill="#2a2a2a">RING</text>
<text x="972.3" y="1002.4" fill="#2a2a2a">CALM</text>
<text x="972.3" y="1012.6" fill="#2a2a2a">PL</text>
<text x="972.3" y="1022.8" fill="#2a2a2a">RING</text>
<text x="972.3" y="1033.0" fill="#2a2a2a">ABC</text>
<text x="972.3" y="1043.2" fill="#2a2a2a">YST</text>
<text x="972.3" y="1053.5" fill="#2a2a2a">A20/AN1</text>
<text x="972.3" y="1063.7" fill="#2a2a2a">GDSL</text>
<text x="972.3" y="1073.9" fill="#2a2a2a">LOX</text>
<text x="972.3" y="1084.1" fill="#2a2a2a">RING</text>
<text x="972.3" y="1094.3" fill="#2a2a2a">HERK</text>
<text x="972.3" y="1104.5" fill="#2a2a2a">RING</text>
<text x="972.3" y="1114.7" fill="#2a2a2a">LRR</text>
<text x="972.3" y="1124.9" fill="#2a2a2a">DR</text>
<text x="972.3" y="1135.1" fill="#2a2a2a">AP</text>
<text x="972.3" y="1145.3" fill="#2a2a2a">PL</text>
<text x="972.3" y="1155.5" fill="#2a2a2a">DR</text>
<text x="972.3" y="1165.7" fill="#2a2a2a">RING</text>
<text x="972.3" y="1175.9" fill="#2a2a2a">DR</text>
<text x="972.3" y="1186.2" fill="#2a2a2a">GDSL</text>
<text x="972.3" y="1196.4" fill="#2a2a2a">AP</text>
<text x="972.3" y="1206.6" fill="#2a2a2a">F-box</text>
<text x="972.3" y="1216.8" fill="#2a2a2a">SAUR</text>
<text x="972.3" y="1227.0" fill="#2a2a2a">RING</text>
<text x="972.3" y="1237.2" fill="#2a2a2a">HERK</text>
<text x="972.3" y="1247.4" fill="#2a2a2a">AP</text>
<text x="972.3" y="1257.6" fill="#2a2a2a">RING</text>
<text x="972.3" y="1267.8" fill="#2a2a2a">PREP</text>
<text x="972.3" y="1278.0" fill="#2a2a2a">RING</text>
<text x="972.3" y="1288.2" fill="#2a2a2a">RING</text>
<text x="972.3" y="1298.4" fill="#2a2a2a">RING</text>
<text x="972.3" y="1308.6" fill="#2a2a2a">SAMMT</text>
<text x="972.3" y="1318.9" fill="#2a2a2a">RING</text>
<text x="972.3" y="1329.1" fill="#2a2a2a">AP</text>
<text x="972.3" y="1339.3" fill="#2a2a2a">SAUR</text>
<text x="972.3" y="1349.5" fill="#2a2a2a">PR</text>
<text x="972.3" y="1359.7" fill="#2a2a2a">PP</text>
<text x="972.3" y="1369.9" fill="#2a2a2a">Aux</text>
<text x="972.3" y="1380.1" fill="#2a2a2a">ACC</text>
<text x="972.3" y="1390.3" fill="#2a2a2a">LOX</text>
<text x="972.3" y="1400.5" fill="#2a2a2a">WR</text>
<text x="972.3" y="1410.7" fill="#2a2a2a">ABC</text>
<text x="972.3" y="1420.9" fill="#2a2a2a">SAMMT</text>
<text x="972.3" y="1431.1" fill="#2a2a2a">PAOX</text>
<text x="972.3" y="1441.3" fill="#2a2a2a">Aux</text>
<text x="972.3" y="1451.6" fill="#2a2a2a">SAUR</text>
<text x="972.3" y="1461.8" fill="#2a2a2a">GDSL</text>
<text x="972.3" y="1472.0" fill="#2a2a2a">SAMMT</text>
<text x="972.3" y="1482.2" fill="#2a2a2a">CL</text>
<text x="972.3" y="1492.4" fill="#2a2a2a">ADF</text>
<text x="972.3" y="1502.6" fill="#2a2a2a">SAMMT</text>
</g>
<text transform="translate(736.2 1508.8) rotate(-90) scale(0.95 1)" text-anchor="end" font-family="'Liberation Sans', Arial, Helvetica, sans-serif" font-size="39.5" style="font-kerning:none">200DAI_S</text>
<text transform="translate(806.6 1508.8) rotate(-90) scale(0.95 1)" text-anchor="end" font-family="'Liberation Sans', Arial, Helvetica, sans-serif" font-size="39.5" style="font-kerning:none">200DAI_C</text>
<text transform="translate(877.0 1508.8) rotate(-90) scale(0.95 1)" text-anchor="end" font-family="'Liberation Sans', Arial, Helvetica, sans-serif" font-size="39.5" style="font-kerning:none">5DAI_C</text>
<text transform="translate(947.4 1508.8) rotate(-90) scale(0.95 1)" text-anchor="end" font-family="'Liberation Sans', Arial, Helvetica, sans-serif" font-size="39.5" style="font-kerning:none">5DAI5_S</text>
<path d="M722.7 750.7L846.0 750.7M722.7 750.7L722.7 846.5M846.0 750.7L846.0 818.5M793.4 818.5L899.3 818.5M793.4 818.5L793.4 846.5M899.3 818.5L899.3 843.0M863.8 843.0L934.5 843.0M863.8 843.0L863.8 846.5M934.5 843.0L934.5 846.5" stroke="#000" stroke-width="2" fill="none" stroke-linecap="square" />
<path d="M525.5 1498.4L681.0 1498.4M525.5 1418.0L525.5 1498.4M525.5 1418.0L638.5 1418.0M638.5 1357.0L638.5 1480.0M638.5 1357.0L665.4 1357.0M638.5 1480.0L665.4 1480.0M665.4 1266.0L665.4 1447.9M665.4 1266.0L673.5 1266.0M665.4 1447.9L669.2 1447.9M673.5 1147.0L673.5 1384.0M665.4 1472.5L665.4 1488.0M665.4 1488.0L681.0 1488.0M665.4 1472.5L673.0 1472.5M673.0 1467.7L673.0 1477.8M673.0 1467.7L681.0 1467.7M673.0 1477.8L681.0 1477.8M669.2 1438.0L669.2 1457.3M669.2 1457.3L681.0 1457.3M669.2 1438.0L675.4 1438.0M675.4 1429.0L675.4 1447.0M675.4 1447.0L681.0 1447.0M675.4 1429.0L677.5 1429.0M677.5 1418.0L677.5 1437.0M677.5 1437.0L681.0 1437.0M677.5 1418.0L681.0 1418.0M673.5 1384.0L676.0 1384.0M676.0 1370.0L676.0 1400.0M676.0 1400.0L681.0 1400.0M678.0 1366.0L678.0 1392.0M678.0 1366.0L681.0 1366.0M678.0 1392.0L681.0 1392.0" stroke="#000" stroke-width="1.6" fill="none" stroke-linecap="square" />
<path d="M679.6 960.0L679.6 1283.0" stroke="#000" stroke-width="4.6" fill="none" stroke-linecap="square" />
<path d="M680.8 855.0L680.2 960.0" stroke="#000" stroke-width="3.0" fill="none" stroke-linecap="square" />
<path d="M680.5 1283.0L680.5 1355.0" stroke="#000" stroke-width="2.4" fill="none" stroke-linecap="square" stroke-dasharray="14 3"/>
<g shape-rendering="crispEdges">
<rect x="1245.40" y="804.00" width="61.80" height="10.61" fill="#0000ff"/>
<rect x="1306.90" y="804.00" width="61.10" height="10.61" fill="#695900"/>
<rect x="1367.70" y="804.00" width="61.50" height="10.61" fill="#4b4000"/>
<rect x="1428.90" y="804.00" width="59.60" height="10.61" fill="#322a00"/>
<rect x="1245.40" y="814.31" width="61.80" height="10.61" fill="#0000ff"/>
<rect x="1306.90" y="814.31" width="61.10" height="10.61" fill="#5f5100"/>
<rect x="1367.70" y="814.31" width="61.50" height="10.61" fill="#645500"/>
<rect x="1428.90" y="814.31" width="59.60" height="10.61" fill="#262000"/>
<rect x="1245.40" y="824.62" width="61.80" height="10.61" fill="#0000ff"/>
<rect x="1306.90" y="824.62" width="61.10" height="10.61" fill="#4b4000"/>
<rect x="1367.70" y="824.62" width="61.50" height="10.61" fill="#3e3500"/>
<rect x="1428.90" y="824.62" width="59.60" height="10.61" fill="#705f00"/>
<rect x="1245.40" y="834.92" width="61.80" height="10.61" fill="#0000ff"/>
<rect x="1306.90" y="834.92" width="61.10" height="10.61" fill="#645500"/>
<rect x="1367.70" y="834.92" width="61.50" height="10.61" fill="#463b00"/>
<rect x="1428.90" y="834.92" width="59.60" height="10.61" fill="#4b4000"/>
<rect x="1245.40" y="845.23" width="61.80" height="10.61" fill="#0000ff"/>
<rect x="1306.90" y="845.23" width="61.10" height="10.61" fill="#262000"/>
<rect x="1367.70" y="845.23" width="61.50" height="10.61" fill="#645500"/>
<rect x="1428.90" y="845.23" width="59.60" height="10.61" fill="#695900"/>
<rect x="1245.40" y="855.54" width="61.80" height="10.61" fill="#0000ff"/>
<rect x="1306.90" y="855.54" width="61.10" height="10.61" fill="#826e00"/>
<rect x="1367.70" y="855.54" width="61.50" height="10.61" fill="#322a00"/>
<rect x="1428.90" y="855.54" width="59.60" height="10.61" fill="#322a00"/>
<rect x="1245.40" y="865.85" width="61.80" height="10.61" fill="#0000ff"/>
<rect x="1306.90" y="865.85" width="61.10" height="10.61" fill="#705f00"/>
<rect x="1367.70" y="865.85" width="61.50" height="10.61" fill="#524600"/>
<rect x="1428.90" y="865.85" width="59.60" height="10.61" fill="#322a00"/>
<rect x="1245.40" y="876.16" width="61.80" height="10.61" fill="#00008c"/>
<rect x="1306.90" y="876.16" width="61.10" height="10.61" fill="#fad400"/>
<rect x="1367.70" y="876.16" width="61.50" height="10.61" fill="#000033"/>
<rect x="1428.90" y="876.16" width="59.60" height="10.61" fill="#000040"/>
<rect x="1245.40" y="886.46" width="61.80" height="10.61" fill="#00008c"/>
<rect x="1306.90" y="886.46" width="61.10" height="10.61" fill="#f2ce00"/>
<rect x="1367.70" y="886.46" width="61.50" height="10.61" fill="#00001a"/>
<rect x="1428.90" y="886.46" width="59.60" height="10.61" fill="#000059"/>
<rect x="1245.40" y="896.77" width="61.80" height="10.61" fill="#000026"/>
<rect x="1306.90" y="896.77" width="61.10" height="10.61" fill="#fad400"/>
<rect x="1367.70" y="896.77" width="61.50" height="10.61" fill="#000073"/>
<rect x="1428.90" y="896.77" width="59.60" height="10.61" fill="#000066"/>
<rect x="1245.40" y="907.08" width="61.80" height="10.61" fill="#0000ff"/>
<rect x="1306.90" y="907.08" width="61.10" height="10.61" fill="#786600"/>
<rect x="1367.70" y="907.08" width="61.50" height="10.61" fill="#262000"/>
<rect x="1428.90" y="907.08" width="59.60" height="10.61" fill="#4b4000"/>
<rect x="1245.40" y="917.39" width="61.80" height="10.61" fill="#000026"/>
<rect x="1306.90" y="917.39" width="61.10" height="10.61" fill="#fad400"/>
<rect x="1367.70" y="917.39" width="61.50" height="10.61" fill="#00006b"/>
<rect x="1428.90" y="917.39" width="59.60" height="10.61" fill="#000085"/>
<rect x="1245.40" y="927.69" width="61.80" height="10.61" fill="#0000ff"/>
<rect x="1306.90" y="927.69" width="61.10" height="10.61" fill="#645500"/>
<rect x="1367.70" y="927.69" width="61.50" height="10.61" fill="#3e3500"/>
<rect x="1428.90" y="927.69" width="59.60" height="10.61" fill="#584a00"/>
<rect x="1245.40" y="938.00" width="61.80" height="10.61" fill="#0000ff"/>
<rect x="1306.90" y="938.00" width="61.10" height="10.61" fill="#584a00"/>
<rect x="1367.70" y="938.00" width="61.50" height="10.61" fill="#5f5100"/>
<rect x="1428.90" y="938.00" width="59.60" height="10.61" fill="#4b4000"/>
<rect x="1245.40" y="948.31" width="61.80" height="10.61" fill="#0000eb"/>
<rect x="1306.90" y="948.31" width="61.10" height="10.61" fill="#aa9000"/>
<rect x="1367.70" y="948.31" width="61.50" height="10.61" fill="#120f00"/>
<rect x="1428.90" y="948.31" width="59.60" height="10.61" fill="#1e1900"/>
<rect x="1245.40" y="958.62" width="61.80" height="10.61" fill="#0000eb"/>
<rect x="1306.90" y="958.62" width="61.10" height="10.61" fill="#695900"/>
<rect x="1367.70" y="958.62" width="61.50" height="10.61" fill="#695900"/>
<rect x="1428.90" y="958.62" width="59.60" height="10.61" fill="#1e1900"/>
<rect x="1245.40" y="968.93" width="61.80" height="10.61" fill="#0000ff"/>
<rect x="1306.90" y="968.93" width="61.10" height="10.61" fill="#191500"/>
<rect x="1367.70" y="968.93" width="61.50" height="10.61" fill="#463b00"/>
<rect x="1428.90" y="968.93" width="59.60" height="10.61" fill="#826e00"/>
<rect x="1245.40" y="979.23" width="61.80" height="10.61" fill="#0000ff"/>
<rect x="1306.90" y="979.23" width="61.10" height="10.61" fill="#000000"/>
<rect x="1367.70" y="979.23" width="61.50" height="10.61" fill="#786600"/>
<rect x="1428.90" y="979.23" width="59.60" height="10.61" fill="#7d6a00"/>
<rect x="1245.40" y="989.54" width="61.80" height="10.61" fill="#0000ff"/>
<rect x="1306.90" y="989.54" width="61.10" height="10.61" fill="#463b00"/>
<rect x="1367.70" y="989.54" width="61.50" height="10.61" fill="#7d6a00"/>
<rect x="1428.90" y="989.54" width="59.60" height="10.61" fill="#322a00"/>
<rect x="1245.40" y="999.85" width="61.80" height="10.61" fill="#0000f2"/>
<rect x="1306.90" y="999.85" width="61.10" height="10.61" fill="#000008"/>
<rect x="1367.70" y="999.85" width="61.50" height="10.61" fill="#826e00"/>
<rect x="1428.90" y="999.85" width="59.60" height="10.61" fill="#695900"/>
<rect x="1245.40" y="1010.16" width="61.80" height="10.61" fill="#0000d9"/>
<rect x="1306.90" y="1010.16" width="61.10" height="10.61" fill="#d4b400"/>
<rect x="1367.70" y="1010.16" width="61.50" height="10.61" fill="#00000a"/>
<rect x="1428.90" y="1010.16" width="59.60" height="10.61" fill="#080600"/>
<rect x="1245.40" y="1020.47" width="61.80" height="10.61" fill="#0000e0"/>
<rect x="1306.90" y="1020.47" width="61.10" height="10.61" fill="#bc9f00"/>
<rect x="1367.70" y="1020.47" width="61.50" height="10.61" fill="#262000"/>
<rect x="1428.90" y="1020.47" width="59.60" height="10.61" fill="#00001a"/>
<rect x="1245.40" y="1030.77" width="61.80" height="10.61" fill="#0000e6"/>
<rect x="1306.90" y="1030.77" width="61.10" height="10.61" fill="#bc9f00"/>
<rect x="1367.70" y="1030.77" width="61.50" height="10.61" fill="#000000"/>
<rect x="1428.90" y="1030.77" width="59.60" height="10.61" fill="#191500"/>
<rect x="1245.40" y="1041.08" width="61.80" height="10.61" fill="#0000f2"/>
<rect x="1306.90" y="1041.08" width="61.10" height="10.61" fill="#9b8300"/>
<rect x="1367.70" y="1041.08" width="61.50" height="10.61" fill="#1e1900"/>
<rect x="1428.90" y="1041.08" width="59.60" height="10.61" fill="#262000"/>
<rect x="1245.40" y="1051.39" width="61.80" height="10.61" fill="#0000ff"/>
<rect x="1306.90" y="1051.39" width="61.10" height="10.61" fill="#120f00"/>
<rect x="1367.70" y="1051.39" width="61.50" height="10.61" fill="#524600"/>
<rect x="1428.90" y="1051.39" width="59.60" height="10.61" fill="#8a7500"/>
<rect x="1245.40" y="1061.70" width="61.80" height="10.61" fill="#0000ff"/>
<rect x="1306.90" y="1061.70" width="61.10" height="10.61" fill="#191500"/>
<rect x="1367.70" y="1061.70" width="61.50" height="10.61" fill="#7d6a00"/>
<rect x="1428.90" y="1061.70" width="59.60" height="10.61" fill="#695900"/>
<rect x="1245.40" y="1072.01" width="61.80" height="10.61" fill="#0000ff"/>
<rect x="1306.90" y="1072.01" width="61.10" height="10.61" fill="#372f00"/>
<rect x="1367.70" y="1072.01" width="61.50" height="10.61" fill="#705f00"/>
<rect x="1428.90" y="1072.01" width="59.60" height="10.61" fill="#5f5100"/>
<rect x="1245.40" y="1082.31" width="61.80" height="10.61" fill="#0000ff"/>
<rect x="1306.90" y="1082.31" width="61.10" height="10.61" fill="#191500"/>
<rect x="1367.70" y="1082.31" width="61.50" height="10.61" fill="#705f00"/>
<rect x="1428.90" y="1082.31" width="59.60" height="10.61" fill="#766400"/>
<rect x="1245.40" y="1092.62" width="61.80" height="10.61" fill="#0000ff"/>
<rect x="1306.90" y="1092.62" width="61.10" height="10.61" fill="#050400"/>
<rect x="1367.70" y="1092.62" width="61.50" height="10.61" fill="#705f00"/>
<rect x="1428.90" y="1092.62" width="59.60" height="10.61" fill="#705f00"/>
<rect x="1245.40" y="1102.93" width="61.80" height="10.61" fill="#0000ff"/>
<rect x="1306.90" y="1102.93" width="61.10" height="10.61" fill="#080600"/>
<rect x="1367.70" y="1102.93" width="61.50" height="10.61" fill="#705f00"/>
<rect x="1428.90" y="1102.93" width="59.60" height="10.61" fill="#705f00"/>
<rect x="1245.40" y="1113.24" width="61.80" height="10.61" fill="#0000f2"/>
<rect x="1306.90" y="1113.24" width="61.10" height="10.61" fill="#000014"/>
<rect x="1367.70" y="1113.24" width="61.50" height="10.61" fill="#7d6a00"/>
<rect x="1428.90" y="1113.24" width="59.60" height="10.61" fill="#7d6a00"/>
<rect x="1245.40" y="1123.54" width="61.80" height="10.61" fill="#0000ff"/>
<rect x="1306.90" y="1123.54" width="61.10" height="10.61" fill="#262000"/>
<rect x="1367.70" y="1123.54" width="61.50" height="10.61" fill="#584a00"/>
<rect x="1428.90" y="1123.54" width="59.60" height="10.61" fill="#7d6a00"/>
<rect x="1245.40" y="1133.85" width="61.80" height="10.61" fill="#0000ff"/>
<rect x="1306.90" y="1133.85" width="61.10" height="10.61" fill="#262000"/>
<rect x="1367.70" y="1133.85" width="61.50" height="10.61" fill="#645500"/>
<rect x="1428.90" y="1133.85" width="59.60" height="10.61" fill="#786600"/>
<rect x="1245.40" y="1144.16" width="61.80" height="10.61" fill="#0000f2"/>
<rect x="1306.90" y="1144.16" width="61.10" height="10.61" fill="#00000f"/>
<rect x="1367.70" y="1144.16" width="61.50" height="10.61" fill="#786600"/>
<rect x="1428.90" y="1144.16" width="59.60" height="10.61" fill="#7d6a00"/>
<rect x="1245.40" y="1154.47" width="61.80" height="10.61" fill="#0000f7"/>
<rect x="1306.90" y="1154.47" width="61.10" height="10.61" fill="#463b00"/>
<rect x="1367.70" y="1154.47" width="61.50" height="10.61" fill="#645500"/>
<rect x="1428.90" y="1154.47" width="59.60" height="10.61" fill="#5f5100"/>
<rect x="1245.40" y="1164.78" width="61.80" height="10.61" fill="#000059"/>
<rect x="1306.90" y="1164.78" width="61.10" height="10.61" fill="#fad400"/>
<rect x="1367.70" y="1164.78" width="61.50" height="10.61" fill="#000033"/>
<rect x="1428.90" y="1164.78" width="59.60" height="10.61" fill="#000073"/>
<rect x="1245.40" y="1175.08" width="61.80" height="10.61" fill="#0000ff"/>
<rect x="1306.90" y="1175.08" width="61.10" height="10.61" fill="#4b4000"/>
<rect x="1367.70" y="1175.08" width="61.50" height="10.61" fill="#645500"/>
<rect x="1428.90" y="1175.08" width="59.60" height="10.61" fill="#4b4000"/>
<rect x="1245.40" y="1185.39" width="61.80" height="10.61" fill="#0000ff"/>
<rect x="1306.90" y="1185.39" width="61.10" height="10.61" fill="#9b8300"/>
<rect x="1367.70" y="1185.39" width="61.50" height="10.61" fill="#1e1900"/>
<rect x="1428.90" y="1185.39" width="59.60" height="10.61" fill="#1e1900"/>
</g>
<g font-family="'Liberation Sans', Arial, Helvetica, sans-serif" font-size="12.6" style="font-kerning:none">
<text transform="translate(1493.8 813.2) scale(1.54 1)">WRKY</text>
<text transform="translate(1493.8 823.5) scale(1.54 1)">NAC</text>
<text transform="translate(1493.8 833.8) scale(1.54 1)">GRAS</text>
<text transform="translate(1493.8 844.1) scale(1.54 1)">NAC</text>
<text transform="translate(1493.8 854.4) scale(1.54 1)">NAC</text>
<text transform="translate(1493.8 864.7) scale(1.54 1)">HB</text>
<text transform="translate(1493.8 875.0) scale(1.54 1)">GATA</text>
<text transform="translate(1493.8 885.3) scale(1.54 1)">bZIP</text>
<text transform="translate(1493.8 895.6) scale(1.54 1)">MYB</text>
<text transform="translate(1493.8 905.9) scale(1.54 1)">MYB</text>
<text transform="translate(1493.8 916.2) scale(1.54 1)">HB</text>
<text transform="translate(1493.8 926.5) scale(1.54 1)">bZIP</text>
<text transform="translate(1493.8 936.8) scale(1.54 1)">bHLH</text>
<text transform="translate(1493.8 947.2) scale(1.54 1)">NAC</text>
<text transform="translate(1493.8 957.5) scale(1.54 1)">NAC</text>
<text transform="translate(1493.8 967.8) scale(1.54 1)">bZIP</text>
<text transform="translate(1493.8 978.1) scale(1.54 1)">bHLH</text>
<text transform="translate(1493.8 988.4) scale(1.54 1)">MYB</text>
<text transform="translate(1493.8 998.7) scale(1.54 1)">NAC</text>
<text transform="translate(1493.8 1009.0) scale(1.54 1)">bZIP</text>
<text transform="translate(1493.8 1019.3) scale(1.54 1)">bHLH</text>
<text transform="translate(1493.8 1029.6) scale(1.54 1)">GRAS</text>
<text transform="translate(1493.8 1039.9) scale(1.54 1)">NAC</text>
<text transform="translate(1493.8 1050.2) scale(1.54 1)">HB</text>
<text transform="translate(1493.8 1060.5) scale(1.54 1)">MYB</text>
<text transform="translate(1493.8 1070.9) scale(1.54 1)">MYB</text>
<text transform="translate(1493.8 1081.2) scale(1.54 1)">NAC</text>
<text transform="translate(1493.8 1091.5) scale(1.54 1)">MYB</text>
<text transform="translate(1493.8 1101.8) scale(1.54 1)">WRKY</text>
<text transform="translate(1493.8 1112.1) scale(1.54 1)">bHLH</text>
<text transform="translate(1493.8 1122.4) scale(1.54 1)">bHLH</text>
<text transform="translate(1493.8 1132.7) scale(1.54 1)">bHLH</text>
<text transform="translate(1493.8 1143.0) scale(1.54 1)">MYB</text>
<text transform="translate(1493.8 1153.3) scale(1.54 1)">MYB</text>
<text transform="translate(1493.8 1163.6) scale(1.54 1)">NAC</text>
<text transform="translate(1493.8 1173.9) scale(1.54 1)">bZIP</text>
<text transform="translate(1493.8 1184.2) scale(1.54 1)">MYB</text>
<text transform="translate(1493.8 1194.5) scale(1.54 1)">bZIP</text>
</g>
<text transform="translate(1288.5 1200.4) rotate(-90) scale(0.66 1)" text-anchor="end" font-family="'Liberation Sans', Arial, Helvetica, sans-serif" font-size="34.3" style="font-kerning:none">200DAI_S</text>
<text transform="translate(1349.4 1200.4) rotate(-90) scale(0.66 1)" text-anchor="end" font-family="'Liberation Sans', Arial, Helvetica, sans-serif" font-size="34.3" style="font-kerning:none">200DAI_C</text>
<text transform="translate(1410.3 1200.4) rotate(-90) scale(0.66 1)" text-anchor="end" font-family="'Liberation Sans', Arial, Helvetica, sans-serif" font-size="34.3" style="font-kerning:none">5DAI5_S</text>
<text transform="translate(1471.2 1200.4) rotate(-90) scale(0.66 1)" text-anchor="end" font-family="'Liberation Sans', Arial, Helvetica, sans-serif" font-size="34.3" style="font-kerning:none">5DAI_C</text>
<path d="M1276.6 744.2L1383.4 744.2M1276.6 744.2L1276.6 801.5M1383.4 744.2L1383.4 782.9M1337.7 782.9L1428.8 782.9M1337.7 782.9L1337.7 801.5M1428.8 782.9L1428.8 800.0M1398.6 800.0L1459.7 800.0M1398.6 800.0L1398.6 802.0M1459.7 800.0L1459.7 802.0" stroke="#000" stroke-width="1.3" fill="none" stroke-linecap="square" />
<path d="M1105.1 1083.7L1105.1 1191.5M1105.1 1083.7L1223.6 1083.7M1105.1 1191.5L1240.9 1191.5M1223.4 991.5L1223.4 1175.9M1223.4 991.5L1228.0 991.5M1228.0 883.1L1228.0 1099.5M1228.0 883.1L1231.7 883.1M1231.7 853.1L1231.7 912.3M1223.4 1175.9L1229.8 1175.9M1229.8 1170.7L1229.8 1180.6M1229.8 1170.7L1240.9 1170.7M1229.8 1180.6L1240.9 1180.6M1231.7 853.1L1235.0 853.1M1235.0 840.5L1235.0 865.6M1235.0 865.6L1238.5 865.6M1238.5 861.0L1238.5 870.9M1238.5 861.0L1240.9 861.0M1238.5 870.9L1240.9 870.9M1235.0 849.9L1240.9 849.9M1235.0 840.0L1240.9 840.0M1231.7 912.3L1240.9 912.3M1236.4 903.0L1236.4 922.8M1236.4 922.8L1240.9 922.8M1228.0 1099.5L1233.3 1099.5M1233.3 1045.2L1233.3 1150.8M1233.3 1045.2L1236.2 1045.2M1233.3 1150.8L1236.8 1150.8M1236.8 1138.6L1236.8 1160.2M1236.8 1160.2L1240.9 1160.2M1236.8 1149.7L1240.9 1149.7M1236.2 1005.5L1236.2 1091.9M1240.3 1016.0L1238.5 1035.9M1239.7 1035.9L1239.7 1046.4M1240.0 930.0L1238.0 972.0" stroke="#000" stroke-width="1.3" fill="none" stroke-linecap="square" />
<path d="M1239.7 809.0L1236.8 840.5M1240.3 881.4L1237.1 903.6M1239.7 1129.2L1237.4 1145.6M1239.1 1097.7L1239.1 1118.7" stroke="#000" stroke-width="2.6" fill="none" stroke-linecap="square" />
<path d="M1238.0 972.0L1238.6 1005.5M1240.3 1056.9L1237.6 1091.9" stroke="#000" stroke-width="3.8" fill="none" stroke-linecap="square" />
<g shape-rendering="crispEdges">
<rect x="1251.60" y="1401.00" width="50.58" height="31.41" fill="#fad400"/>
<rect x="1301.88" y="1401.00" width="50.58" height="31.41" fill="#000047"/>
<rect x="1352.15" y="1401.00" width="50.57" height="31.41" fill="#000059"/>
<rect x="1402.42" y="1401.00" width="50.58" height="31.41" fill="#000073"/>
<rect x="1251.60" y="1432.11" width="50.58" height="31.41" fill="#fad400"/>
<rect x="1301.88" y="1432.11" width="50.58" height="31.41" fill="#000026"/>
<rect x="1352.15" y="1432.11" width="50.57" height="31.41" fill="#00006b"/>
<rect x="1402.42" y="1432.11" width="50.58" height="31.41" fill="#000080"/>
<rect x="1251.60" y="1463.22" width="50.58" height="31.41" fill="#463b00"/>
<rect x="1301.88" y="1463.22" width="50.58" height="31.41" fill="#0000ff"/>
<rect x="1352.15" y="1463.22" width="50.57" height="31.41" fill="#5f5100"/>
<rect x="1402.42" y="1463.22" width="50.58" height="31.41" fill="#5f5100"/>
<rect x="1251.60" y="1494.33" width="50.58" height="31.41" fill="#141100"/>
<rect x="1301.88" y="1494.33" width="50.58" height="31.41" fill="#0000ff"/>
<rect x="1352.15" y="1494.33" width="50.57" height="31.41" fill="#786600"/>
<rect x="1402.42" y="1494.33" width="50.58" height="31.41" fill="#695900"/>
<rect x="1251.60" y="1525.44" width="50.58" height="31.41" fill="#826e00"/>
<rect x="1301.88" y="1525.44" width="50.58" height="31.41" fill="#0000ff"/>
<rect x="1352.15" y="1525.44" width="50.57" height="31.41" fill="#262000"/>
<rect x="1402.42" y="1525.44" width="50.58" height="31.41" fill="#372f00"/>
<rect x="1251.60" y="1556.55" width="50.58" height="31.41" fill="#dcbb00"/>
<rect x="1301.88" y="1556.55" width="50.58" height="31.41" fill="#0000bf"/>
<rect x="1352.15" y="1556.55" width="50.57" height="31.41" fill="#1e1900"/>
<rect x="1402.42" y="1556.55" width="50.58" height="31.41" fill="#00004c"/>
<rect x="1251.60" y="1587.66" width="50.58" height="31.41" fill="#eec900"/>
<rect x="1301.88" y="1587.66" width="50.58" height="31.41" fill="#000038"/>
<rect x="1352.15" y="1587.66" width="50.57" height="31.41" fill="#00001a"/>
<rect x="1402.42" y="1587.66" width="50.58" height="31.41" fill="#0000a6"/>
<rect x="1251.60" y="1618.77" width="50.58" height="31.41" fill="#463b00"/>
<rect x="1301.88" y="1618.77" width="50.58" height="31.41" fill="#0000ff"/>
<rect x="1352.15" y="1618.77" width="50.57" height="31.41" fill="#8a7500"/>
<rect x="1402.42" y="1618.77" width="50.58" height="31.41" fill="#191500"/>
<rect x="1251.60" y="1649.88" width="50.58" height="31.41" fill="#705f00"/>
<rect x="1301.88" y="1649.88" width="50.58" height="31.41" fill="#0000ff"/>
<rect x="1352.15" y="1649.88" width="50.57" height="31.41" fill="#262000"/>
<rect x="1402.42" y="1649.88" width="50.58" height="31.41" fill="#584a00"/>
<rect x="1251.60" y="1680.99" width="50.58" height="31.41" fill="#705f00"/>
<rect x="1301.88" y="1680.99" width="50.58" height="31.41" fill="#0000ff"/>
<rect x="1352.15" y="1680.99" width="50.57" height="31.41" fill="#463b00"/>
<rect x="1402.42" y="1680.99" width="50.58" height="31.41" fill="#372f00"/>
</g>
<g font-family="'Liberation Sans', Arial, Helvetica, sans-serif" font-size="12.5" style="font-kerning:none">
<text transform="translate(1454.9 1416.0) scale(1.44 1)">POX</text>
<text transform="translate(1454.9 1447.1) scale(1.44 1)">POX</text>
<text transform="translate(1454.9 1478.2) scale(1.44 1)">GST</text>
<text transform="translate(1454.9 1509.3) scale(1.44 1)">POX</text>
<text transform="translate(1454.9 1540.4) scale(1.44 1)">POX</text>
<text transform="translate(1454.9 1571.5) scale(1.44 1)">RBOH</text>
<text transform="translate(1454.9 1602.6) scale(1.44 1)">POX</text>
<text transform="translate(1454.9 1633.7) scale(1.44 1)">POX</text>
<text transform="translate(1454.9 1664.8) scale(1.44 1)">POX</text>
<text transform="translate(1454.9 1695.9) scale(1.44 1)">POX</text>
</g>
<text transform="translate(1285.3 1715.6) rotate(-90) scale(0.633 1)" text-anchor="end" font-family="'Liberation Sans', Arial, Helvetica, sans-serif" font-size="28.2" style="font-kerning:none">200DAI_C</text>
<text transform="translate(1335.3 1715.6) rotate(-90) scale(0.633 1)" text-anchor="end" font-family="'Liberation Sans', Arial, Helvetica, sans-serif" font-size="28.2" style="font-kerning:none">200DAI_S</text>
<text transform="translate(1385.3 1715.6) rotate(-90) scale(0.633 1)" text-anchor="end" font-family="'Liberation Sans', Arial, Helvetica, sans-serif" font-size="28.2" style="font-kerning:none">5DAI5_S</text>
<text transform="translate(1435.3 1715.6) rotate(-90) scale(0.633 1)" text-anchor="end" font-family="'Liberation Sans', Arial, Helvetica, sans-serif" font-size="28.2" style="font-kerning:none">5DAI_C</text>
<path d="M1277.4 1353.9L1365.0 1353.9M1277.4 1353.9L1277.4 1399.0M1365.0 1353.9L1365.0 1365.6M1327.2 1365.6L1402.8 1365.6M1327.2 1365.6L1327.2 1399.0M1402.8 1365.6L1402.8 1396.6M1377.4 1396.6L1427.9 1396.6M1377.4 1396.6L1377.4 1399.0M1427.9 1396.6L1427.9 1399.0" stroke="#000" stroke-width="1.35" fill="none" stroke-linecap="square" />
<path d="M1136.5 1432.0L1136.5 1587.7M1136.5 1432.0L1232.6 1432.0M1232.6 1416.5L1232.6 1447.7M1232.6 1416.5L1247.7 1416.5M1232.6 1447.7L1247.7 1447.7M1136.5 1587.7L1175.2 1587.7M1175.2 1517.4L1175.2 1658.0M1175.2 1517.4L1206.6 1517.4M1206.6 1494.3L1206.6 1541.4M1206.6 1541.4L1247.7 1541.4M1206.6 1494.3L1235.1 1494.3M1235.1 1478.8L1235.1 1510.3M1235.1 1478.8L1247.7 1478.8M1235.1 1510.3L1247.7 1510.3M1175.2 1658.0L1240.6 1658.0M1240.6 1619.7L1240.6 1696.7M1240.6 1696.7L1247.7 1696.7M1241.9 1587.7L1241.9 1650.0M1241.9 1587.7L1245.4 1587.7M1245.4 1572.2L1245.4 1603.3M1245.4 1572.2L1247.7 1572.2M1245.4 1603.3L1247.7 1603.3M1240.6 1650.0L1244.5 1650.0M1244.5 1634.8L1244.5 1666.0M1244.5 1634.8L1247.7 1634.8M1244.5 1666.0L1247.7 1666.0" stroke="#000" stroke-width="1.35" fill="none" stroke-linecap="square" />
</svg></body></html>
